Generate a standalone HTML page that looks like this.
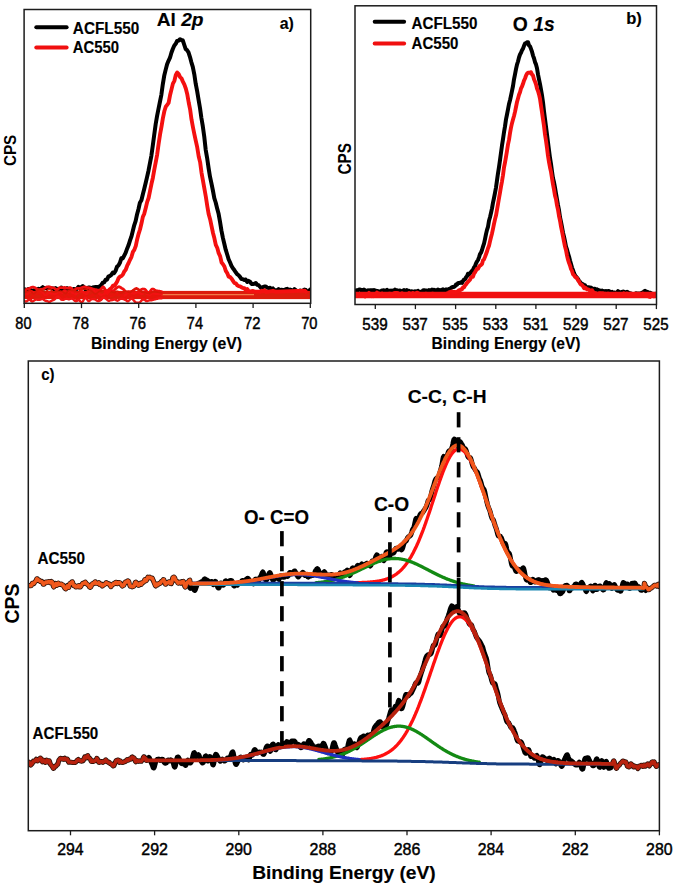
<!DOCTYPE html>
<html><head><meta charset="utf-8"><style>
html,body{margin:0;padding:0;background:#fff;width:675px;height:887px;overflow:hidden}
svg{display:block}
text{font-family:"Liberation Sans",sans-serif}
</style></head><body>
<svg width="675" height="887" viewBox="0 0 675 887" font-family="Liberation Sans, sans-serif">
<rect width="675" height="887" fill="#fff"/>
<clipPath id="ca"><rect x="24.1" y="9.5" width="286.6" height="293.8"/></clipPath>
<g clip-path="url(#ca)">
<polyline points="24.1,289.0 25.5,289.9 27.0,290.9 28.4,289.1 29.8,288.9 31.2,290.8 32.7,290.6 34.1,290.3 35.5,290.3 37.0,289.5 38.4,288.7 39.8,289.4 41.3,288.3 42.7,287.2 44.1,288.5 45.5,287.9 47.0,288.4 48.4,287.7 49.8,288.3 51.3,288.3 52.7,288.4 54.1,289.1 55.6,288.1 57.0,289.0 58.4,289.0 59.8,290.3 61.3,287.6 62.7,289.4 64.1,288.7 65.6,289.0 67.0,288.1 68.4,289.1 69.9,290.2 71.3,289.5 72.7,289.5 74.1,288.9 75.6,289.9 77.0,288.8 78.4,286.9 79.9,288.1 81.3,287.1 82.7,286.0 84.2,288.2 85.6,289.7 87.0,288.7 88.4,287.5 89.9,287.4 91.3,288.7 92.7,287.5 94.2,287.2 95.6,287.0 97.0,287.0 98.5,287.2 99.9,286.3 101.3,285.1 102.7,282.7 104.2,282.4 105.6,279.8 107.0,279.7 108.5,276.4 109.9,276.0 111.3,274.9 112.8,272.5 114.2,273.1 115.6,270.7 117.0,266.8 118.5,265.4 119.9,262.8 121.3,258.3 122.8,258.4 124.2,255.6 125.6,252.9 127.1,248.7 128.5,245.3 129.9,240.8 131.3,236.9 132.8,231.0 134.2,225.3 135.6,221.2 137.1,214.2 138.5,209.0 139.9,202.7 141.4,200.2 142.8,194.5 144.2,189.0 145.6,183.2 147.1,176.9 148.5,170.7 149.9,163.4 151.4,155.6 152.8,145.5 154.2,135.0 155.7,124.0 157.1,115.9 158.5,108.9 159.9,102.0 161.4,94.6 162.8,84.3 164.2,75.8 165.7,69.6 167.1,64.2 168.5,60.8 170.0,57.7 171.4,52.8 172.8,49.0 174.2,45.7 175.7,43.8 177.1,40.9 178.5,40.7 180.0,39.2 181.4,40.2 182.8,40.3 184.3,45.0 185.7,49.2 187.1,50.2 188.5,52.4 190.0,57.1 191.4,62.3 192.8,66.8 194.3,74.3 195.7,83.7 197.1,90.8 198.6,99.8 200.0,108.0 201.4,118.0 202.8,126.2 204.3,137.0 205.7,149.8 207.1,157.8 208.6,168.1 210.0,176.7 211.4,183.2 212.9,190.5 214.3,198.1 215.7,202.5 217.1,208.2 218.6,213.8 220.0,221.6 221.4,230.4 222.9,237.9 224.3,243.8 225.7,249.7 227.2,254.5 228.6,259.2 230.0,262.3 231.4,265.7 232.9,268.3 234.3,270.1 235.7,272.3 237.2,274.2 238.6,275.3 240.0,276.9 241.5,279.1 242.9,279.2 244.3,279.9 245.7,279.5 247.2,282.0 248.6,280.9 250.0,281.7 251.5,283.9 252.9,284.0 254.3,283.8 255.8,283.0 257.2,284.8 258.6,285.2 260.0,286.8 261.5,288.5 262.9,287.1 264.3,286.5 265.8,286.4 267.2,287.7 268.6,288.1 270.1,287.8 271.5,289.2 272.9,288.4 274.3,290.2 275.8,290.2 277.2,290.2 278.6,289.1 280.1,290.1 281.5,289.8 282.9,289.9 284.4,290.0 285.8,289.2 287.2,288.8 288.6,290.4 290.1,289.6 291.5,290.2 292.9,291.1 294.4,289.2 295.8,290.2 297.2,291.1 298.7,291.2 300.1,290.5 301.5,291.5 302.9,290.7 304.4,289.6 305.8,290.0 307.2,291.7 308.7,291.6 310.1,289.6" fill="none" stroke="#000" stroke-width="4.00" stroke-linejoin="round" stroke-linecap="round" />
<rect x="24.1" y="290.9" width="286.6" height="8.2" fill="#dc1c0c"/>
<line x1="161" x2="254" y1="294.7" y2="294.7" stroke="#f27a48" stroke-width="1.3"/>
<polyline points="24.1,291.0 24.6,290.7 25.1,290.3 25.6,289.9 26.1,289.6 26.6,289.2 27.1,289.1 27.6,288.8 28.1,288.9 28.6,288.7 29.1,288.6 29.6,288.4 30.1,288.2 30.6,287.8 31.1,287.5 31.6,287.4 32.1,287.1 32.6,287.1 33.1,287.2 33.6,287.2 34.1,287.4 34.6,287.5 35.1,287.9 35.6,288.1 36.1,288.4 36.6,288.8 37.1,289.1 37.6,289.4 38.1,289.5 38.6,289.7 39.1,289.7 39.6,289.6 40.1,289.6 40.6,289.4 41.1,289.5 41.6,289.3 42.1,289.3 42.6,289.1 43.1,289.0 43.6,288.9 44.1,288.5 44.6,288.2 45.1,287.9 45.6,287.5 46.1,287.3 46.6,287.1 47.1,286.9 47.6,286.8 48.1,286.8 48.6,286.8 49.1,286.9 49.6,286.8 50.1,287.1 50.6,287.4 51.1,287.5 51.6,287.5 52.1,287.8 52.6,287.8 53.1,287.8 53.6,287.9 54.1,288.0 54.6,288.3 55.1,288.9 55.6,289.3 56.1,289.6 56.6,289.8 57.1,289.7 57.6,289.5 58.1,289.1 58.6,288.5 59.1,288.0 59.6,287.7 60.1,287.7 60.6,287.6 61.1,287.7 61.6,287.6 62.1,287.7 62.6,287.7 63.1,287.7 63.6,287.6 64.1,287.5 64.6,287.5 65.1,287.7 65.6,287.8 66.1,287.9 66.6,288.0 67.1,288.2 67.6,288.2 68.1,288.2 68.6,288.0 69.1,287.8 69.6,287.6 70.1,287.6 70.6,287.8 71.1,288.1 71.6,288.6 72.1,289.1 72.6,289.8 73.1,290.3 73.6,290.4 74.1,290.4 74.6,290.0 75.1,289.6 75.6,289.1 76.1,288.7 76.6,288.5 77.1,288.4 77.6,288.3 78.1,288.5 78.6,288.5 79.1,288.5 79.6,288.4 80.1,288.2 80.6,288.0 81.1,287.9 81.6,287.7 82.1,287.6 82.6,287.4 83.1,287.2 83.6,287.0 84.1,286.8 84.6,286.8 85.1,286.8 85.6,287.0 86.1,287.2 86.6,287.5 87.1,287.6 87.6,287.7 88.1,287.7 88.6,287.7 89.1,287.8 89.6,287.9 90.1,288.1 90.6,288.2 91.1,288.4 91.6,288.6 92.1,288.7 92.6,288.9 93.1,289.0 93.6,289.1 94.1,289.3 94.6,289.5 95.1,289.6 95.6,289.7 96.1,289.7 96.6,289.8 97.1,290.0 97.6,290.1 98.1,290.1 98.6,290.3 99.1,290.4 99.6,290.3 100.1,290.1 100.6,289.6 101.1,288.9 101.6,288.2 102.1,287.7 102.6,287.1 103.1,286.9 103.6,287.1 104.1,287.7 104.6,288.6 105.1,289.4 105.6,290.2 106.1,290.9 106.6,291.0 107.1,291.0 107.6,290.6 108.1,290.2 108.6,289.8 109.1,289.6 109.6,289.6 110.1,289.7 110.6,290.0 111.1,290.4 111.6,290.7 112.1,291.0 112.6,291.0 113.1,290.9 113.6,290.7 114.1,290.3 114.6,289.8 115.1,289.2 115.6,288.7 116.1,288.3 116.6,287.9 117.1,287.5 117.6,287.2 118.1,287.0 118.6,286.8 119.1,286.7 119.6,286.9 120.1,287.2 120.6,287.5 121.1,287.8 121.6,288.3 122.1,288.5 122.6,288.7 123.1,289.0 123.6,289.4 124.1,289.9 124.6,290.6 125.1,291.2 125.6,291.7 126.1,292.0 126.6,292.1 127.1,292.1 127.6,291.9 128.1,291.7 128.6,291.7 129.1,291.7 129.6,291.8 130.1,291.8 130.6,291.7 131.1,291.6 131.6,291.4 132.1,291.3 132.6,290.9 133.1,290.4 133.6,290.2 134.1,289.8 134.6,289.4 135.1,289.0 135.6,288.7 136.1,288.5 136.6,288.5 137.1,288.7 137.6,289.0 138.1,289.4 138.6,289.8 139.1,290.2 139.6,290.3 140.1,290.2 140.6,290.0 141.1,289.8 141.6,289.4 142.1,289.2 142.6,289.0 143.1,289.1 143.6,289.0 144.1,289.1 144.6,289.2 145.1,289.5 145.6,290.0 146.1,290.5 146.6,291.2 147.1,291.9 147.6,292.6 148.1,293.0 148.6,293.0 149.1,292.8 149.6,292.2 150.1,291.6 150.6,290.8 151.1,290.1 151.6,289.5 152.1,289.1 152.6,289.0 153.1,289.1 153.6,289.2 154.1,289.5 154.6,289.9 155.1,290.2 155.6,290.5 156.1,290.7 156.6,290.8 157.1,290.9 157.6,290.9 158.1,291.0 158.6,291.1 159.1,291.2 159.6,291.2 160.1,291.3 160.6,291.5 161.1,291.6 161.6,291.7" fill="none" stroke="#f01010" stroke-width="2.80" stroke-linejoin="round" stroke-linecap="round" />
<polyline points="24.1,295.9 24.6,296.0 25.1,295.8 25.6,295.6 26.1,295.3 26.6,294.7 27.1,294.1 27.6,293.7 28.1,293.3 28.6,292.9 29.1,292.5 29.6,292.2 30.1,291.7 30.6,291.6 31.1,291.3 31.6,291.3 32.1,291.6 32.6,292.0 33.1,292.5 33.6,293.1 34.1,293.5 34.6,293.6 35.1,293.4 35.6,292.7 36.1,292.0 36.6,291.3 37.1,290.7 37.6,290.4 38.1,290.3 38.6,290.4 39.1,290.7 39.6,291.1 40.1,291.2 40.6,291.4 41.1,291.6 41.6,291.8 42.1,292.2 42.6,292.7 43.1,293.5 43.6,294.3 44.1,295.1 44.6,295.7 45.1,296.0 45.6,295.9 46.1,295.5 46.6,295.0 47.1,294.3 47.6,293.6 48.1,293.2 48.6,292.9 49.1,292.8 49.6,293.0 50.1,293.2 50.6,293.5 51.1,293.7 51.6,293.9 52.1,294.0 52.6,294.0 53.1,294.0 53.6,294.0 54.1,294.1 54.6,294.0 55.1,294.2 55.6,294.2 56.1,294.0 56.6,293.6 57.1,293.4 57.6,293.0 58.1,292.8 58.6,292.6 59.1,292.7 59.6,292.8 60.1,293.1 60.6,293.3 61.1,293.4 61.6,293.1 62.1,292.8 62.6,292.3 63.1,291.7 63.6,291.1 64.1,290.6 64.6,290.5 65.1,290.7 65.6,291.0 66.1,291.4 66.6,291.9 67.1,292.1 67.6,292.2 68.1,292.0 68.6,291.5 69.1,291.1 69.6,290.8 70.1,290.7 70.6,290.8 71.1,291.1 71.6,291.6 72.1,292.3 72.6,292.9 73.1,293.5 73.6,294.1 74.1,294.4 74.6,294.6 75.1,294.6 75.6,294.3 76.1,293.8 76.6,293.4 77.1,293.0 77.6,292.7 78.1,292.4 78.6,292.2 79.1,292.1 79.6,291.9 80.1,291.7 80.6,291.5 81.1,291.3 81.6,291.3 82.1,291.3 82.6,291.7 83.1,292.1 83.6,292.6 84.1,293.1 84.6,293.6 85.1,293.9 85.6,294.0 86.1,293.9 86.6,293.6 87.1,293.1 87.6,292.6 88.1,292.1 88.6,291.5 89.1,290.9 89.6,290.4 90.1,290.1 90.6,289.8 91.1,289.5 91.6,289.4 92.1,289.6 92.6,290.0 93.1,290.4 93.6,290.9 94.1,291.5 94.6,291.9 95.1,292.3 95.6,292.4 96.1,292.5 96.6,292.5 97.1,292.5 97.6,292.6 98.1,292.9 98.6,293.1 99.1,293.5 99.6,294.0 100.1,294.4 100.6,294.6 101.1,294.8 101.6,295.0 102.1,295.2 102.6,295.1 103.1,294.9 103.6,294.6 104.1,294.2 104.6,293.7 105.1,293.3 105.6,293.0 106.1,292.9 106.6,292.9 107.1,293.3 107.6,293.8 108.1,294.3 108.6,294.7 109.1,295.1 109.6,295.6 110.1,295.8 110.6,295.9 111.1,295.9 111.6,295.7 112.1,295.4 112.6,295.0 113.1,294.7 113.6,294.4 114.1,294.0 114.6,293.7 115.1,293.5 115.6,293.3 116.1,292.9 116.6,292.8 117.1,292.7 117.6,292.5 118.1,292.4 118.6,292.4 119.1,292.4 119.6,292.7 120.1,293.0 120.6,293.4 121.1,294.1 121.6,294.8 122.1,295.4 122.6,296.1 123.1,296.2 123.6,296.2 124.1,296.0 124.6,295.6 125.1,295.4 125.6,295.0 126.1,294.7 126.6,294.6 127.1,294.6 127.6,294.5 128.1,294.4 128.6,294.1 129.1,293.9 129.6,293.7 130.1,293.4 130.6,293.2 131.1,293.0 131.6,293.1 132.1,293.2 132.6,293.4 133.1,293.5 133.6,293.6 134.1,293.6 134.6,293.5 135.1,293.3 135.6,293.2 136.1,293.0 136.6,292.9 137.1,292.8 137.6,292.7 138.1,292.8 138.6,292.8 139.1,293.0 139.6,293.2 140.1,293.5 140.6,293.7 141.1,294.0 141.6,294.1 142.1,293.9 142.6,293.7 143.1,293.5 143.6,293.2 144.1,292.8 144.6,292.7 145.1,292.6 145.6,292.7 146.1,293.0 146.6,293.4 147.1,294.1 147.6,294.7 148.1,295.3 148.6,295.7 149.1,296.0 149.6,296.1 150.1,296.0 150.6,295.7 151.1,295.3 151.6,295.0 152.1,294.7 152.6,294.4 153.1,294.2 153.6,294.1 154.1,294.1 154.6,294.2 155.1,294.2 155.6,294.1 156.1,294.0 156.6,294.0 157.1,293.9 157.6,293.7 158.1,293.7 158.6,293.6 159.1,293.7 159.6,293.7 160.1,293.7 160.6,293.8 161.1,293.8 161.6,293.9" fill="none" stroke="#f21212" stroke-width="2.60" stroke-linejoin="round" stroke-linecap="round" />
<polyline points="24.1,296.9 24.6,296.6 25.1,296.5 25.6,296.5 26.1,296.5 26.6,296.6 27.1,296.9 27.6,297.3 28.1,297.7 28.6,298.2 29.1,298.6 29.6,298.9 30.1,299.1 30.6,299.0 31.1,298.7 31.6,298.0 32.1,297.4 32.6,296.6 33.1,295.9 33.6,295.2 34.1,294.5 34.6,294.1 35.1,293.9 35.6,293.7 36.1,293.7 36.6,293.7 37.1,293.5 37.6,293.3 38.1,293.3 38.6,292.9 39.1,292.9 39.6,292.9 40.1,293.2 40.6,293.7 41.1,294.3 41.6,294.8 42.1,295.5 42.6,296.0 43.1,296.5 43.6,296.9 44.1,297.3 44.6,297.5 45.1,297.7 45.6,297.7 46.1,297.8 46.6,297.5 47.1,297.4 47.6,297.3 48.1,297.2 48.6,297.0 49.1,296.8 49.6,296.4 50.1,296.1 50.6,295.9 51.1,295.9 51.6,295.9 52.1,296.1 52.6,296.3 53.1,296.8 53.6,297.0 54.1,296.9 54.6,296.8 55.1,296.7 55.6,296.5 56.1,296.4 56.6,296.2 57.1,296.0 57.6,295.6 58.1,295.4 58.6,294.9 59.1,294.4 59.6,294.1 60.1,294.3 60.6,294.7 61.1,295.4 61.6,296.3 62.1,297.1 62.6,297.7 63.1,298.0 63.6,297.8 64.1,297.6 64.6,296.8 65.1,296.2 65.6,295.5 66.1,294.8 66.6,294.4 67.1,294.3 67.6,294.2 68.1,294.4 68.6,294.7 69.1,295.1 69.6,295.4 70.1,295.7 70.6,295.7 71.1,295.7 71.6,295.5 72.1,295.4 72.6,295.4 73.1,295.4 73.6,295.7 74.1,296.2 74.6,296.6 75.1,297.3 75.6,297.9 76.1,298.6 76.6,299.1 77.1,299.4 77.6,299.5 78.1,299.4 78.6,299.1 79.1,298.7 79.6,298.1 80.1,297.4 80.6,296.7 81.1,296.3 81.6,295.9 82.1,295.5 82.6,295.3 83.1,295.2 83.6,295.3 84.1,295.6 84.6,296.0 85.1,296.5 85.6,296.8 86.1,297.2 86.6,297.3 87.1,297.5 87.6,297.4 88.1,297.2 88.6,297.0 89.1,296.8 89.6,296.6 90.1,296.3 90.6,296.2 91.1,295.9 91.6,295.6 92.1,295.4 92.6,295.0 93.1,294.7 93.6,294.3 94.1,294.1 94.6,293.9 95.1,293.9 95.6,294.2 96.1,294.7 96.6,295.3 97.1,296.0 97.6,296.8 98.1,297.6 98.6,298.3 99.1,299.0 99.6,299.6 100.1,299.9 100.6,299.9 101.1,299.7 101.6,299.1 102.1,298.2 102.6,297.4 103.1,296.8 103.6,296.3 104.1,296.1 104.6,296.2 105.1,296.5 105.6,296.9 106.1,297.1 106.6,297.3 107.1,297.2 107.6,296.9 108.1,296.5 108.6,296.1 109.1,295.6 109.6,295.0 110.1,294.8 110.6,294.8 111.1,294.8 111.6,295.0 112.1,295.0 112.6,295.1 113.1,295.2 113.6,295.1 114.1,294.8 114.6,294.6 115.1,294.4 115.6,294.3 116.1,294.4 116.6,294.5 117.1,294.6 117.6,294.7 118.1,294.8 118.6,294.9 119.1,294.8 119.6,294.6 120.1,294.7 120.6,294.7 121.1,294.8 121.6,295.3 122.1,295.9 122.6,296.6 123.1,297.4 123.6,298.1 124.1,298.7 124.6,299.1 125.1,299.3 125.6,299.2 126.1,298.8 126.6,298.2 127.1,297.4 127.6,296.7 128.1,295.9 128.6,295.3 129.1,295.0 129.6,294.8 130.1,295.0 130.6,295.3 131.1,295.7 131.6,296.2 132.1,296.5 132.6,296.8 133.1,297.0 133.6,297.1 134.1,297.1 134.6,297.0 135.1,296.6 135.6,296.3 136.1,295.9 136.6,295.3 137.1,295.0 137.6,294.9 138.1,295.0 138.6,295.3 139.1,295.6 139.6,296.1 140.1,296.4 140.6,296.7 141.1,297.0 141.6,297.3 142.1,297.7 142.6,298.3 143.1,298.9 143.6,299.2 144.1,299.4 144.6,299.2 145.1,298.9 145.6,298.4 146.1,297.7 146.6,297.2 147.1,297.0 147.6,296.9 148.1,297.0 148.6,297.3 149.1,297.6 149.6,297.8 150.1,297.9 150.6,297.7 151.1,297.4 151.6,296.9 152.1,296.5 152.6,296.1 153.1,295.8 153.6,295.9 154.1,296.1 154.6,296.3 155.1,296.5 155.6,296.7 156.1,296.8 156.6,296.8 157.1,296.8 157.6,296.8 158.1,296.8 158.6,296.8 159.1,296.8 159.6,296.9 160.1,296.9 160.6,296.9 161.1,297.0 161.6,297.0" fill="none" stroke="#e8140c" stroke-width="2.80" stroke-linejoin="round" stroke-linecap="round" />
<polyline points="24.1,301.0 24.6,301.2 25.1,301.4 25.6,301.5 26.1,301.6 26.6,301.4 27.1,301.2 27.6,300.7 28.1,300.2 28.6,299.7 29.1,299.6 29.6,299.6 30.1,300.0 30.6,300.5 31.1,301.0 31.6,301.3 32.1,301.5 32.6,301.4 33.1,301.2 33.6,300.8 34.1,300.5 34.6,300.1 35.1,299.9 35.6,299.7 36.1,299.6 36.6,299.6 37.1,299.6 37.6,299.7 38.1,299.7 38.6,299.9 39.1,299.9 39.6,299.8 40.1,299.7 40.6,299.5 41.1,299.3 41.6,299.1 42.1,299.0 42.6,299.0 43.1,299.2 43.6,299.6 44.1,300.0 44.6,300.4 45.1,300.6 45.6,300.7 46.1,301.0 46.6,301.1 47.1,301.2 47.6,301.3 48.1,301.5 48.6,301.8 49.1,301.9 49.6,301.9 50.1,301.6 50.6,301.4 51.1,301.0 51.6,300.8 52.1,300.4 52.6,300.2 53.1,300.1 53.6,299.9 54.1,299.7 54.6,299.3 55.1,298.8 55.6,298.3 56.1,297.7 56.6,297.2 57.1,296.7 57.6,296.5 58.1,296.5 58.6,296.7 59.1,297.1 59.6,297.7 60.1,298.3 60.6,298.8 61.1,299.4 61.6,299.7 62.1,299.9 62.6,299.9 63.1,299.9 63.6,299.8 64.1,299.5 64.6,299.1 65.1,299.0 65.6,298.8 66.1,298.6 66.6,298.6 67.1,298.8 67.6,298.9 68.1,299.1 68.6,299.3 69.1,299.4 69.6,299.2 70.1,299.0 70.6,298.8 71.1,298.7 71.6,298.5 72.1,298.6 72.6,298.8 73.1,299.1 73.6,299.6 74.1,300.2 74.6,300.6 75.1,300.9 75.6,301.1 76.1,301.2 76.6,301.0 77.1,300.8 77.6,300.4 78.1,300.3 78.6,300.0 79.1,300.2 79.6,300.6 80.1,301.1 80.6,301.6 81.1,302.0 81.6,302.3 82.1,302.1 82.6,301.6 83.1,301.0 83.6,300.0 84.1,299.1 84.6,298.2 85.1,297.9 85.6,297.8 86.1,298.1 86.6,298.7 87.1,299.4 87.6,300.2 88.1,300.8 88.6,301.1 89.1,301.1 89.6,300.7 90.1,300.3 90.6,299.9 91.1,299.5 91.6,299.2 92.1,299.1 92.6,299.1 93.1,299.0 93.6,299.1 94.1,299.2 94.6,299.3 95.1,299.4 95.6,299.7 96.1,300.1 96.6,300.5 97.1,300.8 97.6,301.0 98.1,301.1 98.6,301.1 99.1,300.9 99.6,300.7 100.1,300.3 100.6,299.8 101.1,299.4 101.6,298.8 102.1,298.3 102.6,298.0 103.1,297.7 103.6,297.6 104.1,297.6 104.6,297.8 105.1,298.1 105.6,298.4 106.1,298.8 106.6,299.3 107.1,299.7 107.6,300.2 108.1,300.6 108.6,300.7 109.1,300.7 109.6,300.7 110.1,300.5 110.6,300.3 111.1,300.2 111.6,300.1 112.1,300.1 112.6,300.0 113.1,299.9 113.6,299.7 114.1,299.5 114.6,299.4 115.1,299.6 115.6,299.7 116.1,300.1 116.6,300.4 117.1,300.6 117.6,300.7 118.1,300.5 118.6,300.2 119.1,299.7 119.6,299.3 120.1,299.0 120.6,298.9 121.1,298.8 121.6,298.8 122.1,298.9 122.6,298.9 123.1,299.0 123.6,299.1 124.1,299.2 124.6,299.4 125.1,299.7 125.6,300.0 126.1,300.4 126.6,300.8 127.1,301.2 127.6,301.4 128.1,301.3 128.6,301.0 129.1,300.5 129.6,299.9 130.1,299.3 130.6,298.8 131.1,298.5 131.6,298.5 132.1,298.7 132.6,299.1 133.1,299.6 133.6,300.2 134.1,300.8 134.6,301.3 135.1,302.0 135.6,302.3 136.1,302.6 136.6,302.8 137.1,302.8 137.6,302.8 138.1,302.7 138.6,302.7 139.1,302.5 139.6,302.3 140.1,302.0 140.6,301.6 141.1,301.0 141.6,300.4 142.1,299.9 142.6,299.4 143.1,299.2 143.6,299.2 144.1,299.4 144.6,299.7 145.1,300.2 145.6,300.6 146.1,301.0 146.6,301.0 147.1,301.0 147.6,301.0 148.1,300.7 148.6,300.5 149.1,300.5 149.6,300.3 150.1,300.4 150.6,300.3 151.1,300.3 151.6,300.2 152.1,300.1 152.6,299.9 153.1,299.8 153.6,299.6 154.1,299.5 154.6,299.4 155.1,299.3 155.6,299.1 156.1,299.0 156.6,298.9 157.1,298.8 157.6,298.7 158.1,298.5 158.6,298.4 159.1,298.3 159.6,298.2 160.1,298.2 160.6,298.2 161.1,298.2 161.6,298.2" fill="none" stroke="#f01414" stroke-width="2.40" stroke-linejoin="round" stroke-linecap="round" />
<polyline points="24.1,292.4 24.6,292.3 25.1,292.2 25.6,292.1 26.1,291.9 26.6,291.8 27.1,291.6 27.6,291.4 28.1,291.2 28.6,290.9 29.1,290.5 29.6,290.4 30.1,290.5 30.6,290.7 31.1,291.2 31.6,291.8 32.1,292.4 32.6,293.0 33.1,293.5 33.6,293.7 34.1,293.7 34.6,293.5 35.1,293.0 35.6,292.4 36.1,291.8 36.6,291.2 37.1,290.6 37.6,290.1 38.1,289.8 38.6,289.6 39.1,289.5 39.6,289.5 40.1,289.6 40.6,289.8 41.1,290.0 41.6,290.3 42.1,290.5 42.6,290.7 43.1,290.9 43.6,291.2 44.1,291.3 44.6,291.5 45.1,291.5 45.6,291.5 46.1,291.3 46.6,291.0 47.1,290.6 47.6,290.1 48.1,289.7 48.6,289.3 49.1,289.0 49.6,289.1 50.1,289.2 50.6,289.5 51.1,290.0 51.6,290.6 52.1,291.0 52.6,291.4 53.1,291.7 53.6,291.9 54.1,292.0 54.6,291.9 55.1,291.8 55.6,291.7 56.1,291.5 56.6,291.6 57.1,291.5 57.6,291.4 58.1,291.3 58.6,291.4 59.1,291.3 59.6,291.2 60.1,291.1 60.6,291.1 61.1,291.2 61.6,291.3 62.1,291.5 62.6,291.7 63.1,292.1 63.6,292.5 64.1,292.9 64.6,293.2 65.1,293.3 65.6,293.4 66.1,293.2 66.6,292.7 67.1,292.1 67.6,291.5 68.1,291.0 68.6,290.5 69.1,290.3 69.6,290.3 70.1,290.3 70.6,290.3 71.1,290.4 71.6,290.5 72.1,290.5 72.6,290.5 73.1,290.5 73.6,290.4 74.1,290.5 74.6,290.5 75.1,290.7 75.6,291.0 76.1,291.2 76.6,291.6 77.1,291.9 77.6,292.0 78.1,291.9 78.6,291.6 79.1,291.2 79.6,290.6 80.1,290.1 80.6,289.5 81.1,289.3 81.6,289.1 82.1,289.1 82.6,289.2 83.1,289.2 83.6,289.2 84.1,289.1 84.6,289.0 85.1,289.0 85.6,289.0 86.1,289.2 86.6,289.4 87.1,289.7 87.6,290.0 88.1,290.2 88.6,290.3 89.1,290.3 89.6,290.2 90.1,290.2 90.6,290.4 91.1,290.5 91.6,290.8 92.1,291.2 92.6,291.8 93.1,292.3 93.6,292.8 94.1,293.3 94.6,293.7 95.1,293.8 95.6,293.9 96.1,293.8 96.6,293.5 97.1,293.0 97.6,292.6 98.1,292.2 98.6,291.9 99.1,291.5 99.6,291.3 100.1,291.2 100.6,291.0 101.1,290.9 101.6,290.7 102.1,290.6 102.6,290.4 103.1,290.3 103.6,290.2 104.1,290.1 104.6,290.1 105.1,290.3 105.6,290.5 106.1,290.6 106.6,290.9 107.1,291.1 107.6,291.3 108.1,291.5 108.6,291.4 109.1,291.5 109.6,291.5 110.1,291.6 110.6,291.4 111.1,291.5 111.6,291.6 112.1,291.9 112.6,292.2 113.1,292.2 113.6,292.5 114.1,292.6 114.6,292.5 115.1,292.4 115.6,291.9 116.1,291.6 116.6,291.3 117.1,291.2 117.6,291.2 118.1,291.5 118.6,292.0 119.1,292.4 119.6,292.8 120.1,293.0 120.6,293.1 121.1,293.1 121.6,292.9 122.1,292.7 122.6,292.4 123.1,292.2 123.6,291.9 124.1,291.6 124.6,291.3 125.1,291.2 125.6,291.2 126.1,291.2 126.6,291.2 127.1,291.5 127.6,291.8 128.1,292.0 128.6,292.2 129.1,292.3 129.6,292.4 130.1,292.4 130.6,292.1 131.1,291.9 131.6,291.4 132.1,291.0 132.6,290.6 133.1,290.2 133.6,289.8 134.1,289.5 134.6,289.3 135.1,289.1 135.6,289.0 136.1,288.9 136.6,288.9 137.1,289.1 137.6,289.2 138.1,289.3 138.6,289.7 139.1,289.9 139.6,290.2 140.1,290.6 140.6,290.9 141.1,291.2 141.6,291.7 142.1,291.9 142.6,292.3 143.1,292.4 143.6,292.5 144.1,292.5 144.6,292.6 145.1,292.5 145.6,292.7 146.1,292.8 146.6,293.0 147.1,293.2 147.6,293.3 148.1,293.3 148.6,293.3 149.1,293.1 149.6,292.9 150.1,292.7 150.6,292.5 151.1,292.3 151.6,292.2 152.1,292.0 152.6,291.8 153.1,291.7 153.6,291.6 154.1,291.5 154.6,291.4 155.1,291.5 155.6,291.6 156.1,291.8 156.6,291.9 157.1,292.0 157.6,292.1 158.1,292.2 158.6,292.3 159.1,292.4 159.6,292.5 160.1,292.6 160.6,292.8 161.1,292.9 161.6,293.0" fill="none" stroke="#d81808" stroke-width="1.60" stroke-linejoin="round" stroke-linecap="round" />
<polyline points="105.7,291.3 107.2,291.5 108.6,291.1 110.0,289.1 111.4,288.2 112.9,285.8 114.3,285.9 115.7,284.0 117.2,281.5 118.6,278.1 120.0,276.6 121.5,276.0 122.9,274.5 124.3,271.4 125.7,269.7 127.2,265.7 128.6,263.0 130.0,259.8 131.5,256.8 132.9,251.9 134.3,249.9 135.8,245.8 137.2,239.2 138.6,233.8 140.0,229.5 141.5,223.3 142.9,216.7 144.3,213.6 145.8,207.8 147.2,201.9 148.6,198.0 150.1,190.6 151.5,183.8 152.9,177.7 154.3,169.6 155.8,161.9 157.2,154.3 158.6,143.9 160.1,134.1 161.5,126.6 162.9,118.1 164.4,111.0 165.8,106.7 167.2,104.8 168.6,102.9 170.1,95.0 171.5,89.4 172.9,83.6 174.4,80.8 175.8,75.0 177.2,72.5 178.7,74.1 180.1,77.1 181.5,78.4 182.9,81.6 184.4,84.7 185.8,88.5 187.2,93.9 188.7,102.5 190.1,109.3 191.5,119.4 193.0,127.5 194.4,134.3 195.8,140.8 197.2,147.2 198.7,156.5 200.1,162.1 201.5,172.6 203.0,180.8 204.4,188.7 205.8,196.5 207.3,206.2 208.7,214.3 210.1,219.2 211.5,225.9 213.0,233.0 214.4,238.3 215.8,244.9 217.3,248.0 218.7,253.2 220.1,256.1 221.6,262.5 223.0,264.2 224.4,266.5 225.8,270.9 227.3,273.3 228.7,276.8 230.1,276.9 231.6,278.7 233.0,280.8 234.4,283.0 235.9,283.3 237.3,285.3 238.7,286.1 240.1,286.4 241.6,287.4 243.0,288.0 244.4,288.1 245.9,290.3 247.3,289.0 248.7,291.3 250.2,291.5 251.6,291.1 253.0,290.9 254.4,291.6 258.7,291.6 260.2,291.9 261.6,290.7 263.0,291.3 264.5,290.2 265.9,292.0 267.3,291.8 268.7,291.7 273.0,290.8 275.9,291.8 304.5,290.6 305.9,291.8" fill="none" stroke="#f41010" stroke-width="3.90" stroke-linejoin="round" stroke-linecap="round" />
</g>
<rect x="24.1" y="9.5" width="286.6" height="293.8" fill="none" stroke="#1c1c1c" stroke-width="1.5"/>
<line x1="24.3" x2="24.3" y1="303.3" y2="308.1" stroke="#1c1c1c" stroke-width="1.3"/>
<line x1="81.5" x2="81.5" y1="303.3" y2="308.1" stroke="#1c1c1c" stroke-width="1.3"/>
<line x1="138.7" x2="138.7" y1="303.3" y2="308.1" stroke="#1c1c1c" stroke-width="1.3"/>
<line x1="195.9" x2="195.9" y1="303.3" y2="308.1" stroke="#1c1c1c" stroke-width="1.3"/>
<line x1="253.1" x2="253.1" y1="303.3" y2="308.1" stroke="#1c1c1c" stroke-width="1.3"/>
<line x1="310.3" x2="310.3" y1="303.3" y2="308.1" stroke="#1c1c1c" stroke-width="1.3"/>
<line x1="36.3" x2="66.6" y1="27.3" y2="27.3" stroke="#000" stroke-width="4.0" stroke-linecap="round"/>
<line x1="36.3" x2="66.6" y1="47.4" y2="47.4" stroke="#f01010" stroke-width="4.0" stroke-linecap="round"/>
<text transform="translate(72.84 33.83) scale(0.9062 1)" font-size="16.90" fill="#000" stroke="#000" stroke-width="0.15" xml:space="preserve"><tspan font-weight="bold" font-style="normal">ACFL550</tspan></text>
<text transform="translate(72.85 52.54) scale(0.9271 1)" font-size="16.06" fill="#000" stroke="#000" stroke-width="0.15" xml:space="preserve"><tspan font-weight="bold" font-style="normal">AC550</tspan></text>
<text transform="translate(156.73 25.54) scale(1.0420 1)" font-size="18.39" fill="#000" stroke="#000" stroke-width="0.15" xml:space="preserve"><tspan font-weight="bold" font-style="normal">Al </tspan><tspan font-weight="bold" font-style="italic">2p</tspan></text>
<text transform="translate(279.72 28.95) scale(0.9680 1)" font-size="16.45" fill="#000" stroke="#000" stroke-width="0.15" xml:space="preserve"><tspan font-weight="bold" font-style="normal">a)</tspan></text>
<text transform="translate(16.03 166.11) rotate(-90) scale(0.9100 1)" font-size="16.76" fill="#000"><tspan font-weight="bold">CPS</tspan></text>
<text transform="translate(15.37 328.74) scale(0.9043 1)" font-size="16.06" fill="#000" stroke="#000" stroke-width="0.45" xml:space="preserve"><tspan font-weight="normal" font-style="normal">80</tspan></text>
<text transform="translate(72.41 328.74) scale(0.9220 1)" font-size="16.06" fill="#000" stroke="#000" stroke-width="0.45" xml:space="preserve"><tspan font-weight="normal" font-style="normal">78</tspan></text>
<text transform="translate(129.61 328.74) scale(0.9220 1)" font-size="16.06" fill="#000" stroke="#000" stroke-width="0.45" xml:space="preserve"><tspan font-weight="normal" font-style="normal">76</tspan></text>
<text transform="translate(186.82 328.90) scale(0.8788 1)" font-size="16.52" fill="#000" stroke="#000" stroke-width="0.45" xml:space="preserve"><tspan font-weight="normal" font-style="normal">74</tspan></text>
<text transform="translate(244.01 328.90) scale(0.9090 1)" font-size="16.29" fill="#000" stroke="#000" stroke-width="0.45" xml:space="preserve"><tspan font-weight="normal" font-style="normal">72</tspan></text>
<text transform="translate(301.22 328.74) scale(0.9130 1)" font-size="16.06" fill="#000" stroke="#000" stroke-width="0.45" xml:space="preserve"><tspan font-weight="normal" font-style="normal">70</tspan></text>
<text transform="translate(90.89 349.18) scale(1.0016 1)" font-size="15.81" fill="#000" stroke="#000" stroke-width="0.15" xml:space="preserve"><tspan font-weight="bold" font-style="normal">Binding Energy (eV)</tspan></text>
<clipPath id="cb"><rect x="355.0" y="5.8" width="301.5" height="298.7"/></clipPath>
<g clip-path="url(#cb)">
<polyline points="355.0,290.8 356.0,290.5 357.0,290.3 358.0,290.3 359.0,289.4 360.0,289.4 361.0,290.1 362.0,289.9 363.0,290.4 364.0,289.5 365.0,290.3 366.0,290.6 367.0,290.8 368.0,290.3 369.0,290.9 370.0,290.2 371.0,290.2 372.0,290.2 373.0,290.6 374.0,290.1 375.0,291.0 376.0,290.8 377.0,290.9 378.0,291.2 379.0,291.5 380.0,291.6 381.0,291.2 382.0,290.5 383.0,290.5 384.0,290.2 385.0,291.0 386.0,290.6 387.0,289.8 388.0,291.7 389.0,291.2 390.0,290.6 391.0,291.0 392.0,290.5 393.0,291.8 394.0,290.8 395.0,289.6 396.0,290.6 397.0,290.2 398.0,291.7 399.0,290.6 400.0,290.4 401.0,291.6 402.0,291.3 403.0,291.0 404.0,290.0 405.0,291.1 406.0,291.8 407.0,290.1 408.0,291.7 409.0,290.8 410.0,292.3 411.0,291.4 412.0,291.2 413.0,292.0 414.0,291.8 415.0,291.2 416.0,291.9 417.0,291.3 418.0,290.8 419.0,293.0 420.0,291.9 421.0,291.7 422.0,291.8 423.0,290.5 424.0,290.2 425.0,290.5 426.0,290.4 427.0,290.6 428.0,291.0 429.0,290.1 430.0,290.4 431.0,290.5 432.0,289.6 433.0,290.4 434.0,289.7 435.0,290.7 436.0,290.3 437.0,290.1 438.0,289.5 439.0,290.4 440.0,290.0 441.0,290.5 442.0,289.8 443.0,289.3 444.0,290.1 445.0,290.0 446.0,289.4 447.0,290.2 448.0,289.3 449.0,289.0 450.0,288.8 451.0,287.9 452.0,287.4 453.0,286.9 454.0,287.0 455.0,286.2 456.0,284.5 457.0,284.7 458.0,283.2 459.0,282.9 460.0,282.9 461.0,282.3 462.0,282.9 463.0,281.1 464.0,279.4 465.0,279.5 466.0,277.4 467.0,276.2 468.0,273.7 469.0,274.6 470.0,273.3 471.0,272.1 472.0,270.9 473.0,269.8 474.0,267.5 475.0,266.2 476.0,263.4 477.0,261.5 478.0,260.0 479.0,257.4 480.0,254.2 481.0,252.7 482.0,250.0 483.0,246.7 484.0,243.6 485.0,239.1 486.0,234.1 487.0,229.9 488.0,226.8 489.0,220.7 490.0,217.3 491.0,213.0 492.0,208.4 493.0,202.6 494.0,198.0 495.0,192.9 496.0,187.5 497.0,180.4 498.0,173.2 499.0,167.1 500.0,160.1 501.0,152.8 502.0,145.4 503.0,139.1 504.0,132.3 505.0,126.4 506.0,119.4 507.0,114.5 508.0,109.3 509.0,104.0 510.0,100.3 511.0,95.8 512.0,90.9 513.0,86.0 514.0,79.3 515.0,74.3 516.0,69.2 517.0,64.6 518.0,61.5 519.0,57.5 520.0,54.5 521.0,52.7 522.0,50.2 523.0,48.6 524.0,45.8 525.0,43.5 526.0,43.4 527.0,42.2 528.0,42.2 529.0,45.4 530.0,46.2 531.0,48.9 532.0,51.7 533.0,55.6 534.0,58.2 535.0,62.1 536.0,64.4 537.0,68.3 538.0,74.4 539.0,79.3 540.0,84.1 541.0,89.5 542.0,95.4 543.0,102.2 544.0,111.3 545.0,119.0 546.0,126.7 547.0,134.4 548.0,142.6 549.0,150.3 550.0,157.9 551.0,164.0 552.0,171.4 553.0,178.2 554.0,182.3 555.0,187.7 556.0,193.5 557.0,199.3 558.0,205.2 559.0,210.2 560.0,217.2 561.0,221.9 562.0,227.2 563.0,232.7 564.0,236.7 565.0,241.5 566.0,246.7 567.0,249.5 568.0,253.4 569.0,256.6 570.0,260.6 571.0,264.1 572.0,267.6 573.0,270.3 574.0,273.1 575.0,275.4 576.0,276.5 577.0,277.7 578.0,279.0 579.0,281.0 580.0,281.8 581.0,283.2 582.0,284.1 583.0,284.3 584.0,285.5 585.0,285.2 586.0,287.5 587.0,287.5 588.0,287.3 589.0,287.3 590.0,288.5 591.0,287.6 592.0,288.3 593.0,289.1 594.0,288.8 595.0,288.8 596.0,289.8 597.0,289.2 598.0,290.4 599.0,290.3 600.0,290.4 601.0,291.2 602.0,290.6 603.0,292.2 604.0,291.1 605.0,292.5 606.0,291.0 607.0,291.9 608.0,291.1 609.0,291.1 610.0,292.0 611.0,292.5 612.0,291.8 613.0,293.3 614.0,292.4 615.0,292.8 616.0,292.6 617.0,292.5 618.0,291.1 619.0,292.8 620.0,292.5 621.0,292.2 622.0,291.9 623.0,291.6 624.0,291.7 625.0,292.6 626.0,292.1 627.0,291.8 628.0,292.3 629.0,293.7 630.0,293.2 631.0,293.4 632.0,294.6 633.0,294.3 634.0,294.2 635.0,293.9 636.0,293.3 637.0,293.4 638.0,293.5 639.0,293.4 640.0,293.4 641.0,293.3 642.0,292.7 643.0,292.4 644.0,291.5 645.0,290.8 646.0,291.7 647.0,291.8 648.0,292.2 649.0,292.8 650.0,292.7 651.0,293.1 652.0,293.9 653.0,294.2 654.0,293.8 655.0,294.2 656.0,293.7" fill="none" stroke="#000" stroke-width="4.00" stroke-linejoin="round" stroke-linecap="round" />
<line x1="355.0" x2="656.5" y1="295.0" y2="295.0" stroke="#f01010" stroke-width="6.4"/>
<polyline points="355.0,295.6 356.0,295.1 357.0,295.2 358.0,294.7 359.0,294.9 360.0,295.1 361.0,295.2 362.0,294.5 363.0,295.8 364.0,294.4 365.0,296.4 366.0,295.0 367.0,294.7 368.0,294.1 369.0,292.9 370.0,294.7 371.0,295.0 372.0,296.1 373.0,294.2 374.0,296.1 375.0,294.6 376.0,294.8 377.0,292.6 378.0,293.9 379.0,293.5 380.0,294.2 381.0,294.1 382.0,293.6 383.0,295.1 384.0,295.2 385.0,295.3 386.0,295.5 387.0,295.4 388.0,294.6 389.0,293.7 390.0,293.6 391.0,295.2 392.0,294.7 393.0,294.0 394.0,293.1 395.0,293.0 396.0,293.0 397.0,293.0 398.0,293.1 399.0,295.2 400.0,294.2 401.0,293.7 402.0,293.3 403.0,293.7 404.0,294.9 405.0,295.2 406.0,294.8 407.0,294.7 408.0,294.1 409.0,293.1 410.0,294.2 411.0,293.5 412.0,294.9 413.0,293.1 414.0,293.6 415.0,294.2 416.0,293.3 417.0,292.6 418.0,293.0 419.0,293.9 420.0,294.4 421.0,294.5 422.0,295.3 423.0,295.2 424.0,294.5 425.0,294.0 426.0,293.7 427.0,294.4 428.0,294.9 429.0,294.8 430.0,295.1 431.0,294.6 432.0,293.7 433.0,293.8 434.0,294.8 435.0,294.7 436.0,295.4 437.0,294.4 438.0,294.9 439.0,295.1 440.0,295.0 441.0,294.1 442.0,294.5 443.0,294.7 444.0,294.1 445.0,294.8 446.0,294.9 447.0,293.5 448.0,294.4 449.0,292.4 450.0,292.0 451.0,291.8 452.0,291.4 453.0,292.0 454.0,291.8 455.0,292.6 456.0,291.9 457.0,291.7 458.0,291.2 459.0,290.2 460.0,290.5 461.0,289.3 462.0,289.3 463.0,287.5 464.0,287.3 465.0,285.5 466.0,284.4 467.0,282.9 468.0,281.7 469.0,280.8 470.0,279.7 471.0,277.4 472.0,276.8 473.0,276.7 474.0,273.7 475.0,272.3 476.0,270.6 477.0,268.7 478.0,268.8 479.0,266.8 480.0,265.6 481.0,265.0 482.0,263.9 483.0,260.2 484.0,259.4 485.0,256.9 486.0,254.2 487.0,251.5 488.0,248.2 489.0,245.7 490.0,241.4 491.0,237.2 492.0,233.4 493.0,228.8 494.0,223.9 495.0,219.3 496.0,215.6 497.0,209.9 498.0,204.2 499.0,198.2 500.0,192.7 501.0,186.6 502.0,181.3 503.0,175.2 504.0,167.5 505.0,162.5 506.0,156.9 507.0,150.9 508.0,144.4 509.0,139.9 510.0,133.2 511.0,127.7 512.0,123.2 513.0,119.6 514.0,116.0 515.0,111.9 516.0,107.0 517.0,102.0 518.0,98.4 519.0,94.8 520.0,92.3 521.0,88.4 522.0,86.5 523.0,83.8 524.0,80.6 525.0,78.5 526.0,75.6 527.0,73.6 528.0,72.7 529.0,72.9 530.0,72.5 531.0,72.2 532.0,74.5 533.0,75.5 534.0,79.2 535.0,81.6 536.0,84.3 537.0,88.5 538.0,90.9 539.0,94.4 540.0,98.8 541.0,105.7 542.0,112.2 543.0,119.3 544.0,126.0 545.0,134.5 546.0,140.8 547.0,148.0 548.0,156.0 549.0,162.2 550.0,167.5 551.0,171.9 552.0,178.2 553.0,184.4 554.0,189.6 555.0,195.8 556.0,199.2 557.0,205.4 558.0,209.7 559.0,216.0 560.0,220.5 561.0,226.7 562.0,231.3 563.0,236.4 564.0,241.6 565.0,246.5 566.0,250.2 567.0,255.6 568.0,259.7 569.0,262.9 570.0,265.5 571.0,269.0 572.0,271.0 573.0,274.2 574.0,275.1 575.0,276.7 576.0,277.6 577.0,278.1 578.0,280.3 579.0,281.4 580.0,283.5 581.0,284.6 582.0,285.1 583.0,286.2 584.0,288.2 585.0,287.5 586.0,288.3 587.0,289.3 588.0,289.4 589.0,289.8 590.0,290.7 591.0,291.7 592.0,290.2 593.0,291.9 594.0,292.6 595.0,293.2 596.0,293.5 597.0,293.6 598.0,294.4 599.0,293.3 600.0,293.3 601.0,293.3 602.0,293.4 603.0,293.3 604.0,294.2 605.0,293.7 606.0,293.9 607.0,293.9 608.0,293.6 609.0,293.9 610.0,294.1 611.0,295.2 612.0,294.8 613.0,294.6 614.0,295.3 615.0,295.3 616.0,293.7 617.0,295.6 618.0,294.6 619.0,294.6 620.0,295.3 621.0,294.6 622.0,294.0 623.0,295.5 624.0,293.4 625.0,293.9 626.0,294.5 627.0,293.5 628.0,294.2 629.0,294.6 630.0,295.9 631.0,293.9 632.0,294.4 633.0,295.0 634.0,294.6 635.0,293.9 636.0,295.0 637.0,294.7 638.0,294.9 639.0,295.3 640.0,295.1 641.0,294.6 642.0,294.4 643.0,293.5 644.0,294.2 645.0,294.8 646.0,294.8 647.0,295.5 648.0,295.1 649.0,296.6 650.0,296.9 651.0,295.3 652.0,295.8 653.0,295.3 654.0,296.2 655.0,295.7 656.0,295.4" fill="none" stroke="#f41010" stroke-width="3.90" stroke-linejoin="round" stroke-linecap="round" />
</g>
<rect x="355.0" y="5.8" width="301.5" height="298.7" fill="none" stroke="#1c1c1c" stroke-width="1.5"/>
<line x1="375.3" x2="375.3" y1="304.5" y2="309.1" stroke="#1c1c1c" stroke-width="1.3"/>
<line x1="415.4" x2="415.4" y1="304.5" y2="309.1" stroke="#1c1c1c" stroke-width="1.3"/>
<line x1="455.6" x2="455.6" y1="304.5" y2="309.1" stroke="#1c1c1c" stroke-width="1.3"/>
<line x1="495.8" x2="495.8" y1="304.5" y2="309.1" stroke="#1c1c1c" stroke-width="1.3"/>
<line x1="535.9" x2="535.9" y1="304.5" y2="309.1" stroke="#1c1c1c" stroke-width="1.3"/>
<line x1="576.0" x2="576.0" y1="304.5" y2="309.1" stroke="#1c1c1c" stroke-width="1.3"/>
<line x1="616.2" x2="616.2" y1="304.5" y2="309.1" stroke="#1c1c1c" stroke-width="1.3"/>
<line x1="656.4" x2="656.4" y1="304.5" y2="309.1" stroke="#1c1c1c" stroke-width="1.3"/>
<line x1="374.7" x2="404.1" y1="21.8" y2="21.8" stroke="#000" stroke-width="4.0" stroke-linecap="round"/>
<line x1="374.7" x2="404.1" y1="43.6" y2="43.6" stroke="#f01010" stroke-width="4.0" stroke-linecap="round"/>
<text transform="translate(411.54 28.64) scale(0.9398 1)" font-size="16.20" fill="#000" stroke="#000" stroke-width="0.15" xml:space="preserve"><tspan font-weight="bold" font-style="normal">ACFL550</tspan></text>
<text transform="translate(411.55 48.54) scale(0.9152 1)" font-size="16.48" fill="#000" stroke="#000" stroke-width="0.15" xml:space="preserve"><tspan font-weight="bold" font-style="normal">AC550</tspan></text>
<text transform="translate(512.73 30.90) scale(0.9803 1)" font-size="19.72" fill="#000" stroke="#000" stroke-width="0.15" xml:space="preserve"><tspan font-weight="bold" font-style="normal">O </tspan><tspan font-weight="bold" font-style="italic">1s</tspan></text>
<text transform="translate(626.14 24.29) scale(0.9640 1)" font-size="17.20" fill="#000" stroke="#000" stroke-width="0.15" xml:space="preserve"><tspan font-weight="bold" font-style="normal">b)</tspan></text>
<text transform="translate(350.92 174.51) rotate(-90) scale(0.8623 1)" font-size="17.75" fill="#000"><tspan font-weight="bold">CPS</tspan></text>
<text transform="translate(362.29 329.94) scale(0.9544 1)" font-size="15.92" fill="#000" stroke="#000" stroke-width="0.45" xml:space="preserve"><tspan font-weight="normal" font-style="normal">539</tspan></text>
<text transform="translate(402.44 329.94) scale(0.9544 1)" font-size="15.92" fill="#000" stroke="#000" stroke-width="0.45" xml:space="preserve"><tspan font-weight="normal" font-style="normal">537</tspan></text>
<text transform="translate(442.60 329.94) scale(0.9484 1)" font-size="15.92" fill="#000" stroke="#000" stroke-width="0.45" xml:space="preserve"><tspan font-weight="normal" font-style="normal">535</tspan></text>
<text transform="translate(482.74 329.94) scale(0.9544 1)" font-size="15.92" fill="#000" stroke="#000" stroke-width="0.45" xml:space="preserve"><tspan font-weight="normal" font-style="normal">533</tspan></text>
<text transform="translate(522.89 329.94) scale(0.9544 1)" font-size="15.92" fill="#000" stroke="#000" stroke-width="0.45" xml:space="preserve"><tspan font-weight="normal" font-style="normal">531</tspan></text>
<text transform="translate(563.04 329.94) scale(0.9544 1)" font-size="15.92" fill="#000" stroke="#000" stroke-width="0.45" xml:space="preserve"><tspan font-weight="normal" font-style="normal">529</tspan></text>
<text transform="translate(603.19 329.94) scale(0.9544 1)" font-size="15.92" fill="#000" stroke="#000" stroke-width="0.45" xml:space="preserve"><tspan font-weight="normal" font-style="normal">527</tspan></text>
<text transform="translate(643.35 329.94) scale(0.9484 1)" font-size="15.92" fill="#000" stroke="#000" stroke-width="0.45" xml:space="preserve"><tspan font-weight="normal" font-style="normal">525</tspan></text>
<text transform="translate(431.61 349.23) scale(0.9998 1)" font-size="15.59" fill="#000" stroke="#000" stroke-width="0.15" xml:space="preserve"><tspan font-weight="bold" font-style="normal">Binding Energy (eV)</tspan></text>
<clipPath id="cc"><rect x="28.3" y="361.0" width="631.1" height="469.7"/></clipPath>
<g clip-path="url(#cc)">
<polyline points="188.3,584.6 188.8,585.5 189.3,586.6 189.8,587.7 190.3,588.4 190.8,588.3 191.3,587.4 191.8,586.2 192.3,585.4 192.8,585.9 193.3,587.3 193.8,589.1 194.3,590.3 194.8,590.5 195.3,589.7 195.8,588.2 196.3,586.8 196.8,585.5 197.3,584.5 197.8,583.7 198.3,583.3 198.8,582.9 199.3,582.9 199.8,582.6 200.3,582.5 200.8,582.1 201.3,581.8 201.8,581.6 202.3,581.6 202.8,581.2 203.3,580.7 203.8,579.9 204.3,579.2 204.8,578.9 205.3,579.2 205.8,579.7 206.3,580.0 206.8,580.0 207.3,580.3 207.8,580.5 208.3,581.4 208.8,582.7 209.3,583.5 209.8,583.6 210.3,583.3 210.8,582.3 211.3,581.6 211.8,581.6 212.3,582.7 212.8,584.1 213.3,584.7 213.8,584.5 214.3,583.3 214.8,581.9 215.3,581.3 215.8,581.6 216.3,582.8 216.8,584.5 217.3,586.0 217.8,587.4 218.3,588.1 218.8,588.1 219.3,587.1 219.8,585.5 220.3,584.1 220.8,583.1 221.3,583.1 221.8,583.4 222.3,584.4 222.8,585.1 223.3,585.2 223.8,584.7 224.3,583.6 224.8,582.2 225.3,581.0 225.8,580.8 226.3,581.4 226.8,582.0 227.3,582.3 227.8,582.2 228.3,581.8 228.8,581.5 229.3,581.0 229.8,580.7 230.3,580.6 230.8,580.4 231.3,580.4 231.8,580.8 232.3,581.6 232.8,583.1 233.3,584.5 233.8,585.7 234.3,586.0 234.8,585.6 235.3,584.9 235.8,584.6 236.3,584.8 236.8,585.0 237.3,585.2 237.8,584.8 238.3,583.7 238.8,582.9 239.3,582.5 239.8,582.6 240.3,582.5 240.8,582.3 241.3,581.8 241.8,580.9 242.3,580.5 242.8,580.5 243.3,581.0 243.8,581.4 244.3,581.5 244.8,581.3 245.3,580.3 245.8,579.6 246.3,579.2 246.8,578.9 247.3,578.5 247.8,578.2 248.3,578.6 248.8,579.4 249.3,580.9 249.8,582.3 250.3,582.9 250.8,582.9 251.3,582.8 251.8,582.7 252.3,583.0 252.8,583.5 253.3,583.9 253.8,583.2 254.3,581.8 254.8,580.3 255.3,579.2 255.8,579.1 256.3,580.4 256.8,581.9 257.3,583.0 257.8,582.7 258.3,581.5 258.8,579.7 259.3,578.3 259.8,577.5 260.3,577.1 260.8,576.5 261.3,575.3 261.8,573.8 262.3,572.6 262.8,572.0 263.3,572.7 263.8,574.2 264.3,576.4 264.8,578.3 265.3,579.6 265.8,580.2 266.3,580.2 266.8,579.6 267.3,578.6 267.8,577.2 268.3,575.5 268.8,574.0 269.3,573.1 269.8,572.6 270.3,573.2 270.8,574.4 271.3,575.8 271.8,577.5 272.3,579.1 272.8,580.0 273.3,580.2 273.8,579.8 274.3,578.7 274.8,578.0 275.3,577.6 275.8,577.5 276.3,577.6 276.8,578.0 277.3,578.2 277.8,578.5 278.3,579.0 278.8,579.4 279.3,578.9 279.8,578.0 280.3,576.9 280.8,575.8 281.3,575.8 281.8,576.3 282.3,576.9 282.8,577.2 283.3,577.2 283.8,577.3 284.3,577.1 284.8,577.0 285.3,576.6 285.8,576.0 286.3,575.6 286.8,575.7 287.3,576.2 287.8,576.4 288.3,575.7 288.8,574.6 289.3,573.0 289.8,572.5 290.3,572.4 290.8,573.1 291.3,573.7 291.8,573.9 292.3,573.5 292.8,573.1 293.3,572.3 293.8,571.4 294.3,570.9 294.8,571.0 295.3,571.7 295.8,572.5 296.3,573.6 296.8,574.8 297.3,575.6 297.8,576.6 298.3,577.0 298.8,576.6 299.3,575.9 299.8,574.9 300.3,574.6 300.8,574.3 301.3,574.1 301.8,573.5 302.3,572.8 302.8,572.3 303.3,572.5 303.8,573.3 304.3,574.9 304.8,575.5 305.3,575.6 305.8,575.4 306.3,575.2 306.8,575.3 307.3,576.1 307.8,576.8 308.3,577.1 308.8,576.7 309.3,576.4 309.8,576.0 310.3,575.8 310.8,575.9 311.3,575.7 311.8,575.5 312.3,575.4 312.8,575.4 313.3,575.2 313.8,574.7 314.3,573.7 314.8,572.4 315.3,571.0 315.8,570.2 316.3,569.7 316.8,569.0 317.3,568.6 317.8,569.0 318.3,569.8 318.8,571.0 319.3,572.4 319.8,573.4 320.3,574.3 320.8,574.6 321.3,575.1 321.8,575.2 322.3,575.2 322.8,574.5 323.3,573.2 323.8,572.1 324.3,571.7 324.8,572.1 325.3,573.2 325.8,574.3 326.3,575.2 326.8,575.4 327.3,575.4 327.8,575.2 328.3,575.0 328.8,575.1 329.3,575.3 329.8,575.4 330.3,575.1 330.8,574.7 331.3,574.4 331.8,574.4 332.3,575.3 332.8,576.8 333.3,578.1 333.8,578.9 334.3,578.6 334.8,577.7 335.3,576.6 335.8,576.1 336.3,576.2 336.8,577.0 337.3,577.5 337.8,577.6 338.3,577.1 338.8,575.9 339.3,574.6 339.8,573.5 340.3,572.8 340.8,573.1 341.3,573.5 341.8,574.3 342.3,574.6 342.8,574.4 343.3,573.8 343.8,572.8 344.3,572.0 344.8,571.8 345.3,571.7 345.8,571.5 346.3,571.1 346.8,570.6 347.3,570.1 347.8,570.4 348.3,571.5 348.8,573.3 349.3,574.8 349.8,575.5 350.3,574.9 350.8,573.3 351.3,571.2 351.8,569.3 352.3,568.2 352.8,567.9 353.3,568.2 353.8,568.7 354.3,568.9 354.8,569.1 355.3,568.9 355.8,568.2 356.3,567.5 356.8,566.6 357.3,565.8 357.8,565.3 358.3,565.7 358.8,566.0 359.3,566.3 359.8,566.4 360.3,566.1 360.8,565.3 361.3,564.4 361.8,563.9 362.3,564.3 362.8,565.1 363.3,566.2 363.8,566.7 364.3,566.5 364.8,565.9 365.3,564.9 365.8,564.0 366.3,563.5 366.8,563.3 367.3,563.2 367.8,563.5 368.3,563.6 368.8,564.0 369.3,564.7 369.8,565.6 370.3,566.0 370.8,565.4 371.3,563.9 371.8,562.2 372.3,561.0 372.8,560.7 373.3,560.9 373.8,561.3 374.3,560.9 374.8,559.8 375.3,558.2 375.8,556.6 376.3,555.6 376.8,554.9 377.3,555.1 377.8,556.2 378.3,557.3 378.8,558.6 379.3,559.9 379.8,560.2 380.3,559.7 380.8,558.3 381.3,557.0 381.8,556.5 382.3,557.0 382.8,558.4 383.3,559.9 383.8,560.6 384.3,560.1 384.8,558.4 385.3,556.0 385.8,553.7 386.3,552.0 386.8,551.8 387.3,552.7 387.8,554.3 388.3,555.8 388.8,556.9 389.3,557.0 389.8,556.2 390.3,554.8 390.8,553.5 391.3,552.4 391.8,552.0 392.3,552.2 392.8,552.8 393.3,553.2 393.8,552.9 394.3,552.0 394.8,550.4 395.3,549.1 395.8,548.4 396.3,548.3 396.8,548.7 397.3,549.1 397.8,549.3 398.3,548.9 398.8,548.3 399.3,548.2 399.8,548.4 400.3,549.0 400.8,549.5 401.3,549.9 401.8,549.7 402.3,548.9 402.8,547.6 403.3,545.9 403.8,544.1 404.3,542.7 404.8,542.0 405.3,541.5 405.8,541.2 406.3,540.7 406.8,539.6 407.3,538.4 407.8,537.4 408.3,536.9 408.8,536.7 409.3,536.4 409.8,536.1 410.3,535.6 410.8,534.8 411.3,533.5 411.8,532.0 412.3,530.2 412.8,529.2 413.3,528.3 413.8,527.3 414.3,525.7 414.8,523.3 415.3,520.9 415.8,519.0 416.3,518.3 416.8,518.8 417.3,519.4 417.8,519.9 418.3,519.4 418.8,518.3 419.3,516.7 419.8,515.2 420.3,514.3 420.8,513.7 421.3,513.3 421.8,513.1 422.3,512.9 422.8,512.3 423.3,511.3 423.8,510.8 424.3,510.0 424.8,509.1 425.3,508.3 425.8,507.7 426.3,506.7 426.8,505.4 427.3,503.7 427.8,501.9 428.3,500.4 428.8,500.1 429.3,499.8 429.8,499.4 430.3,498.2 430.8,496.4 431.3,494.0 431.8,491.7 432.3,489.8 432.8,488.4 433.3,486.9 433.8,485.4 434.3,483.2 434.8,481.4 435.3,480.0 435.8,479.1 436.3,478.6 436.8,478.0 437.3,477.6 437.8,477.4 438.3,476.8 438.8,476.0 439.3,474.6 439.8,472.9 440.3,471.2 440.8,469.4 441.3,467.8 441.8,465.6 442.3,462.6 442.8,459.6 443.3,457.3 443.8,456.4 444.3,457.1 444.8,458.1 445.3,458.9 445.8,458.9 446.3,458.2 446.8,456.9 447.3,455.4 447.8,453.7 448.3,452.1 448.8,451.1 449.3,450.7 449.8,450.5 450.3,450.1 450.8,449.6 451.3,449.1 451.8,447.9 452.3,446.5 452.8,444.3 453.3,441.8 453.8,439.8 454.3,439.1 454.8,439.3 455.3,440.8 455.8,442.5 456.3,444.0 456.8,444.8 457.3,445.4 457.8,445.4 458.3,444.5 458.8,443.4 459.3,442.5 459.8,441.7 460.3,441.8 460.8,442.6 461.3,443.4 461.8,444.1 462.3,445.0 462.8,446.1 463.3,447.3 463.8,448.1 464.3,448.7 464.8,448.7 465.3,448.8 465.8,449.6 466.3,450.9 466.8,452.6 467.3,454.7 467.8,456.4 468.3,457.2 468.8,457.5 469.3,457.6 469.8,457.5 470.3,457.6 470.8,458.8 471.3,460.4 471.8,462.4 472.3,464.3 472.8,465.8 473.3,466.9 473.8,467.5 474.3,468.0 474.8,468.9 475.3,469.9 475.8,470.6 476.3,471.3 476.8,471.6 477.3,472.2 477.8,473.2 478.3,474.8 478.8,476.6 479.3,478.2 479.8,479.3 480.3,480.4 480.8,481.9 481.3,483.5 481.8,485.5 482.3,486.9 482.8,487.9 483.3,488.4 483.8,489.1 484.3,490.1 484.8,491.9 485.3,494.4 485.8,496.9 486.3,499.3 486.8,501.7 487.3,503.7 487.8,505.5 488.3,506.9 488.8,508.2 489.3,509.4 489.8,510.6 490.3,512.3 490.8,514.3 491.3,516.3 491.8,517.8 492.3,518.7 492.8,519.3 493.3,519.9 493.8,521.2 494.3,522.9 494.8,524.6 495.3,526.1 495.8,527.4 496.3,528.8 496.8,530.7 497.3,532.7 497.8,534.6 498.3,535.8 498.8,536.1 499.3,536.0 499.8,535.9 500.3,536.3 500.8,537.1 501.3,537.8 501.8,539.0 502.3,540.6 502.8,542.1 503.3,543.6 503.8,544.1 504.3,543.9 504.8,543.3 505.3,543.4 505.8,544.6 506.3,546.8 506.8,549.3 507.3,551.3 507.8,552.3 508.3,552.7 508.8,552.9 509.3,553.4 509.8,555.0 510.3,557.6 510.8,560.3 511.3,563.0 511.8,564.9 512.3,566.0 512.8,566.1 513.3,566.0 513.8,566.4 514.3,567.2 514.8,568.5 515.3,569.9 515.8,571.0 516.3,571.5 516.8,571.2 517.3,570.5 517.8,569.9 518.3,569.3 518.8,569.4 519.3,570.0 519.8,570.7 520.3,571.4 520.8,571.4 521.3,571.0 521.8,569.8 522.3,568.8 522.8,568.0 523.3,567.8 523.8,568.9 524.3,570.8 524.8,573.4 525.3,576.2 525.8,578.3 526.3,579.7 526.8,580.1 527.3,579.8 527.8,579.3 528.3,579.1 528.8,579.4 529.3,580.3 529.8,581.6 530.3,582.5 530.8,582.6 531.3,582.2 531.8,581.2 532.3,579.9 532.8,579.3 533.3,579.5 533.8,580.3 534.3,581.3 534.8,582.0 535.3,582.0 535.8,581.4 536.3,580.7 536.8,580.3 537.3,580.1 537.8,580.0 538.3,579.7 538.8,579.6 539.3,579.9 539.8,580.7 540.3,581.1 540.8,581.0 541.3,580.9 541.8,580.6 542.3,580.6 542.8,581.1 543.3,581.4 543.8,581.2 544.3,580.7 544.8,580.2 545.3,579.7 545.8,579.8 546.3,580.1 546.8,580.9 547.3,582.0 547.8,583.7 548.3,585.7 548.8,587.2 549.3,587.8 549.8,587.4 550.3,586.7 550.8,586.5 551.3,586.9 551.8,587.8 552.3,588.7 552.8,589.5 553.3,590.1 553.8,589.8 554.3,589.4 554.8,589.4 555.3,589.6 555.8,590.1 556.3,590.4 556.8,590.3 557.3,590.0 557.8,589.7 558.3,590.3 558.8,591.3 559.3,592.6 559.8,593.6 560.3,593.7 560.8,593.6 561.3,593.0 561.8,592.6 562.3,592.1 562.8,591.5 563.3,590.1 563.8,588.6 564.3,587.1 564.8,586.0 565.3,585.5 565.8,585.5 566.3,585.5 566.8,585.3 567.3,585.4 567.8,586.2 568.3,587.6 568.8,589.4 569.3,590.8 569.8,590.7 570.3,589.8 570.8,588.4 571.3,587.5 571.8,587.3 572.3,587.7 572.8,587.8 573.3,587.7 573.8,586.9 574.3,586.0 574.8,585.0 575.3,584.3 575.8,583.9 576.3,583.9 576.8,584.5 577.3,585.6 577.8,586.6 578.3,587.5 578.8,587.4 579.3,586.9 579.8,585.9 580.3,584.6 580.8,583.4 581.3,582.6 581.8,582.4 582.3,583.0 582.8,583.8 583.3,585.1 583.8,586.0 584.3,586.8 584.8,587.9 585.3,589.4 585.8,591.0 586.3,591.5 586.8,590.9 587.3,589.7 587.8,588.3 588.3,587.5 588.8,587.7 589.3,587.5 589.8,587.0 590.3,586.3 590.8,586.1 591.3,586.5 591.8,588.1 592.3,589.9 592.8,590.9 593.3,590.3 593.8,588.9 594.3,586.6 594.8,585.2 595.3,585.2 595.8,586.6 596.3,588.2 596.8,589.5 597.3,589.4 597.8,588.7 598.3,587.4 598.8,586.7 599.3,586.2 599.8,585.9 600.3,586.1 600.8,586.9 601.3,587.6 601.8,588.2 602.3,589.0 602.8,589.7 603.3,590.0 603.8,589.8 604.3,588.8 604.8,586.9 605.3,584.9 605.8,583.3 606.3,582.7 606.8,583.4 607.3,584.2 607.8,584.5 608.3,584.1 608.8,583.8 609.3,583.6 609.8,584.1 610.3,585.4 610.8,586.7 611.3,587.8 611.8,588.4 612.3,588.2 612.8,587.2 613.3,585.7 613.8,584.7 614.3,584.5 614.8,585.2 615.3,586.4 615.8,587.5 616.3,588.7 616.8,589.5 617.3,590.1 617.8,590.2 618.3,589.9 618.8,589.7 619.3,590.1 619.8,590.6 620.3,591.2 620.8,591.1 621.3,590.1 621.8,588.1 622.3,585.7 622.8,583.6 623.3,582.5 623.8,582.6 624.3,583.4 624.8,584.1 625.3,584.8 625.8,584.6 626.3,584.3 626.8,584.0 627.3,584.0 627.8,585.0 628.3,586.1 628.8,587.6 629.3,588.4 629.8,588.5 630.3,587.6 630.8,586.0 631.3,584.3 631.8,583.4 632.3,583.2 632.8,583.5 633.3,583.6 633.8,583.4 634.3,582.9 634.8,582.9 635.3,583.5 635.8,584.5 636.3,585.2 636.8,586.0 637.3,586.2 637.8,586.6 638.3,586.5 638.8,586.8 639.3,587.5 639.8,588.5 640.3,589.3 640.8,590.1 641.3,590.3 641.8,590.2 642.3,589.7 642.8,589.3 643.3,589.0 643.8,588.7 644.3,588.9 644.8,589.6 645.3,590.1 645.8,590.5" fill="none" stroke="#000" stroke-width="5.00" stroke-linejoin="round" stroke-linecap="round" />
<polyline points="347.3,582.9 347.8,582.9 348.3,582.9 348.8,582.9 349.3,582.9 349.8,582.9 350.3,582.9 350.8,582.9 351.3,582.8 351.8,582.8 352.3,582.8 352.8,582.8 353.3,582.8 353.8,582.8 354.3,582.8 354.8,582.8 355.3,582.8 355.8,582.7 356.3,582.7 356.8,582.7 357.3,582.7 357.8,582.7 358.3,582.7 358.8,582.6 359.3,582.6 359.8,582.6 360.3,582.6 360.8,582.6 361.3,582.6 361.8,582.5 362.3,582.5 362.8,582.5 363.3,582.5 363.8,582.4 364.3,582.4 364.8,582.4 365.3,582.4 365.8,582.3 366.3,582.3 366.8,582.3 367.3,582.3 367.8,582.2 368.3,582.2 368.8,582.1 369.3,582.1 369.8,582.1 370.3,582.0 370.8,582.0 371.3,581.9 371.8,581.9 372.3,581.9 372.8,581.8 373.3,581.7 373.8,581.7 374.3,581.6 374.8,581.6 375.3,581.5 375.8,581.4 376.3,581.4 376.8,581.3 377.3,581.2 377.8,581.2 378.3,581.1 378.8,581.0 379.3,580.9 379.8,580.8 380.3,580.7 380.8,580.6 381.3,580.5 381.8,580.4 382.3,580.3 382.8,580.1 383.3,580.0 383.8,579.9 384.3,579.8 384.8,579.6 385.3,579.5 385.8,579.3 386.3,579.1 386.8,579.0 387.3,578.8 387.8,578.6 388.3,578.4 388.8,578.2 389.3,578.0 389.8,577.8 390.3,577.6 390.8,577.3 391.3,577.1 391.8,576.8 392.3,576.6 392.8,576.3 393.3,576.0 393.8,575.7 394.3,575.4 394.8,575.1 395.3,574.8 395.8,574.4 396.3,574.1 396.8,573.7 397.3,573.3 397.8,572.9 398.3,572.5 398.8,572.1 399.3,571.7 399.8,571.2 400.3,570.8 400.8,570.3 401.3,569.8 401.8,569.3 402.3,568.8 402.8,568.2 403.3,567.7 403.8,567.1 404.3,566.5 404.8,565.9 405.3,565.3 405.8,564.6 406.3,563.9 406.8,563.3 407.3,562.6 407.8,561.8 408.3,561.1 408.8,560.3 409.3,559.5 409.8,558.7 410.3,557.9 410.8,557.1 411.3,556.2 411.8,555.3 412.3,554.4 412.8,553.5 413.3,552.6 413.8,551.6 414.3,550.6 414.8,549.6 415.3,548.6 415.8,547.5 416.3,546.5 416.8,545.4 417.3,544.3 417.8,543.1 418.3,542.0 418.8,540.8 419.3,539.6 419.8,538.4 420.3,537.2 420.8,536.0 421.3,534.7 421.8,533.4 422.3,532.1 422.8,530.8 423.3,529.5 423.8,528.1 424.3,526.8 424.8,525.4 425.3,524.0 425.8,522.6 426.3,521.1 426.8,519.7 427.3,518.3 427.8,516.8 428.3,515.3 428.8,513.9 429.3,512.4 429.8,510.9 430.3,509.4 430.8,507.9 431.3,506.3 431.8,504.8 432.3,503.3 432.8,501.8 433.3,500.2 433.8,498.7 434.3,497.2 434.8,495.7 435.3,494.2 435.8,492.6 436.3,491.1 436.8,489.6 437.3,488.1 437.8,486.6 438.3,485.2 438.8,483.7 439.3,482.2 439.8,480.8 440.3,479.4 440.8,478.0 441.3,476.6 441.8,475.2 442.3,473.9 442.8,472.5 443.3,471.2 443.8,470.0 444.3,468.7 444.8,467.5 445.3,466.3 445.8,465.1 446.3,464.0 446.8,462.9 447.3,461.8 447.8,460.8 448.3,459.8 448.8,458.8 449.3,457.9 449.8,457.0 450.3,456.2 450.8,455.4 451.3,454.6 451.8,453.9 452.3,453.2 452.8,452.6 453.3,452.0 453.8,451.5 454.3,451.0 454.8,450.6 455.3,450.2 455.8,449.9 456.3,449.6 456.8,449.4 457.3,449.2 457.8,449.1 458.3,449.0 458.8,448.9 459.3,449.0 459.8,449.0 460.3,449.2 460.8,449.3 461.3,449.5 461.8,449.8 462.3,450.1 462.8,450.4 463.3,450.8 463.8,451.2 464.3,451.7 464.8,452.2 465.3,452.7 465.8,453.3 466.3,453.9 466.8,454.6 467.3,455.3 467.8,456.0 468.3,456.8 468.8,457.6 469.3,458.4 469.8,459.3 470.3,460.2 470.8,461.2 471.3,462.1 471.8,463.1 472.3,464.2 472.8,465.2 473.3,466.3 473.8,467.4 474.3,468.6 474.8,469.7 475.3,470.9 475.8,472.1 476.3,473.4 476.8,474.6 477.3,475.9 477.8,477.2 478.3,478.5 478.8,479.8 479.3,481.2 479.8,482.5 480.3,483.9 480.8,485.3 481.3,486.6 481.8,488.0 482.3,489.4 482.8,490.9 483.3,492.3 483.8,493.7 484.3,495.1 484.8,496.6 485.3,498.0 485.8,499.4 486.3,500.9 486.8,502.3 487.3,503.8 487.8,505.2 488.3,506.6 488.8,508.1 489.3,509.5 489.8,510.9 490.3,512.3 490.8,513.8 491.3,515.2 491.8,516.6 492.3,518.0 492.8,519.3 493.3,520.7 493.8,522.1 494.3,523.4 494.8,524.8 495.3,526.1 495.8,527.4 496.3,528.7 496.8,530.0 497.3,531.3 497.8,532.6 498.3,533.8 498.8,535.0 499.3,536.3 499.8,537.5 500.3,538.7 500.8,539.8 501.3,541.0 501.8,542.1 502.3,543.3 502.8,544.4 503.3,545.5 503.8,546.5 504.3,547.6 504.8,548.6 505.3,549.7 505.8,550.7 506.3,551.6 506.8,552.6 507.3,553.6 507.8,554.5 508.3,555.4 508.8,556.3 509.3,557.2 509.8,558.0 510.3,558.9 510.8,559.7 511.3,560.5 511.8,561.3 512.3,562.1 512.8,562.8 513.3,563.6 513.8,564.3 514.3,565.0 514.8,565.7 515.3,566.3 515.8,567.0 516.3,567.6 516.8,568.3 517.3,568.9 517.8,569.4 518.3,570.0 518.8,570.6 519.3,571.1 519.8,571.7 520.3,572.2 520.8,572.7 521.3,573.2 521.8,573.6 522.3,574.1 522.8,574.5 523.3,575.0 523.8,575.4 524.3,575.8 524.8,576.2 525.3,576.6 525.8,576.9 526.3,577.3 526.8,577.6 527.3,578.0 527.8,578.3 528.3,578.6 528.8,578.9 529.3,579.2 529.8,579.5 530.3,579.8 530.8,580.1 531.3,580.3 531.8,580.6 532.3,580.8 532.8,581.0 533.3,581.3 533.8,581.5 534.3,581.7 534.8,581.9 535.3,582.1 535.8,582.3 536.3,582.5 536.8,582.6 537.3,582.8 537.8,583.0 538.3,583.1 538.8,583.3 539.3,583.4 539.8,583.6 540.3,583.7 540.8,583.8 541.3,584.0 541.8,584.1 542.3,584.2 542.8,584.3 543.3,584.4 543.8,584.5 544.3,584.6 544.8,584.7 545.3,584.8 545.8,584.9 546.3,585.0 546.8,585.1 547.3,585.1 547.8,585.2 548.3,585.3 548.8,585.3 549.3,585.4 549.8,585.5 550.3,585.5 550.8,585.6 551.3,585.7 551.8,585.7 552.3,585.8 552.8,585.8 553.3,585.9 553.8,585.9 554.3,586.0 554.8,586.0 555.3,586.0 555.8,586.1 556.3,586.1 556.8,586.2 557.3,586.2 557.8,586.2 558.3,586.3 558.8,586.3 559.3,586.3 559.8,586.4 560.3,586.4 560.8,586.4 561.3,586.5 561.8,586.5 562.3,586.5 562.8,586.5 563.3,586.6 563.8,586.6 564.3,586.6 564.8,586.6 565.3,586.6 565.8,586.7 566.3,586.7 566.8,586.7 567.3,586.7 567.8,586.7 568.3,586.8 568.8,586.8 569.3,586.8 569.8,586.8 570.3,586.8 570.8,586.8 571.3,586.9 571.8,586.9 572.3,586.9 572.8,586.9 573.3,586.9 573.8,586.9 574.3,586.9 574.8,587.0 575.3,587.0 575.8,587.0 576.3,587.0 576.8,587.0 577.3,587.0 577.8,587.0 578.3,587.0 578.8,587.1 579.3,587.1 579.8,587.1" fill="none" stroke="#ff1010" stroke-width="3.30" stroke-linejoin="round" stroke-linecap="round" />
<polyline points="315.8,582.8 316.3,582.7 316.8,582.7 317.3,582.7 317.8,582.6 318.3,582.5 318.8,582.5 319.3,582.4 319.8,582.4 320.3,582.3 320.8,582.3 321.3,582.2 321.8,582.1 322.3,582.1 322.8,582.0 323.3,581.9 323.8,581.8 324.3,581.8 324.8,581.7 325.3,581.6 325.8,581.5 326.3,581.4 326.8,581.4 327.3,581.3 327.8,581.2 328.3,581.1 328.8,581.0 329.3,580.9 329.8,580.8 330.3,580.7 330.8,580.6 331.3,580.5 331.8,580.4 332.3,580.2 332.8,580.1 333.3,580.0 333.8,579.9 334.3,579.8 334.8,579.6 335.3,579.5 335.8,579.4 336.3,579.2 336.8,579.1 337.3,579.0 337.8,578.8 338.3,578.7 338.8,578.5 339.3,578.4 339.8,578.2 340.3,578.1 340.8,577.9 341.3,577.7 341.8,577.6 342.3,577.4 342.8,577.2 343.3,577.0 343.8,576.9 344.3,576.7 344.8,576.5 345.3,576.3 345.8,576.1 346.3,575.9 346.8,575.7 347.3,575.5 347.8,575.4 348.3,575.1 348.8,574.9 349.3,574.7 349.8,574.5 350.3,574.3 350.8,574.1 351.3,573.9 351.8,573.7 352.3,573.5 352.8,573.2 353.3,573.0 353.8,572.8 354.3,572.6 354.8,572.3 355.3,572.1 355.8,571.9 356.3,571.6 356.8,571.4 357.3,571.2 357.8,570.9 358.3,570.7 358.8,570.5 359.3,570.2 359.8,570.0 360.3,569.7 360.8,569.5 361.3,569.2 361.8,569.0 362.3,568.8 362.8,568.5 363.3,568.3 363.8,568.0 364.3,567.8 364.8,567.5 365.3,567.3 365.8,567.1 366.3,566.8 366.8,566.6 367.3,566.3 367.8,566.1 368.3,565.9 368.8,565.6 369.3,565.4 369.8,565.2 370.3,564.9 370.8,564.7 371.3,564.5 371.8,564.3 372.3,564.0 372.8,563.8 373.3,563.6 373.8,563.4 374.3,563.2 374.8,563.0 375.3,562.8 375.8,562.6 376.3,562.4 376.8,562.2 377.3,562.0 377.8,561.8 378.3,561.6 378.8,561.4 379.3,561.3 379.8,561.1 380.3,560.9 380.8,560.8 381.3,560.6 381.8,560.5 382.3,560.3 382.8,560.2 383.3,560.0 383.8,559.9 384.3,559.8 384.8,559.7 385.3,559.6 385.8,559.4 386.3,559.3 386.8,559.2 387.3,559.2 387.8,559.1 388.3,559.0 388.8,558.9 389.3,558.8 389.8,558.8 390.3,558.7 390.8,558.7 391.3,558.6 391.8,558.6 392.3,558.6 392.8,558.5 393.3,558.5 393.8,558.5 394.3,558.5 394.8,558.5 395.3,558.5 395.8,558.5 396.3,558.6 396.8,558.6 397.3,558.6 397.8,558.6 398.3,558.7 398.8,558.7 399.3,558.8 399.8,558.9 400.3,558.9 400.8,559.0 401.3,559.1 401.8,559.2 402.3,559.3 402.8,559.4 403.3,559.5 403.8,559.6 404.3,559.7 404.8,559.8 405.3,560.0 405.8,560.1 406.3,560.3 406.8,560.4 407.3,560.6 407.8,560.7 408.3,560.9 408.8,561.0 409.3,561.2 409.8,561.4 410.3,561.6 410.8,561.7 411.3,561.9 411.8,562.1 412.3,562.3 412.8,562.5 413.3,562.7 413.8,562.9 414.3,563.2 414.8,563.4 415.3,563.6 415.8,563.8 416.3,564.0 416.8,564.3 417.3,564.5 417.8,564.7 418.3,565.0 418.8,565.2 419.3,565.5 419.8,565.7 420.3,565.9 420.8,566.2 421.3,566.4 421.8,566.7 422.3,566.9 422.8,567.2 423.3,567.5 423.8,567.7 424.3,568.0 424.8,568.2 425.3,568.5 425.8,568.7 426.3,569.0 426.8,569.3 427.3,569.5 427.8,569.8 428.3,570.0 428.8,570.3 429.3,570.6 429.8,570.8 430.3,571.1 430.8,571.3 431.3,571.6 431.8,571.9 432.3,572.1 432.8,572.4 433.3,572.6 433.8,572.9 434.3,573.1 434.8,573.4 435.3,573.6 435.8,573.9 436.3,574.1 436.8,574.4 437.3,574.6 437.8,574.9 438.3,575.1 438.8,575.3 439.3,575.6 439.8,575.8 440.3,576.1 440.8,576.3 441.3,576.5 441.8,576.7 442.3,577.0 442.8,577.2 443.3,577.4 443.8,577.6 444.3,577.8 444.8,578.0 445.3,578.3 445.8,578.5 446.3,578.7 446.8,578.9 447.3,579.1 447.8,579.3 448.3,579.5 448.8,579.6 449.3,579.8 449.8,580.0 450.3,580.2 450.8,580.4 451.3,580.6 451.8,580.7 452.3,580.9 452.8,581.1 453.3,581.2 453.8,581.4 454.3,581.6 454.8,581.7 455.3,581.9 455.8,582.0 456.3,582.2 456.8,582.3 457.3,582.5 457.8,582.6 458.3,582.8 458.8,582.9 459.3,583.0 459.8,583.2 460.3,583.3 460.8,583.4 461.3,583.5 461.8,583.7 462.3,583.8 462.8,583.9 463.3,584.0 463.8,584.1 464.3,584.2 464.8,584.3 465.3,584.4 465.8,584.5 466.3,584.6 466.8,584.7 467.3,584.8 467.8,584.9 468.3,585.0 468.8,585.1 469.3,585.2 469.8,585.3 470.3,585.4 470.8,585.5 471.3,585.5 471.8,585.6 472.3,585.7 472.8,585.8 473.3,585.8 473.8,585.9 474.3,586.0" fill="none" stroke="#138a13" stroke-width="3.30" stroke-linejoin="round" stroke-linecap="round" />
<polyline points="236.3,582.6 236.8,582.6 237.3,582.5 237.8,582.5 238.3,582.4 238.8,582.4 239.3,582.3 239.8,582.3 240.3,582.2 240.8,582.2 241.3,582.1 241.8,582.1 242.3,582.0 242.8,582.0 243.3,581.9 243.8,581.9 244.3,581.8 244.8,581.8 245.3,581.7 245.8,581.6 246.3,581.6 246.8,581.5 247.3,581.4 247.8,581.4 248.3,581.3 248.8,581.2 249.3,581.2 249.8,581.1 250.3,581.0 250.8,581.0 251.3,580.9 251.8,580.8 252.3,580.7 252.8,580.6 253.3,580.6 253.8,580.5 254.3,580.4 254.8,580.3 255.3,580.2 255.8,580.2 256.3,580.1 256.8,580.0 257.3,579.9 257.8,579.8 258.3,579.7 258.8,579.6 259.3,579.6 259.8,579.5 260.3,579.4 260.8,579.3 261.3,579.2 261.8,579.1 262.3,579.0 262.8,578.9 263.3,578.8 263.8,578.7 264.3,578.6 264.8,578.5 265.3,578.4 265.8,578.4 266.3,578.3 266.8,578.2 267.3,578.1 267.8,578.0 268.3,577.9 268.8,577.8 269.3,577.7 269.8,577.6 270.3,577.5 270.8,577.4 271.3,577.3 271.8,577.2 272.3,577.1 272.8,577.0 273.3,576.9 273.8,576.9 274.3,576.8 274.8,576.7 275.3,576.6 275.8,576.5 276.3,576.4 276.8,576.3 277.3,576.3 277.8,576.2 278.3,576.1 278.8,576.0 279.3,575.9 279.8,575.9 280.3,575.8 280.8,575.7 281.3,575.6 281.8,575.6 282.3,575.5 282.8,575.4 283.3,575.4 283.8,575.3 284.3,575.2 284.8,575.2 285.3,575.1 285.8,575.1 286.3,575.0 286.8,575.0 287.3,574.9 287.8,574.9 288.3,574.8 288.8,574.8 289.3,574.7 289.8,574.7 290.3,574.7 290.8,574.6 291.3,574.6 291.8,574.6 292.3,574.6 292.8,574.5 293.3,574.5 293.8,574.5 294.3,574.5 294.8,574.5 295.3,574.5 295.8,574.5 296.3,574.4 296.8,574.4 297.3,574.4 297.8,574.5 298.3,574.5 298.8,574.5 299.3,574.5 299.8,574.5 300.3,574.5 300.8,574.5 301.3,574.6 301.8,574.6 302.3,574.6 302.8,574.6 303.3,574.7 303.8,574.7 304.3,574.7 304.8,574.8 305.3,574.8 305.8,574.9 306.3,574.9 306.8,575.0 307.3,575.0 307.8,575.1 308.3,575.1 308.8,575.2 309.3,575.2 309.8,575.3 310.3,575.4 310.8,575.4 311.3,575.5 311.8,575.6 312.3,575.6 312.8,575.7 313.3,575.8 313.8,575.9 314.3,575.9 314.8,576.0 315.3,576.1 315.8,576.2 316.3,576.3 316.8,576.4 317.3,576.4 317.8,576.5 318.3,576.6 318.8,576.7 319.3,576.8 319.8,576.9 320.3,577.0 320.8,577.1 321.3,577.2 321.8,577.3 322.3,577.3 322.8,577.4 323.3,577.5 323.8,577.6 324.3,577.7 324.8,577.8 325.3,577.9 325.8,578.0 326.3,578.1 326.8,578.2 327.3,578.3 327.8,578.4 328.3,578.5 328.8,578.6 329.3,578.7 329.8,578.8 330.3,578.9 330.8,579.0 331.3,579.1 331.8,579.2 332.3,579.3 332.8,579.4 333.3,579.5 333.8,579.6 334.3,579.7 334.8,579.8 335.3,579.8 335.8,579.9 336.3,580.0 336.8,580.1 337.3,580.2 337.8,580.3 338.3,580.4 338.8,580.5 339.3,580.6 339.8,580.6 340.3,580.7 340.8,580.8 341.3,580.9 341.8,581.0 342.3,581.0 342.8,581.1 343.3,581.2 343.8,581.3 344.3,581.3 344.8,581.4 345.3,581.5 345.8,581.6 346.3,581.6 346.8,581.7 347.3,581.8 347.8,581.8 348.3,581.9 348.8,582.0 349.3,582.0 349.8,582.1 350.3,582.2 350.8,582.2 351.3,582.3 351.8,582.3 352.3,582.4 352.8,582.5 353.3,582.5 353.8,582.6 354.3,582.6 354.8,582.7 355.3,582.7 355.8,582.8 356.3,582.8 356.8,582.9 357.3,582.9 357.8,582.9" fill="none" stroke="#2030c0" stroke-width="3.30" stroke-linejoin="round" stroke-linecap="round" />
<polyline points="190.3,582.8 190.8,582.8 191.3,582.8 191.8,582.8 192.3,582.8 192.8,582.8 193.3,582.8 193.8,582.8 194.3,582.8 194.8,582.8 195.3,582.8 195.8,582.8 196.3,582.8 196.8,582.8 197.3,582.8 197.8,582.8 198.3,582.8 198.8,582.8 199.3,582.8 199.8,582.8 200.3,582.8 200.8,582.8 201.3,582.8 201.8,582.8 202.3,582.8 202.8,582.8 203.3,582.8 203.8,582.8 204.3,582.8 204.8,582.8 205.3,582.8 205.8,582.8 206.3,582.8 206.8,582.8 207.3,582.8 207.8,582.8 208.3,582.8 208.8,582.8 209.3,582.8 209.8,582.8 210.3,582.8 210.8,582.8 211.3,582.8 211.8,582.8 212.3,582.8 212.8,582.8 213.3,582.8 213.8,582.8 214.3,582.8 214.8,582.8 215.3,582.8 215.8,582.8 216.3,582.8 216.8,582.8 217.3,582.8 217.8,582.8 218.3,582.8 218.8,582.8 219.3,582.8 219.8,582.8 220.3,582.8 220.8,582.8 221.3,582.8 221.8,582.8 222.3,582.8 222.8,582.8 223.3,582.8 223.8,582.8 224.3,582.8 224.8,582.8 225.3,582.8 225.8,582.8 226.3,582.8 226.8,582.8 227.3,582.8 227.8,582.8 228.3,582.8 228.8,582.8 229.3,582.8 229.8,582.8 230.3,582.8 230.8,582.8 231.3,582.8 231.8,582.8 232.3,582.8 232.8,582.8 233.3,582.8 233.8,582.8 234.3,582.8 234.8,582.8 235.3,582.8 235.8,582.8 236.3,582.8 236.8,582.8 237.3,582.8 237.8,582.8 238.3,582.8 238.8,582.8 239.3,582.8 239.8,582.8 240.3,582.8 240.8,582.8 241.3,582.8 241.8,582.8 242.3,582.8 242.8,582.8 243.3,582.8 243.8,582.8 244.3,582.8 244.8,582.8 245.3,582.8 245.8,582.8 246.3,582.8 246.8,582.8 247.3,582.8 247.8,582.8 248.3,582.8 248.8,582.8 249.3,582.8 249.8,582.8 250.3,582.8 250.8,582.8 251.3,582.8 251.8,582.8 252.3,582.8 252.8,582.8 253.3,582.8 253.8,582.8 254.3,582.8 254.8,582.8 255.3,582.8 255.8,582.8 256.3,582.8 256.8,582.8 257.3,582.8 257.8,582.8 258.3,582.8 258.8,582.8 259.3,582.8 259.8,582.8 260.3,582.8 260.8,582.8 261.3,582.8 261.8,582.8 262.3,582.8 262.8,582.8 263.3,582.8 263.8,582.8 264.3,582.8 264.8,582.9 265.3,582.9 265.8,582.9 266.3,582.9 266.8,582.9 267.3,582.9 267.8,582.9 268.3,582.9 268.8,582.9 269.3,582.9 269.8,582.9 270.3,582.9 270.8,582.9 271.3,582.9 271.8,582.9 272.3,582.9 272.8,582.9 273.3,582.9 273.8,582.9 274.3,582.9 274.8,582.9 275.3,582.9 275.8,582.9 276.3,582.9 276.8,582.9 277.3,582.9 277.8,582.9 278.3,582.9 278.8,582.9 279.3,582.9 279.8,582.9 280.3,582.9 280.8,582.9 281.3,582.9 281.8,582.9 282.3,582.9 282.8,582.9 283.3,582.9 283.8,582.9 284.3,582.9 284.8,582.9 285.3,582.9 285.8,582.9 286.3,582.9 286.8,582.9 287.3,582.9 287.8,582.9 288.3,582.9 288.8,582.9 289.3,582.9 289.8,582.9 290.3,582.9 290.8,582.9 291.3,582.9 291.8,582.9 292.3,582.9 292.8,582.9 293.3,582.9 293.8,582.9 294.3,582.9 294.8,582.9 295.3,582.9 295.8,582.9 296.3,582.9 296.8,582.9 297.3,582.9 297.8,583.0 298.3,583.0 298.8,583.0 299.3,583.0 299.8,583.0 300.3,583.0 300.8,583.0 301.3,583.0 301.8,583.0 302.3,583.0 302.8,583.0 303.3,583.0 303.8,583.0 304.3,583.0 304.8,583.0 305.3,583.0 305.8,583.0 306.3,583.0 306.8,583.0 307.3,583.0 307.8,583.0 308.3,583.0 308.8,583.0 309.3,583.0 309.8,583.0 310.3,583.0 310.8,583.0 311.3,583.0 311.8,583.0 312.3,583.0 312.8,583.0 313.3,583.0 313.8,583.0 314.3,583.0 314.8,583.0 315.3,583.0 315.8,583.0 316.3,583.0 316.8,583.0 317.3,583.0 317.8,583.0 318.3,583.0 318.8,583.0 319.3,583.0 319.8,583.0 320.3,583.0 320.8,583.0 321.3,583.0 321.8,583.0 322.3,583.0 322.8,583.0 323.3,583.0 323.8,583.0 324.3,583.0 324.8,583.0 325.3,583.0 325.8,583.0 326.3,583.1 326.8,583.1 327.3,583.1 327.8,583.1 328.3,583.1 328.8,583.1 329.3,583.1 329.8,583.1 330.3,583.1 330.8,583.1 331.3,583.1 331.8,583.1 332.3,583.1 332.8,583.1 333.3,583.1 333.8,583.1 334.3,583.1 334.8,583.1 335.3,583.1 335.8,583.1 336.3,583.1 336.8,583.1 337.3,583.1 337.8,583.1 338.3,583.1 338.8,583.1 339.3,583.1 339.8,583.1 340.3,583.1 340.8,583.1 341.3,583.1 341.8,583.1 342.3,583.1 342.8,583.1 343.3,583.1 343.8,583.1 344.3,583.1 344.8,583.1 345.3,583.1 345.8,583.1 346.3,583.1 346.8,583.1 347.3,583.1 347.8,583.1 348.3,583.1 348.8,583.1 349.3,583.1 349.8,583.1 350.3,583.1 350.8,583.1 351.3,583.1 351.8,583.1 352.3,583.1 352.8,583.2 353.3,583.2 353.8,583.2 354.3,583.2 354.8,583.2 355.3,583.2 355.8,583.2 356.3,583.2 356.8,583.2 357.3,583.2 357.8,583.2 358.3,583.2 358.8,583.2 359.3,583.2 359.8,583.2 360.3,583.2 360.8,583.2 361.3,583.2 361.8,583.2 362.3,583.2 362.8,583.2 363.3,583.2 363.8,583.2 364.3,583.2 364.8,583.2 365.3,583.2 365.8,583.2 366.3,583.2 366.8,583.2 367.3,583.2 367.8,583.2 368.3,583.2 368.8,583.3 369.3,583.3 369.8,583.3 370.3,583.3 370.8,583.3 371.3,583.3 371.8,583.3 372.3,583.3 372.8,583.3 373.3,583.3 373.8,583.3 374.3,583.3 374.8,583.3 375.3,583.3 375.8,583.3 376.3,583.3 376.8,583.3 377.3,583.3 377.8,583.3 378.3,583.3 378.8,583.3 379.3,583.3 379.8,583.3 380.3,583.3 380.8,583.4 381.3,583.4 381.8,583.4 382.3,583.4 382.8,583.4 383.3,583.4 383.8,583.4 384.3,583.4 384.8,583.4 385.3,583.4 385.8,583.4 386.3,583.4 386.8,583.4 387.3,583.4 387.8,583.4 388.3,583.4 388.8,583.4 389.3,583.4 389.8,583.4 390.3,583.5 390.8,583.5 391.3,583.5 391.8,583.5 392.3,583.5 392.8,583.5 393.3,583.5 393.8,583.5 394.3,583.5 394.8,583.5 395.3,583.5 395.8,583.5 396.3,583.5 396.8,583.5 397.3,583.5 397.8,583.5 398.3,583.6 398.8,583.6 399.3,583.6 399.8,583.6 400.3,583.6 400.8,583.6 401.3,583.6 401.8,583.6 402.3,583.6 402.8,583.6 403.3,583.6 403.8,583.6 404.3,583.6 404.8,583.6 405.3,583.7 405.8,583.7 406.3,583.7 406.8,583.7 407.3,583.7 407.8,583.7 408.3,583.7 408.8,583.7 409.3,583.7 409.8,583.7 410.3,583.7 410.8,583.7 411.3,583.8 411.8,583.8 412.3,583.8 412.8,583.8 413.3,583.8 413.8,583.8 414.3,583.8 414.8,583.8 415.3,583.8 415.8,583.8 416.3,583.9 416.8,583.9 417.3,583.9 417.8,583.9 418.3,583.9 418.8,583.9 419.3,583.9 419.8,583.9 420.3,583.9 420.8,584.0 421.3,584.0 421.8,584.0 422.3,584.0 422.8,584.0 423.3,584.0 423.8,584.0 424.3,584.0 424.8,584.1 425.3,584.1 425.8,584.1 426.3,584.1 426.8,584.1 427.3,584.1 427.8,584.1 428.3,584.2 428.8,584.2 429.3,584.2 429.8,584.2 430.3,584.2 430.8,584.2 431.3,584.2 431.8,584.3 432.3,584.3 432.8,584.3 433.3,584.3 433.8,584.3 434.3,584.3 434.8,584.4 435.3,584.4 435.8,584.4 436.3,584.4 436.8,584.4 437.3,584.5 437.8,584.5 438.3,584.5 438.8,584.5 439.3,584.5 439.8,584.6 440.3,584.6 440.8,584.6 441.3,584.6 441.8,584.6 442.3,584.7 442.8,584.7 443.3,584.7 443.8,584.7 444.3,584.7 444.8,584.8 445.3,584.8 445.8,584.8 446.3,584.8 446.8,584.9 447.3,584.9 447.8,584.9 448.3,584.9 448.8,585.0 449.3,585.0 449.8,585.0 450.3,585.0 450.8,585.0 451.3,585.1 451.8,585.1 452.3,585.1 452.8,585.1 453.3,585.2 453.8,585.2 454.3,585.2 454.8,585.2 455.3,585.3 455.8,585.3 456.3,585.3 456.8,585.3 457.3,585.4 457.8,585.4 458.3,585.4 458.8,585.4 459.3,585.5 459.8,585.5 460.3,585.5 460.8,585.5 461.3,585.6 461.8,585.6 462.3,585.6 462.8,585.6 463.3,585.7 463.8,585.7 464.3,585.7 464.8,585.7 465.3,585.8 465.8,585.8 466.3,585.8 466.8,585.8 467.3,585.9 467.8,585.9 468.3,585.9 468.8,585.9 469.3,586.0 469.8,586.0 470.3,586.0 470.8,586.0 471.3,586.0 471.8,586.1 472.3,586.1 472.8,586.1 473.3,586.1 473.8,586.2 474.3,586.2 474.8,586.2 475.3,586.2 475.8,586.2 476.3,586.3 476.8,586.3 477.3,586.3 477.8,586.3 478.3,586.3 478.8,586.4 479.3,586.4 479.8,586.4 480.3,586.4 480.8,586.4 481.3,586.5 481.8,586.5 482.3,586.5 482.8,586.5 483.3,586.5 483.8,586.5 484.3,586.6 484.8,586.6 485.3,586.6 485.8,586.6 486.3,586.6 486.8,586.6 487.3,586.7 487.8,586.7 488.3,586.7 488.8,586.7 489.3,586.7 489.8,586.7 490.3,586.7 490.8,586.8 491.3,586.8 491.8,586.8 492.3,586.8 492.8,586.8 493.3,586.8 493.8,586.8 494.3,586.8 494.8,586.9 495.3,586.9 495.8,586.9 496.3,586.9 496.8,586.9 497.3,586.9 497.8,586.9 498.3,586.9 498.8,586.9 499.3,586.9 499.8,587.0 500.3,587.0 500.8,587.0 501.3,587.0 501.8,587.0 502.3,587.0 502.8,587.0 503.3,587.0 503.8,587.0 504.3,587.0 504.8,587.0 505.3,587.0 505.8,587.0 506.3,587.1 506.8,587.1 507.3,587.1 507.8,587.1 508.3,587.1 508.8,587.1 509.3,587.1 509.8,587.1 510.3,587.1 510.8,587.1 511.3,587.1 511.8,587.1 512.3,587.1 512.8,587.1 513.3,587.1 513.8,587.1 514.3,587.1 514.8,587.1 515.3,587.1 515.8,587.2 516.3,587.2 516.8,587.2 517.3,587.2 517.8,587.2 518.3,587.2 518.8,587.2 519.3,587.2 519.8,587.2 520.3,587.2 520.8,587.2 521.3,587.2 521.8,587.2 522.3,587.2 522.8,587.2 523.3,587.2 523.8,587.2 524.3,587.2 524.8,587.2 525.3,587.2 525.8,587.2 526.3,587.2 526.8,587.2 527.3,587.2 527.8,587.2 528.3,587.2 528.8,587.2 529.3,587.2 529.8,587.2 530.3,587.2 530.8,587.2 531.3,587.2 531.8,587.2 532.3,587.2 532.8,587.2 533.3,587.2 533.8,587.2 534.3,587.2 534.8,587.2 535.3,587.2 535.8,587.2 536.3,587.2 536.8,587.2 537.3,587.2 537.8,587.2 538.3,587.2 538.8,587.2 539.3,587.2 539.8,587.2 540.3,587.2 540.8,587.2 541.3,587.2 541.8,587.3 542.3,587.3 542.8,587.3 543.3,587.3 543.8,587.3 544.3,587.3 544.8,587.3 545.3,587.3 545.8,587.3 546.3,587.3 546.8,587.3 547.3,587.3 547.8,587.3 548.3,587.3 548.8,587.3 549.3,587.3 549.8,587.3 550.3,587.3 550.8,587.3 551.3,587.3 551.8,587.3 552.3,587.3 552.8,587.3 553.3,587.3 553.8,587.3 554.3,587.3 554.8,587.3 555.3,587.3 555.8,587.3 556.3,587.3 556.8,587.3 557.3,587.3 557.8,587.3 558.3,587.3 558.8,587.3 559.3,587.3 559.8,587.3 560.3,587.3 560.8,587.3 561.3,587.3 561.8,587.3 562.3,587.3 562.8,587.3 563.3,587.3 563.8,587.3 564.3,587.3 564.8,587.3 565.3,587.3 565.8,587.3 566.3,587.3 566.8,587.3 567.3,587.3 567.8,587.3 568.3,587.3 568.8,587.3 569.3,587.3 569.8,587.3 570.3,587.3 570.8,587.3 571.3,587.3 571.8,587.3 572.3,587.3 572.8,587.3 573.3,587.3 573.8,587.3 574.3,587.3 574.8,587.3 575.3,587.3 575.8,587.3 576.3,587.3 576.8,587.3 577.3,587.3 577.8,587.3 578.3,587.3 578.8,587.3 579.3,587.3 579.8,587.3 580.3,587.3 580.8,587.3 581.3,587.3 581.8,587.3 582.3,587.3 582.8,587.3 583.3,587.3 583.8,587.3 584.3,587.3 584.8,587.3 585.3,587.3 585.8,587.3 586.3,587.3 586.8,587.3 587.3,587.3 587.8,587.3 588.3,587.3 588.8,587.3 589.3,587.3 589.8,587.3 590.3,587.3 590.8,587.3 591.3,587.3 591.8,587.3 592.3,587.3 592.8,587.3 593.3,587.3 593.8,587.3 594.3,587.3 594.8,587.3 595.3,587.3 595.8,587.3 596.3,587.3 596.8,587.3 597.3,587.3 597.8,587.3 598.3,587.3 598.8,587.3 599.3,587.3 599.8,587.3 600.3,587.3 600.8,587.3 601.3,587.3 601.8,587.3 602.3,587.3 602.8,587.3 603.3,587.3 603.8,587.3 604.3,587.3 604.8,587.3 605.3,587.3 605.8,587.3 606.3,587.3 606.8,587.3 607.3,587.3 607.8,587.3 608.3,587.3 608.8,587.3 609.3,587.3 609.8,587.3 610.3,587.3 610.8,587.3 611.3,587.3 611.8,587.3 612.3,587.3 612.8,587.3 613.3,587.3 613.8,587.3 614.3,587.3 614.8,587.3 615.3,587.3 615.8,587.3 616.3,587.3 616.8,587.3 617.3,587.3 617.8,587.3 618.3,587.3 618.8,587.3 619.3,587.3 619.8,587.3 620.3,587.3 620.8,587.3 621.3,587.3 621.8,587.3 622.3,587.3 622.8,587.3 623.3,587.3 623.8,587.3 624.3,587.3 624.8,587.3 625.3,587.3 625.8,587.3 626.3,587.3 626.8,587.3 627.3,587.3 627.8,587.3 628.3,587.3 628.8,587.3 629.3,587.3 629.8,587.3 630.3,587.3 630.8,587.3 631.3,587.3 631.8,587.3 632.3,587.3 632.8,587.3 633.3,587.3 633.8,587.3 634.3,587.3 634.8,587.3 635.3,587.3 635.8,587.3 636.3,587.3 636.8,587.3 637.3,587.3 637.8,587.3 638.3,587.3 638.8,587.3 639.3,587.3 639.8,587.3 640.3,587.3 640.8,587.3 641.3,587.3 641.8,587.3 642.3,587.3 642.8,587.3 643.3,587.3 643.8,587.3" fill="none" stroke="#1a3fa0" stroke-width="2.40" stroke-linejoin="round" stroke-linecap="round" />
<polyline points="190.3,584.7 190.8,584.7 191.3,584.7 191.8,584.7 192.3,584.7 192.8,584.7 193.3,584.7 193.8,584.7 194.3,584.7 194.8,584.7 195.3,584.7 195.8,584.7 196.3,584.7 196.8,584.7 197.3,584.7 197.8,584.7 198.3,584.7 198.8,584.7 199.3,584.7 199.8,584.7 200.3,584.7 200.8,584.7 201.3,584.7 201.8,584.7 202.3,584.7 202.8,584.7 203.3,584.7 203.8,584.7 204.3,584.7 204.8,584.7 205.3,584.7 205.8,584.7 206.3,584.7 206.8,584.7 207.3,584.7 207.8,584.7 208.3,584.7 208.8,584.7 209.3,584.7 209.8,584.7 210.3,584.7 210.8,584.7 211.3,584.7 211.8,584.7 212.3,584.7 212.8,584.7 213.3,584.7 213.8,584.7 214.3,584.7 214.8,584.7 215.3,584.7 215.8,584.7 216.3,584.7 216.8,584.7 217.3,584.7 217.8,584.7 218.3,584.7 218.8,584.7 219.3,584.7 219.8,584.7 220.3,584.7 220.8,584.7 221.3,584.7 221.8,584.7 222.3,584.7 222.8,584.7 223.3,584.7 223.8,584.7 224.3,584.7 224.8,584.7 225.3,584.7 225.8,584.7 226.3,584.7 226.8,584.7 227.3,584.7 227.8,584.7 228.3,584.7 228.8,584.7 229.3,584.7 229.8,584.7 230.3,584.7 230.8,584.7 231.3,584.7 231.8,584.7 232.3,584.7 232.8,584.7 233.3,584.7 233.8,584.7 234.3,584.7 234.8,584.7 235.3,584.7 235.8,584.7 236.3,584.7 236.8,584.7 237.3,584.7 237.8,584.7 238.3,584.7 238.8,584.7 239.3,584.7 239.8,584.7 240.3,584.7 240.8,584.7 241.3,584.7 241.8,584.7 242.3,584.7 242.8,584.7 243.3,584.7 243.8,584.7 244.3,584.7 244.8,584.7 245.3,584.7 245.8,584.7 246.3,584.7 246.8,584.7 247.3,584.7 247.8,584.7 248.3,584.7 248.8,584.7 249.3,584.7 249.8,584.7 250.3,584.7 250.8,584.7 251.3,584.7 251.8,584.7 252.3,584.7 252.8,584.7 253.3,584.7 253.8,584.7 254.3,584.7 254.8,584.7 255.3,584.7 255.8,584.7 256.3,584.7 256.8,584.7 257.3,584.7 257.8,584.7 258.3,584.7 258.8,584.7 259.3,584.7 259.8,584.7 260.3,584.7 260.8,584.7 261.3,584.7 261.8,584.7 262.3,584.7 262.8,584.7 263.3,584.7 263.8,584.7 264.3,584.7 264.8,584.8 265.3,584.8 265.8,584.8 266.3,584.8 266.8,584.8 267.3,584.8 267.8,584.8 268.3,584.8 268.8,584.8 269.3,584.8 269.8,584.8 270.3,584.8 270.8,584.8 271.3,584.8 271.8,584.8 272.3,584.8 272.8,584.8 273.3,584.8 273.8,584.8 274.3,584.8 274.8,584.8 275.3,584.8 275.8,584.8 276.3,584.8 276.8,584.8 277.3,584.8 277.8,584.8 278.3,584.8 278.8,584.8 279.3,584.8 279.8,584.8 280.3,584.8 280.8,584.8 281.3,584.8 281.8,584.8 282.3,584.8 282.8,584.8 283.3,584.8 283.8,584.8 284.3,584.8 284.8,584.8 285.3,584.8 285.8,584.8 286.3,584.8 286.8,584.8 287.3,584.8 287.8,584.8 288.3,584.8 288.8,584.8 289.3,584.8 289.8,584.8 290.3,584.8 290.8,584.8 291.3,584.8 291.8,584.8 292.3,584.8 292.8,584.8 293.3,584.8 293.8,584.8 294.3,584.8 294.8,584.8 295.3,584.8 295.8,584.8 296.3,584.8 296.8,584.8 297.3,584.8 297.8,584.9 298.3,584.9 298.8,584.9 299.3,584.9 299.8,584.9 300.3,584.9 300.8,584.9 301.3,584.9 301.8,584.9 302.3,584.9 302.8,584.9 303.3,584.9 303.8,584.9 304.3,584.9 304.8,584.9 305.3,584.9 305.8,584.9 306.3,584.9 306.8,584.9 307.3,584.9 307.8,584.9 308.3,584.9 308.8,584.9 309.3,584.9 309.8,584.9 310.3,584.9 310.8,584.9 311.3,584.9 311.8,584.9 312.3,584.9 312.8,584.9 313.3,584.9 313.8,584.9 314.3,584.9 314.8,584.9 315.3,584.9 315.8,584.9 316.3,584.9 316.8,584.9 317.3,584.9 317.8,584.9 318.3,584.9 318.8,584.9 319.3,584.9 319.8,584.9 320.3,584.9 320.8,584.9 321.3,584.9 321.8,584.9 322.3,584.9 322.8,584.9 323.3,584.9 323.8,584.9 324.3,584.9 324.8,584.9 325.3,584.9 325.8,584.9 326.3,585.0 326.8,585.0 327.3,585.0 327.8,585.0 328.3,585.0 328.8,585.0 329.3,585.0 329.8,585.0 330.3,585.0 330.8,585.0 331.3,585.0 331.8,585.0 332.3,585.0 332.8,585.0 333.3,585.0 333.8,585.0 334.3,585.0 334.8,585.0 335.3,585.0 335.8,585.0 336.3,585.0 336.8,585.0 337.3,585.0 337.8,585.0 338.3,585.0 338.8,585.0 339.3,585.0 339.8,585.0 340.3,585.0 340.8,585.0 341.3,585.0 341.8,585.0 342.3,585.0 342.8,585.0 343.3,585.0 343.8,585.0 344.3,585.0 344.8,585.0 345.3,585.0 345.8,585.0 346.3,585.0 346.8,585.0 347.3,585.0 347.8,585.0 348.3,585.0 348.8,585.0 349.3,585.0 349.8,585.0 350.3,585.0 350.8,585.0 351.3,585.0 351.8,585.0 352.3,585.0 352.8,585.1 353.3,585.1 353.8,585.1 354.3,585.1 354.8,585.1 355.3,585.1 355.8,585.1 356.3,585.1 356.8,585.1 357.3,585.1 357.8,585.1 358.3,585.1 358.8,585.1 359.3,585.1 359.8,585.1 360.3,585.1 360.8,585.1 361.3,585.1 361.8,585.1 362.3,585.1 362.8,585.1 363.3,585.1 363.8,585.1 364.3,585.1 364.8,585.1 365.3,585.1 365.8,585.1 366.3,585.1 366.8,585.1 367.3,585.1 367.8,585.1 368.3,585.1 368.8,585.2 369.3,585.2 369.8,585.2 370.3,585.2 370.8,585.2 371.3,585.2 371.8,585.2 372.3,585.2 372.8,585.2 373.3,585.2 373.8,585.2 374.3,585.2 374.8,585.2 375.3,585.2 375.8,585.2 376.3,585.2 376.8,585.2 377.3,585.2 377.8,585.2 378.3,585.2 378.8,585.2 379.3,585.2 379.8,585.2 380.3,585.2 380.8,585.3 381.3,585.3 381.8,585.3 382.3,585.3 382.8,585.3 383.3,585.3 383.8,585.3 384.3,585.3 384.8,585.3 385.3,585.3 385.8,585.3 386.3,585.3 386.8,585.3 387.3,585.3 387.8,585.3 388.3,585.3 388.8,585.3 389.3,585.3 389.8,585.3 390.3,585.4 390.8,585.4 391.3,585.4 391.8,585.4 392.3,585.4 392.8,585.4 393.3,585.4 393.8,585.4 394.3,585.4 394.8,585.4 395.3,585.4 395.8,585.4 396.3,585.4 396.8,585.4 397.3,585.4 397.8,585.4 398.3,585.5 398.8,585.5 399.3,585.5 399.8,585.5 400.3,585.5 400.8,585.5 401.3,585.5 401.8,585.5 402.3,585.5 402.8,585.5 403.3,585.5 403.8,585.5 404.3,585.5 404.8,585.5 405.3,585.6 405.8,585.6 406.3,585.6 406.8,585.6 407.3,585.6 407.8,585.6 408.3,585.6 408.8,585.6 409.3,585.6 409.8,585.6 410.3,585.6 410.8,585.6 411.3,585.7 411.8,585.7 412.3,585.7 412.8,585.7 413.3,585.7 413.8,585.7 414.3,585.7 414.8,585.7 415.3,585.7 415.8,585.7 416.3,585.8 416.8,585.8 417.3,585.8 417.8,585.8 418.3,585.8 418.8,585.8 419.3,585.8 419.8,585.8 420.3,585.8 420.8,585.9 421.3,585.9 421.8,585.9 422.3,585.9 422.8,585.9 423.3,585.9 423.8,585.9 424.3,585.9 424.8,586.0 425.3,586.0 425.8,586.0 426.3,586.0 426.8,586.0 427.3,586.0 427.8,586.0 428.3,586.1 428.8,586.1 429.3,586.1 429.8,586.1 430.3,586.1 430.8,586.1 431.3,586.1 431.8,586.2 432.3,586.2 432.8,586.2 433.3,586.2 433.8,586.2 434.3,586.2 434.8,586.3 435.3,586.3 435.8,586.3 436.3,586.3 436.8,586.3 437.3,586.4 437.8,586.4 438.3,586.4 438.8,586.4 439.3,586.4 439.8,586.5 440.3,586.5 440.8,586.5 441.3,586.5 441.8,586.5 442.3,586.6 442.8,586.6 443.3,586.6 443.8,586.6 444.3,586.6 444.8,586.7 445.3,586.7 445.8,586.7 446.3,586.7 446.8,586.8 447.3,586.8 447.8,586.8 448.3,586.8 448.8,586.9 449.3,586.9 449.8,586.9 450.3,586.9 450.8,586.9 451.3,587.0 451.8,587.0 452.3,587.0 452.8,587.0 453.3,587.1 453.8,587.1 454.3,587.1 454.8,587.1 455.3,587.2 455.8,587.2 456.3,587.2 456.8,587.2 457.3,587.3 457.8,587.3 458.3,587.3 458.8,587.3 459.3,587.4 459.8,587.4 460.3,587.4 460.8,587.4 461.3,587.5 461.8,587.5 462.3,587.5 462.8,587.5 463.3,587.6 463.8,587.6 464.3,587.6 464.8,587.6 465.3,587.7 465.8,587.7 466.3,587.7 466.8,587.7 467.3,587.8 467.8,587.8 468.3,587.8 468.8,587.8 469.3,587.9 469.8,587.9 470.3,587.9 470.8,587.9 471.3,587.9 471.8,588.0 472.3,588.0 472.8,588.0 473.3,588.0 473.8,588.1 474.3,588.1 474.8,588.1 475.3,588.1 475.8,588.1 476.3,588.2 476.8,588.2 477.3,588.2 477.8,588.2 478.3,588.2 478.8,588.3 479.3,588.3 479.8,588.3 480.3,588.3 480.8,588.3 481.3,588.4 481.8,588.4 482.3,588.4 482.8,588.4 483.3,588.4 483.8,588.4 484.3,588.5 484.8,588.5 485.3,588.5 485.8,588.5 486.3,588.5 486.8,588.5 487.3,588.6 487.8,588.6 488.3,588.6 488.8,588.6 489.3,588.6 489.8,588.6 490.3,588.6 490.8,588.7 491.3,588.7 491.8,588.7 492.3,588.7 492.8,588.7 493.3,588.7 493.8,588.7 494.3,588.7 494.8,588.8 495.3,588.8 495.8,588.8 496.3,588.8 496.8,588.8 497.3,588.8 497.8,588.8 498.3,588.8 498.8,588.8 499.3,588.8 499.8,588.9 500.3,588.9 500.8,588.9 501.3,588.9 501.8,588.9 502.3,588.9 502.8,588.9 503.3,588.9 503.8,588.9 504.3,588.9 504.8,588.9 505.3,588.9 505.8,588.9 506.3,589.0 506.8,589.0 507.3,589.0 507.8,589.0 508.3,589.0 508.8,589.0 509.3,589.0 509.8,589.0 510.3,589.0 510.8,589.0 511.3,589.0 511.8,589.0 512.3,589.0 512.8,589.0 513.3,589.0 513.8,589.0 514.3,589.0 514.8,589.0 515.3,589.0 515.8,589.1 516.3,589.1 516.8,589.1 517.3,589.1 517.8,589.1 518.3,589.1 518.8,589.1 519.3,589.1 519.8,589.1 520.3,589.1 520.8,589.1 521.3,589.1 521.8,589.1 522.3,589.1 522.8,589.1 523.3,589.1 523.8,589.1 524.3,589.1 524.8,589.1 525.3,589.1 525.8,589.1 526.3,589.1 526.8,589.1 527.3,589.1 527.8,589.1 528.3,589.1 528.8,589.1 529.3,589.1 529.8,589.1 530.3,589.1 530.8,589.1 531.3,589.1 531.8,589.1 532.3,589.1 532.8,589.1 533.3,589.1 533.8,589.1 534.3,589.1 534.8,589.1 535.3,589.1 535.8,589.1 536.3,589.1 536.8,589.1 537.3,589.1 537.8,589.1 538.3,589.1 538.8,589.1 539.3,589.1 539.8,589.1 540.3,589.1 540.8,589.1 541.3,589.1 541.8,589.2 542.3,589.2 542.8,589.2 543.3,589.2 543.8,589.2 544.3,589.2 544.8,589.2 545.3,589.2 545.8,589.2 546.3,589.2 546.8,589.2 547.3,589.2 547.8,589.2 548.3,589.2 548.8,589.2 549.3,589.2 549.8,589.2 550.3,589.2 550.8,589.2 551.3,589.2 551.8,589.2 552.3,589.2 552.8,589.2 553.3,589.2 553.8,589.2 554.3,589.2 554.8,589.2 555.3,589.2 555.8,589.2 556.3,589.2 556.8,589.2 557.3,589.2 557.8,589.2 558.3,589.2 558.8,589.2 559.3,589.2 559.8,589.2 560.3,589.2 560.8,589.2 561.3,589.2 561.8,589.2 562.3,589.2 562.8,589.2 563.3,589.2 563.8,589.2 564.3,589.2 564.8,589.2 565.3,589.2 565.8,589.2 566.3,589.2 566.8,589.2 567.3,589.2 567.8,589.2 568.3,589.2 568.8,589.2 569.3,589.2 569.8,589.2 570.3,589.2 570.8,589.2 571.3,589.2 571.8,589.2 572.3,589.2 572.8,589.2 573.3,589.2 573.8,589.2 574.3,589.2 574.8,589.2 575.3,589.2 575.8,589.2 576.3,589.2 576.8,589.2 577.3,589.2 577.8,589.2 578.3,589.2 578.8,589.2 579.3,589.2 579.8,589.2 580.3,589.2 580.8,589.2 581.3,589.2 581.8,589.2 582.3,589.2 582.8,589.2 583.3,589.2 583.8,589.2 584.3,589.2 584.8,589.2 585.3,589.2 585.8,589.2 586.3,589.2 586.8,589.2 587.3,589.2 587.8,589.2 588.3,589.2 588.8,589.2 589.3,589.2 589.8,589.2 590.3,589.2 590.8,589.2 591.3,589.2 591.8,589.2 592.3,589.2 592.8,589.2 593.3,589.2 593.8,589.2 594.3,589.2 594.8,589.2 595.3,589.2 595.8,589.2 596.3,589.2 596.8,589.2 597.3,589.2 597.8,589.2 598.3,589.2 598.8,589.2 599.3,589.2 599.8,589.2 600.3,589.2 600.8,589.2 601.3,589.2 601.8,589.2 602.3,589.2 602.8,589.2 603.3,589.2 603.8,589.2 604.3,589.2 604.8,589.2 605.3,589.2 605.8,589.2 606.3,589.2 606.8,589.2 607.3,589.2 607.8,589.2 608.3,589.2 608.8,589.2 609.3,589.2 609.8,589.2 610.3,589.2 610.8,589.2 611.3,589.2 611.8,589.2 612.3,589.2 612.8,589.2 613.3,589.2 613.8,589.2 614.3,589.2 614.8,589.2 615.3,589.2 615.8,589.2 616.3,589.2 616.8,589.2 617.3,589.2 617.8,589.2 618.3,589.2 618.8,589.2 619.3,589.2 619.8,589.2 620.3,589.2 620.8,589.2 621.3,589.2 621.8,589.2 622.3,589.2 622.8,589.2 623.3,589.2 623.8,589.2 624.3,589.2 624.8,589.2 625.3,589.2 625.8,589.2 626.3,589.2 626.8,589.2 627.3,589.2 627.8,589.2 628.3,589.2 628.8,589.2 629.3,589.2 629.8,589.2 630.3,589.2 630.8,589.2 631.3,589.2 631.8,589.2 632.3,589.2 632.8,589.2 633.3,589.2 633.8,589.2 634.3,589.2 634.8,589.2 635.3,589.2 635.8,589.2 636.3,589.2 636.8,589.2 637.3,589.2 637.8,589.2 638.3,589.2 638.8,589.2 639.3,589.2 639.8,589.2 640.3,589.2 640.8,589.2 641.3,589.2 641.8,589.2 642.3,589.2 642.8,589.2 643.3,589.2 643.8,589.2" fill="none" stroke="#1a88b4" stroke-width="2.60" stroke-linejoin="round" stroke-linecap="round" />
<polyline points="28.3,585.6 28.8,585.6 29.3,585.7 29.8,585.4 30.3,585.7 30.8,585.8 31.3,585.6 31.8,584.4 32.3,583.3 32.8,583.3 33.3,583.7 33.8,583.7 34.3,582.9 34.8,581.9 35.3,581.5 35.8,581.1 36.3,579.9 36.8,578.7 37.3,578.8 37.8,579.9 38.3,580.3 38.8,579.9 39.3,580.3 39.8,581.2 40.3,581.5 40.8,581.6 41.3,581.6 41.8,581.4 42.3,582.2 42.8,583.3 43.3,584.3 43.8,584.3 44.3,583.3 44.8,583.0 45.3,582.7 45.8,582.0 46.3,582.0 46.8,582.7 47.3,582.4 47.8,581.8 48.3,581.8 48.8,581.5 49.3,581.8 49.8,582.6 50.3,582.9 50.8,581.8 51.3,581.4 51.8,581.8 52.3,582.2 52.8,583.7 53.3,586.2 53.8,587.0 54.3,586.1 54.8,585.0 55.3,584.3 55.8,583.5 56.3,584.2 56.8,585.4 57.3,585.1 57.8,583.3 58.3,583.1 58.8,584.2 59.3,584.5 59.8,584.3 60.3,584.4 60.8,584.0 61.3,584.0 61.8,584.8 62.3,585.1 62.8,584.8 63.3,585.4 63.8,586.4 64.3,587.3 64.8,588.1 65.3,588.7 65.8,588.9 66.3,588.3 66.8,586.7 67.3,585.7 67.8,586.3 68.3,587.6 68.8,587.5 69.3,585.0 69.8,583.4 70.3,583.4 70.8,583.3 71.3,582.6 71.8,581.9 72.3,581.8 72.8,582.9 73.3,584.8 73.8,585.7 74.3,585.4 74.8,585.4 75.3,586.3 75.8,587.0 76.3,586.7 76.8,586.4 77.3,586.6 77.8,586.8 78.3,585.8 78.8,585.5 79.3,586.3 79.8,587.1 80.3,587.1 80.8,586.4 81.3,585.4 81.8,584.6 82.3,583.8 82.8,583.3 83.3,583.2 83.8,583.4 84.3,583.2 84.8,582.3 85.3,582.1 85.8,582.8 86.3,583.7 86.8,584.0 87.3,584.2 87.8,584.7 88.3,585.1 88.8,585.6 89.3,586.7 89.8,587.2 90.3,587.4 90.8,587.0 91.3,586.0 91.8,584.5 92.3,583.7 92.8,583.8 93.3,583.9 93.8,583.5 94.3,582.8 94.8,581.9 95.3,581.8 95.8,582.7 96.3,583.3 96.8,583.1 97.3,583.4 97.8,583.5 98.3,583.0 98.8,582.6 99.3,583.1 99.8,584.6 100.3,584.8 100.8,584.1 101.3,584.1 101.8,585.1 102.3,586.1 102.8,585.7 103.3,585.4 103.8,585.0 104.3,584.4 104.8,584.3 105.3,583.9 105.8,582.9 106.3,582.5 106.8,582.9 107.3,583.2 107.8,583.6 108.3,583.9 108.8,584.1 109.3,583.9 109.8,584.4 110.3,585.7 110.8,586.7 111.3,586.3 111.8,585.2 112.3,585.1 112.8,584.6 113.3,583.8 113.8,583.5 114.3,583.9 114.8,583.6 115.3,582.5 115.8,582.3 116.3,582.3 116.8,583.0 117.3,583.7 117.8,583.5 118.3,582.6 118.8,582.5 119.3,582.5 119.8,582.7 120.3,583.4 120.8,584.0 121.3,584.6 121.8,585.6 122.3,586.1 122.8,585.6 123.3,585.5 123.8,585.4 124.3,584.2 124.8,582.7 125.3,582.1 125.8,582.3 126.3,582.2 126.8,581.8 127.3,581.2 127.8,580.8 128.3,580.9 128.8,581.7 129.3,583.6 129.8,585.3 130.3,586.3 130.8,586.1 131.3,585.9 131.8,586.2 132.3,586.8 132.8,586.5 133.3,586.5 133.8,586.4 134.3,585.5 134.8,583.8 135.3,582.4 135.8,582.1 136.3,582.6 136.8,583.6 137.3,584.4 137.8,584.7 138.3,585.4 138.8,585.3 139.3,584.5 139.8,583.5 140.3,583.2 140.8,584.0 141.3,584.4 141.8,583.4 142.3,582.6 142.8,582.2 143.3,582.4 143.8,581.9 144.3,580.7 144.8,579.6 145.3,580.2 145.8,580.9 146.3,580.6 146.8,579.7 147.3,578.3 147.8,577.2 148.3,577.6 148.8,577.8 149.3,577.2 149.8,577.1 150.3,577.5 150.8,577.8 151.3,578.2 151.8,578.2 152.3,578.1 152.8,579.4 153.3,580.8 153.8,581.9 154.3,583.2 154.8,584.2 155.3,585.6 155.8,586.0 156.3,585.2 156.8,584.1 157.3,584.3 157.8,584.8 158.3,584.2 158.8,583.4 159.3,583.3 159.8,583.5 160.3,583.2 160.8,582.5 161.3,581.6 161.8,581.1 162.3,580.9 162.8,580.3 163.3,579.6 163.8,579.7 164.3,581.1 164.8,582.9 165.3,584.2 165.8,584.2 166.3,583.4 166.8,582.7 167.3,582.9 167.8,582.8 168.3,582.4 168.8,581.8 169.3,581.8 169.8,582.8 170.3,583.5 170.8,583.4 171.3,583.6 171.8,582.5 172.3,579.7 172.8,577.7 173.3,577.2 173.8,577.0 174.3,577.3 174.8,578.2 175.3,579.5 175.8,580.5 176.3,580.9 176.8,581.2 177.3,582.0 177.8,582.7 178.3,583.2 178.8,583.0 179.3,582.4 179.8,582.1 180.3,582.8 180.8,583.2 181.3,582.3 181.8,581.7 182.3,582.2 182.8,581.7 183.3,581.3 183.8,583.1 184.3,585.1 184.8,586.5 185.3,587.1 185.8,586.5 186.3,584.8 186.8,582.8 187.3,582.4 187.8,582.6 188.3,582.2 188.8,581.0 189.3,580.4 189.8,580.1 190.3,583.6 190.8,583.6" fill="none" stroke="#2a1008" stroke-width="5.00" stroke-linejoin="round" stroke-linecap="round" />
<polyline points="28.3,585.6 28.8,585.6 29.3,585.7 29.8,585.4 30.3,585.7 30.8,585.8 31.3,585.6 31.8,584.4 32.3,583.3 32.8,583.3 33.3,583.7 33.8,583.7 34.3,582.9 34.8,581.9 35.3,581.5 35.8,581.1 36.3,579.9 36.8,578.7 37.3,578.8 37.8,579.9 38.3,580.3 38.8,579.9 39.3,580.3 39.8,581.2 40.3,581.5 40.8,581.6 41.3,581.6 41.8,581.4 42.3,582.2 42.8,583.3 43.3,584.3 43.8,584.3 44.3,583.3 44.8,583.0 45.3,582.7 45.8,582.0 46.3,582.0 46.8,582.7 47.3,582.4 47.8,581.8 48.3,581.8 48.8,581.5 49.3,581.8 49.8,582.6 50.3,582.9 50.8,581.8 51.3,581.4 51.8,581.8 52.3,582.2 52.8,583.7 53.3,586.2 53.8,587.0 54.3,586.1 54.8,585.0 55.3,584.3 55.8,583.5 56.3,584.2 56.8,585.4 57.3,585.1 57.8,583.3 58.3,583.1 58.8,584.2 59.3,584.5 59.8,584.3 60.3,584.4 60.8,584.0 61.3,584.0 61.8,584.8 62.3,585.1 62.8,584.8 63.3,585.4 63.8,586.4 64.3,587.3 64.8,588.1 65.3,588.7 65.8,588.9 66.3,588.3 66.8,586.7 67.3,585.7 67.8,586.3 68.3,587.6 68.8,587.5 69.3,585.0 69.8,583.4 70.3,583.4 70.8,583.3 71.3,582.6 71.8,581.9 72.3,581.8 72.8,582.9 73.3,584.8 73.8,585.7 74.3,585.4 74.8,585.4 75.3,586.3 75.8,587.0 76.3,586.7 76.8,586.4 77.3,586.6 77.8,586.8 78.3,585.8 78.8,585.5 79.3,586.3 79.8,587.1 80.3,587.1 80.8,586.4 81.3,585.4 81.8,584.6 82.3,583.8 82.8,583.3 83.3,583.2 83.8,583.4 84.3,583.2 84.8,582.3 85.3,582.1 85.8,582.8 86.3,583.7 86.8,584.0 87.3,584.2 87.8,584.7 88.3,585.1 88.8,585.6 89.3,586.7 89.8,587.2 90.3,587.4 90.8,587.0 91.3,586.0 91.8,584.5 92.3,583.7 92.8,583.8 93.3,583.9 93.8,583.5 94.3,582.8 94.8,581.9 95.3,581.8 95.8,582.7 96.3,583.3 96.8,583.1 97.3,583.4 97.8,583.5 98.3,583.0 98.8,582.6 99.3,583.1 99.8,584.6 100.3,584.8 100.8,584.1 101.3,584.1 101.8,585.1 102.3,586.1 102.8,585.7 103.3,585.4 103.8,585.0 104.3,584.4 104.8,584.3 105.3,583.9 105.8,582.9 106.3,582.5 106.8,582.9 107.3,583.2 107.8,583.6 108.3,583.9 108.8,584.1 109.3,583.9 109.8,584.4 110.3,585.7 110.8,586.7 111.3,586.3 111.8,585.2 112.3,585.1 112.8,584.6 113.3,583.8 113.8,583.5 114.3,583.9 114.8,583.6 115.3,582.5 115.8,582.3 116.3,582.3 116.8,583.0 117.3,583.7 117.8,583.5 118.3,582.6 118.8,582.5 119.3,582.5 119.8,582.7 120.3,583.4 120.8,584.0 121.3,584.6 121.8,585.6 122.3,586.1 122.8,585.6 123.3,585.5 123.8,585.4 124.3,584.2 124.8,582.7 125.3,582.1 125.8,582.3 126.3,582.2 126.8,581.8 127.3,581.2 127.8,580.8 128.3,580.9 128.8,581.7 129.3,583.6 129.8,585.3 130.3,586.3 130.8,586.1 131.3,585.9 131.8,586.2 132.3,586.8 132.8,586.5 133.3,586.5 133.8,586.4 134.3,585.5 134.8,583.8 135.3,582.4 135.8,582.1 136.3,582.6 136.8,583.6 137.3,584.4 137.8,584.7 138.3,585.4 138.8,585.3 139.3,584.5 139.8,583.5 140.3,583.2 140.8,584.0 141.3,584.4 141.8,583.4 142.3,582.6 142.8,582.2 143.3,582.4 143.8,581.9 144.3,580.7 144.8,579.6 145.3,580.2 145.8,580.9 146.3,580.6 146.8,579.7 147.3,578.3 147.8,577.2 148.3,577.6 148.8,577.8 149.3,577.2 149.8,577.1 150.3,577.5 150.8,577.8 151.3,578.2 151.8,578.2 152.3,578.1 152.8,579.4 153.3,580.8 153.8,581.9 154.3,583.2 154.8,584.2 155.3,585.6 155.8,586.0 156.3,585.2 156.8,584.1 157.3,584.3 157.8,584.8 158.3,584.2 158.8,583.4 159.3,583.3 159.8,583.5 160.3,583.2 160.8,582.5 161.3,581.6 161.8,581.1 162.3,580.9 162.8,580.3 163.3,579.6 163.8,579.7 164.3,581.1 164.8,582.9 165.3,584.2 165.8,584.2 166.3,583.4 166.8,582.7 167.3,582.9 167.8,582.8 168.3,582.4 168.8,581.8 169.3,581.8 169.8,582.8 170.3,583.5 170.8,583.4 171.3,583.6 171.8,582.5 172.3,579.7 172.8,577.7 173.3,577.2 173.8,577.0 174.3,577.3 174.8,578.2 175.3,579.5 175.8,580.5 176.3,580.9 176.8,581.2 177.3,582.0 177.8,582.7 178.3,583.2 178.8,583.0 179.3,582.4 179.8,582.1 180.3,582.8 180.8,583.2 181.3,582.3 181.8,581.7 182.3,582.2 182.8,581.7 183.3,581.3 183.8,583.1 184.3,585.1 184.8,586.5 185.3,587.1 185.8,586.5 186.3,584.8 186.8,582.8 187.3,582.4 187.8,582.6 188.3,582.2 188.8,581.0 189.3,580.4 189.8,580.1 190.3,583.6 190.8,583.6" fill="none" stroke="#f0581c" stroke-width="3.40" stroke-linejoin="round" stroke-linecap="round" />
<polyline points="643.3,587.8 643.8,587.8 644.3,583.3 644.8,583.8 645.3,585.7 645.8,587.1 646.3,587.2 646.8,587.3 647.3,588.1 647.8,589.0 648.3,589.7 648.8,589.7 649.3,589.6 649.8,588.9 650.3,588.3 650.8,588.1 651.3,588.0 651.8,587.7 652.3,587.0 652.8,586.5 653.3,586.5 653.8,586.0 654.3,585.3 654.8,585.4 655.3,585.2 655.8,585.3 656.3,585.9 656.8,586.1 657.3,585.5 657.8,584.5 658.3,584.2 658.8,585.3 659.3,586.6" fill="none" stroke="#2a1008" stroke-width="5.00" stroke-linejoin="round" stroke-linecap="round" />
<polyline points="643.3,587.8 643.8,587.8 644.3,583.3 644.8,583.8 645.3,585.7 645.8,587.1 646.3,587.2 646.8,587.3 647.3,588.1 647.8,589.0 648.3,589.7 648.8,589.7 649.3,589.6 649.8,588.9 650.3,588.3 650.8,588.1 651.3,588.0 651.8,587.7 652.3,587.0 652.8,586.5 653.3,586.5 653.8,586.0 654.3,585.3 654.8,585.4 655.3,585.2 655.8,585.3 656.3,585.9 656.8,586.1 657.3,585.5 657.8,584.5 658.3,584.2 658.8,585.3 659.3,586.6" fill="none" stroke="#f0581c" stroke-width="3.40" stroke-linejoin="round" stroke-linecap="round" />
<polyline points="190.3,583.6 190.8,583.6 191.3,583.6 191.8,583.6 192.3,583.6 192.8,583.6 193.3,583.6 193.8,583.6 194.3,583.6 194.8,583.6 195.3,583.6 195.8,583.5 196.3,583.5 196.8,583.5 197.3,583.5 197.8,583.5 198.3,583.5 198.8,583.5 199.3,583.5 199.8,583.5 200.3,583.5 200.8,583.5 201.3,583.5 201.8,583.5 202.3,583.5 202.8,583.5 203.3,583.5 203.8,583.5 204.3,583.5 204.8,583.5 205.3,583.5 205.8,583.5 206.3,583.5 206.8,583.5 207.3,583.5 207.8,583.4 208.3,583.4 208.8,583.4 209.3,583.4 209.8,583.4 210.3,583.4 210.8,583.4 211.3,583.4 211.8,583.4 212.3,583.4 212.8,583.4 213.3,583.4 213.8,583.3 214.3,583.3 214.8,583.3 215.3,583.3 215.8,583.3 216.3,583.3 216.8,583.3 217.3,583.3 217.8,583.3 218.3,583.2 218.8,583.2 219.3,583.2 219.8,583.2 220.3,583.2 220.8,583.2 221.3,583.1 221.8,583.1 222.3,583.1 222.8,583.1 223.3,583.1 223.8,583.1 224.3,583.0 224.8,583.0 225.3,583.0 225.8,583.0 226.3,582.9 226.8,582.9 227.3,582.9 227.8,582.9 228.3,582.8 228.8,582.8 229.3,582.8 229.8,582.8 230.3,582.7 230.8,582.7 231.3,582.7 231.8,582.6 232.3,582.6 232.8,582.6 233.3,582.5 233.8,582.5 234.3,582.4 234.8,582.4 235.3,582.4 235.8,582.3 236.3,582.3 236.8,582.2 237.3,582.2 237.8,582.2 238.3,582.1 238.8,582.1 239.3,582.0 239.8,582.0 240.3,581.9 240.8,581.9 241.3,581.8 241.8,581.8 242.3,581.7 242.8,581.6 243.3,581.6 243.8,581.5 244.3,581.5 244.8,581.4 245.3,581.3 245.8,581.3 246.3,581.2 246.8,581.2 247.3,581.1 247.8,581.0 248.3,581.0 248.8,580.9 249.3,580.8 249.8,580.7 250.3,580.7 250.8,580.6 251.3,580.5 251.8,580.4 252.3,580.4 252.8,580.3 253.3,580.2 253.8,580.1 254.3,580.0 254.8,580.0 255.3,579.9 255.8,579.8 256.3,579.7 256.8,579.6 257.3,579.5 257.8,579.4 258.3,579.3 258.8,579.3 259.3,579.2 259.8,579.1 260.3,579.0 260.8,578.9 261.3,578.8 261.8,578.7 262.3,578.6 262.8,578.5 263.3,578.4 263.8,578.3 264.3,578.2 264.8,578.1 265.3,578.0 265.8,577.9 266.3,577.8 266.8,577.7 267.3,577.6 267.8,577.5 268.3,577.4 268.8,577.3 269.3,577.2 269.8,577.1 270.3,577.1 270.8,577.0 271.3,576.9 271.8,576.8 272.3,576.7 272.8,576.6 273.3,576.5 273.8,576.4 274.3,576.3 274.8,576.2 275.3,576.1 275.8,576.0 276.3,575.9 276.8,575.8 277.3,575.8 277.8,575.7 278.3,575.6 278.8,575.5 279.3,575.4 279.8,575.3 280.3,575.3 280.8,575.2 281.3,575.1 281.8,575.0 282.3,574.9 282.8,574.9 283.3,574.8 283.8,574.7 284.3,574.7 284.8,574.6 285.3,574.5 285.8,574.5 286.3,574.4 286.8,574.4 287.3,574.3 287.8,574.2 288.3,574.2 288.8,574.1 289.3,574.1 289.8,574.0 290.3,574.0 290.8,574.0 291.3,573.9 291.8,573.9 292.3,573.8 292.8,573.8 293.3,573.8 293.8,573.8 294.3,573.7 294.8,573.7 295.3,573.7 295.8,573.7 296.3,573.6 296.8,573.6 297.3,573.6 297.8,573.6 298.3,573.6 298.8,573.6 299.3,573.6 299.8,573.6 300.3,573.6 300.8,573.6 301.3,573.6 301.8,573.6 302.3,573.6 302.8,573.6 303.3,573.6 303.8,573.6 304.3,573.6 304.8,573.6 305.3,573.7 305.8,573.7 306.3,573.7 306.8,573.7 307.3,573.7 307.8,573.8 308.3,573.8 308.8,573.8 309.3,573.8 309.8,573.9 310.3,573.9 310.8,573.9 311.3,573.9 311.8,574.0 312.3,574.0 312.8,574.0 313.3,574.1 313.8,574.1 314.3,574.1 314.8,574.2 315.3,574.2 315.8,574.2 316.3,574.3 316.8,574.3 317.3,574.3 317.8,574.3 318.3,574.4 318.8,574.4 319.3,574.4 319.8,574.4 320.3,574.5 320.8,574.5 321.3,574.5 321.8,574.5 322.3,574.6 322.8,574.6 323.3,574.6 323.8,574.6 324.3,574.6 324.8,574.6 325.3,574.6 325.8,574.7 326.3,574.7 326.8,574.7 327.3,574.7 327.8,574.7 328.3,574.7 328.8,574.7 329.3,574.6 329.8,574.6 330.3,574.6 330.8,574.6 331.3,574.6 331.8,574.6 332.3,574.5 332.8,574.5 333.3,574.5 333.8,574.4 334.3,574.4 334.8,574.3 335.3,574.3 335.8,574.2 336.3,574.2 336.8,574.1 337.3,574.1 337.8,574.0 338.3,573.9 338.8,573.9 339.3,573.8 339.8,573.7 340.3,573.6 340.8,573.5 341.3,573.4 341.8,573.3 342.3,573.2 342.8,573.1 343.3,573.0 343.8,572.9 344.3,572.8 344.8,572.7 345.3,572.5 345.8,572.4 346.3,572.3 346.8,572.1 347.3,572.0 347.8,571.9 348.3,571.7 348.8,571.5 349.3,571.4 349.8,571.2 350.3,571.1 350.8,570.9 351.3,570.7 351.8,570.6 352.3,570.4 352.8,570.2 353.3,570.0 353.8,569.8 354.3,569.6 354.8,569.4 355.3,569.2 355.8,569.0 356.3,568.8 356.8,568.6 357.3,568.4 357.8,568.2 358.3,568.0 358.8,567.8 359.3,567.5 359.8,567.3 360.3,567.1 360.8,566.9 361.3,566.6 361.8,566.4 362.3,566.2 362.8,565.9 363.3,565.7 363.8,565.5 364.3,565.2 364.8,565.0 365.3,564.7 365.8,564.5 366.3,564.2 366.8,564.0 367.3,563.7 367.8,563.5 368.3,563.2 368.8,563.0 369.3,562.7 369.8,562.5 370.3,562.2 370.8,562.0 371.3,561.7 371.8,561.5 372.3,561.2 372.8,560.9 373.3,560.7 373.8,560.4 374.3,560.2 374.8,559.9 375.3,559.7 375.8,559.4 376.3,559.1 376.8,558.9 377.3,558.6 377.8,558.4 378.3,558.1 378.8,557.9 379.3,557.6 379.8,557.3 380.3,557.1 380.8,556.8 381.3,556.6 381.8,556.3 382.3,556.1 382.8,555.8 383.3,555.5 383.8,555.3 384.3,555.0 384.8,554.8 385.3,554.5 385.8,554.2 386.3,554.0 386.8,553.7 387.3,553.4 387.8,553.2 388.3,552.9 388.8,552.6 389.3,552.3 389.8,552.0 390.3,551.8 390.8,551.5 391.3,551.2 391.8,550.9 392.3,550.6 392.8,550.3 393.3,550.0 393.8,549.7 394.3,549.4 394.8,549.1 395.3,548.7 395.8,548.4 396.3,548.1 396.8,547.7 397.3,547.4 397.8,547.0 398.3,546.6 398.8,546.3 399.3,545.9 399.8,545.5 400.3,545.1 400.8,544.7 401.3,544.3 401.8,543.9 402.3,543.4 402.8,543.0 403.3,542.5 403.8,542.0 404.3,541.6 404.8,541.1 405.3,540.6 405.8,540.0 406.3,539.5 406.8,539.0 407.3,538.4 407.8,537.8 408.3,537.2 408.8,536.6 409.3,536.0 409.8,535.4 410.3,534.7 410.8,534.1 411.3,533.4 411.8,532.7 412.3,532.0 412.8,531.3 413.3,530.5 413.8,529.7 414.3,529.0 414.8,528.2 415.3,527.3 415.8,526.5 416.3,525.7 416.8,524.8 417.3,523.9 417.8,523.0 418.3,522.1 418.8,521.1 419.3,520.2 419.8,519.2 420.3,518.2 420.8,517.2 421.3,516.2 421.8,515.1 422.3,514.1 422.8,513.0 423.3,511.9 423.8,510.8 424.3,509.7 424.8,508.5 425.3,507.4 425.8,506.2 426.3,505.0 426.8,503.9 427.3,502.7 427.8,501.4 428.3,500.2 428.8,499.0 429.3,497.7 429.8,496.5 430.3,495.2 430.8,494.0 431.3,492.7 431.8,491.4 432.3,490.1 432.8,488.9 433.3,487.6 433.8,486.3 434.3,485.0 434.8,483.7 435.3,482.4 435.8,481.1 436.3,479.8 436.8,478.6 437.3,477.3 437.8,476.0 438.3,474.8 438.8,473.5 439.3,472.3 439.8,471.1 440.3,469.8 440.8,468.7 441.3,467.5 441.8,466.3 442.3,465.2 442.8,464.0 443.3,462.9 443.8,461.8 444.3,460.8 444.8,459.7 445.3,458.7 445.8,457.7 446.3,456.8 446.8,455.9 447.3,455.0 447.8,454.1 448.3,453.3 448.8,452.5 449.3,451.7 449.8,451.0 450.3,450.3 450.8,449.7 451.3,449.1 451.8,448.5 452.3,448.0 452.8,447.5 453.3,447.1 453.8,446.7 454.3,446.4 454.8,446.1 455.3,445.8 455.8,445.6 456.3,445.4 456.8,445.3 457.3,445.3 457.8,445.3 458.3,445.3 458.8,445.4 459.3,445.5 459.8,445.7 460.3,445.9 460.8,446.2 461.3,446.5 461.8,446.8 462.3,447.2 462.8,447.7 463.3,448.1 463.8,448.6 464.3,449.2 464.8,449.8 465.3,450.4 465.8,451.0 466.3,451.7 466.8,452.5 467.3,453.2 467.8,454.1 468.3,454.9 468.8,455.8 469.3,456.7 469.8,457.6 470.3,458.6 470.8,459.6 471.3,460.6 471.8,461.7 472.3,462.8 472.8,463.9 473.3,465.0 473.8,466.2 474.3,467.4 474.8,468.6 475.3,469.8 475.8,471.1 476.3,472.4 476.8,473.6 477.3,475.0 477.8,476.3 478.3,477.6 478.8,479.0 479.3,480.4 479.8,481.7 480.3,483.1 480.8,484.5 481.3,486.0 481.8,487.4 482.3,488.8 482.8,490.3 483.3,491.7 483.8,493.1 484.3,494.6 484.8,496.1 485.3,497.5 485.8,499.0 486.3,500.4 486.8,501.9 487.3,503.4 487.8,504.8 488.3,506.3 488.8,507.7 489.3,509.2 489.8,510.6 490.3,512.0 490.8,513.5 491.3,514.9 491.8,516.3 492.3,517.7 492.8,519.1 493.3,520.5 493.8,521.9 494.3,523.2 494.8,524.6 495.3,525.9 495.8,527.2 496.3,528.6 496.8,529.9 497.3,531.1 497.8,532.4 498.3,533.7 498.8,534.9 499.3,536.1 499.8,537.4 500.3,538.6 500.8,539.7 501.3,540.9 501.8,542.0 502.3,543.2 502.8,544.3 503.3,545.4 503.8,546.5 504.3,547.5 504.8,548.6 505.3,549.6 505.8,550.6 506.3,551.6 506.8,552.6 507.3,553.5 507.8,554.4 508.3,555.4 508.8,556.3 509.3,557.1 509.8,558.0 510.3,558.8 510.8,559.7 511.3,560.5 511.8,561.3 512.3,562.0 512.8,562.8 513.3,563.5 513.8,564.3 514.3,565.0 514.8,565.6 515.3,566.3 515.8,567.0 516.3,567.6 516.8,568.2 517.3,568.8 517.8,569.4 518.3,570.0 518.8,570.6 519.3,571.1 519.8,571.6 520.3,572.2 520.8,572.7 521.3,573.1 521.8,573.6 522.3,574.1 522.8,574.5 523.3,575.0 523.8,575.4 524.3,575.8 524.8,576.2 525.3,576.6 525.8,576.9 526.3,577.3 526.8,577.6 527.3,578.0 527.8,578.3 528.3,578.6 528.8,578.9 529.3,579.2 529.8,579.5 530.3,579.8 530.8,580.1 531.3,580.3 531.8,580.6 532.3,580.8 532.8,581.0 533.3,581.3 533.8,581.5 534.3,581.7 534.8,581.9 535.3,582.1 535.8,582.3 536.3,582.5 536.8,582.6 537.3,582.8 537.8,583.0 538.3,583.1 538.8,583.3 539.3,583.4 539.8,583.6 540.3,583.7 540.8,583.8 541.3,584.0 541.8,584.1 542.3,584.2 542.8,584.3 543.3,584.4 543.8,584.5 544.3,584.6 544.8,584.7 545.3,584.8 545.8,584.9 546.3,585.0 546.8,585.1 547.3,585.1 547.8,585.2 548.3,585.3 548.8,585.3 549.3,585.4 549.8,585.5 550.3,585.5 550.8,585.6 551.3,585.7 551.8,585.7 552.3,585.8 552.8,585.8 553.3,585.9 553.8,585.9 554.3,586.0 554.8,586.0 555.3,586.0 555.8,586.1 556.3,586.1 556.8,586.2 557.3,586.2 557.8,586.2 558.3,586.3 558.8,586.3 559.3,586.3 559.8,586.4 560.3,586.4 560.8,586.4 561.3,586.5 561.8,586.5 562.3,586.5 562.8,586.5 563.3,586.6 563.8,586.6 564.3,586.6 564.8,586.6 565.3,586.6 565.8,586.7 566.3,586.7 566.8,586.7 567.3,586.7 567.8,586.7 568.3,586.8 568.8,586.8 569.3,586.8 569.8,586.8 570.3,586.8 570.8,586.8 571.3,586.9 571.8,586.9 572.3,586.9 572.8,586.9 573.3,586.9 573.8,586.9 574.3,586.9 574.8,587.0 575.3,587.0 575.8,587.0 576.3,587.0 576.8,587.0 577.3,587.0 577.8,587.0 578.3,587.0 578.8,587.1 579.3,587.1 579.8,587.1 580.3,587.1 580.8,587.1 581.3,587.1 581.8,587.1 582.3,587.1 582.8,587.1 583.3,587.1 583.8,587.2 584.3,587.2 584.8,587.2 585.3,587.2 585.8,587.2 586.3,587.2 586.8,587.2 587.3,587.2 587.8,587.2 588.3,587.2 588.8,587.2 589.3,587.2 589.8,587.3 590.3,587.3 590.8,587.3 591.3,587.3 591.8,587.3 592.3,587.3 592.8,587.3 593.3,587.3 593.8,587.3 594.3,587.3 594.8,587.3 595.3,587.3 595.8,587.3 596.3,587.3 596.8,587.4 597.3,587.4 597.8,587.4 598.3,587.4 598.8,587.4 599.3,587.4 599.8,587.4 600.3,587.4 600.8,587.4 601.3,587.4 601.8,587.4 602.3,587.4 602.8,587.4 603.3,587.4 603.8,587.4 604.3,587.4 604.8,587.5 605.3,587.5 605.8,587.5 606.3,587.5 606.8,587.5 607.3,587.5 607.8,587.5 608.3,587.5 608.8,587.5 609.3,587.5 609.8,587.5 610.3,587.5 610.8,587.5 611.3,587.5 611.8,587.5 612.3,587.5 612.8,587.5 613.3,587.5 613.8,587.5 614.3,587.5 614.8,587.6 615.3,587.6 615.8,587.6 616.3,587.6 616.8,587.6 617.3,587.6 617.8,587.6 618.3,587.6 618.8,587.6 619.3,587.6 619.8,587.6 620.3,587.6 620.8,587.6 621.3,587.6 621.8,587.6 622.3,587.6 622.8,587.6 623.3,587.6 623.8,587.6 624.3,587.6 624.8,587.6 625.3,587.6 625.8,587.6 626.3,587.7 626.8,587.7 627.3,587.7 627.8,587.7 628.3,587.7 628.8,587.7 629.3,587.7 629.8,587.7 630.3,587.7 630.8,587.7 631.3,587.7 631.8,587.7 632.3,587.7 632.8,587.7 633.3,587.7 633.8,587.7 634.3,587.7 634.8,587.7 635.3,587.7 635.8,587.7 636.3,587.7 636.8,587.7 637.3,587.7 637.8,587.7 638.3,587.7 638.8,587.7 639.3,587.7 639.8,587.7 640.3,587.7 640.8,587.7 641.3,587.8 641.8,587.8 642.3,587.8 642.8,587.8 643.3,587.8 643.8,587.8" fill="none" stroke="#f0581c" stroke-width="3.80" stroke-linejoin="round" stroke-linecap="round" />
<polyline points="144.3,757.0 144.8,758.0 145.3,758.4 145.8,759.1 146.3,759.7 146.8,759.9 147.3,759.6 147.8,758.7 148.3,757.8 148.8,757.4 149.3,757.8 149.8,758.8 150.3,760.2 150.8,761.6 151.3,762.9 151.8,763.9 152.3,765.0 152.8,766.6 153.3,767.9 153.8,768.0 154.3,767.1 154.8,765.2 155.3,763.3 155.8,761.6 156.3,760.7 156.8,760.1 157.3,759.4 157.8,759.2 158.3,759.2 158.8,759.1 159.3,759.4 159.8,759.8 160.3,760.4 160.8,760.3 161.3,759.8 161.8,759.2 162.3,759.2 162.8,759.4 163.3,760.3 163.8,761.6 164.3,762.6 164.8,763.1 165.3,763.2 165.8,763.2 166.3,762.9 166.8,761.8 167.3,760.8 167.8,760.1 168.3,760.0 168.8,760.6 169.3,760.9 169.8,760.7 170.3,760.2 170.8,759.8 171.3,760.1 171.8,760.7 172.3,761.1 172.8,762.1 173.3,763.2 173.8,765.1 174.3,766.6 174.8,767.2 175.3,766.2 175.8,763.9 176.3,761.0 176.8,758.7 177.3,757.3 177.8,756.9 178.3,757.1 178.8,757.9 179.3,758.8 179.8,760.1 180.3,761.4 180.8,762.5 181.3,763.4 181.8,763.6 182.3,763.7 182.8,763.0 183.3,762.8 183.8,762.8 184.3,763.3 184.8,764.5 185.3,765.4 185.8,765.4 186.3,764.2 186.8,762.3 187.3,760.7 187.8,760.2 188.3,760.9 188.8,761.7 189.3,762.4 189.8,763.0 190.3,763.0 190.8,762.7 191.3,761.8 191.8,760.4 192.3,758.5 192.8,756.2 193.3,754.5 193.8,752.9 194.3,752.6 194.8,753.4 195.3,754.8 195.8,756.0 196.3,756.6 196.8,756.3 197.3,755.7 197.8,754.9 198.3,754.6 198.8,755.0 199.3,756.1 199.8,757.6 200.3,758.8 200.8,760.2 201.3,761.6 201.8,762.1 202.3,762.9 202.8,762.9 203.3,762.5 203.8,761.3 204.3,759.2 204.8,757.5 205.3,756.3 205.8,755.9 206.3,757.0 206.8,758.7 207.3,760.4 207.8,760.9 208.3,760.4 208.8,759.1 209.3,757.5 209.8,756.6 210.3,756.8 210.8,757.5 211.3,759.0 211.8,761.1 212.3,763.1 212.8,764.7 213.3,764.9 213.8,763.2 214.3,760.4 214.8,757.2 215.3,755.2 215.8,754.3 216.3,754.5 216.8,755.2 217.3,756.1 217.8,757.0 218.3,758.1 218.8,759.0 219.3,760.1 219.8,760.8 220.3,761.2 220.8,760.7 221.3,760.2 221.8,759.6 222.3,759.2 222.8,759.7 223.3,760.2 223.8,760.7 224.3,761.0 224.8,761.0 225.3,760.8 225.8,760.3 226.3,759.6 226.8,758.7 227.3,758.1 227.8,758.1 228.3,758.3 228.8,758.5 229.3,758.3 229.8,757.8 230.3,757.1 230.8,755.7 231.3,754.3 231.8,752.8 232.3,752.0 232.8,751.8 233.3,753.2 233.8,755.7 234.3,758.4 234.8,761.2 235.3,763.4 235.8,764.4 236.3,764.4 236.8,763.6 237.3,762.5 237.8,761.4 238.3,760.6 238.8,760.1 239.3,759.0 239.8,757.9 240.3,757.3 240.8,757.1 241.3,757.3 241.8,757.9 242.3,758.9 242.8,759.7 243.3,759.9 243.8,759.7 244.3,759.2 244.8,758.9 245.3,758.8 245.8,759.2 246.3,759.5 246.8,759.3 247.3,759.2 247.8,759.3 248.3,759.9 248.8,760.0 249.3,758.9 249.8,757.1 250.3,755.2 250.8,754.2 251.3,754.2 251.8,754.7 252.3,755.1 252.8,754.5 253.3,752.8 253.8,750.9 254.3,749.9 254.8,749.5 255.3,750.0 255.8,750.9 256.3,752.2 256.8,752.9 257.3,752.9 257.8,752.9 258.3,752.4 258.8,752.3 259.3,752.1 259.8,752.4 260.3,752.2 260.8,752.2 261.3,752.1 261.8,752.5 262.3,753.3 262.8,754.0 263.3,754.3 263.8,754.4 264.3,753.4 264.8,751.9 265.3,750.2 265.8,748.6 266.3,747.2 266.8,746.4 267.3,746.0 267.8,745.9 268.3,746.3 268.8,747.4 269.3,749.1 269.8,750.6 270.3,751.3 270.8,750.6 271.3,748.6 271.8,746.6 272.3,744.7 272.8,744.1 273.3,744.0 273.8,745.2 274.3,746.7 274.8,748.0 275.3,749.6 275.8,749.8 276.3,749.2 276.8,747.7 277.3,746.0 277.8,745.2 278.3,744.6 278.8,744.8 279.3,745.6 279.8,746.0 280.3,746.6 280.8,746.4 281.3,746.3 281.8,746.3 282.3,745.7 282.8,744.8 283.3,743.8 283.8,743.4 284.3,743.6 284.8,743.9 285.3,744.1 285.8,743.6 286.3,742.3 286.8,741.6 287.3,741.7 287.8,742.7 288.3,744.3 288.8,745.8 289.3,745.8 289.8,744.9 290.3,743.6 290.8,742.3 291.3,741.3 291.8,741.0 292.3,741.0 292.8,741.0 293.3,741.0 293.8,741.2 294.3,741.0 294.8,741.3 295.3,742.2 295.8,743.3 296.3,744.1 296.8,744.9 297.3,744.9 297.8,744.6 298.3,744.3 298.8,744.6 299.3,745.4 299.8,746.4 300.3,747.3 300.8,747.8 301.3,747.6 301.8,747.2 302.3,746.1 302.8,745.4 303.3,744.5 303.8,743.8 304.3,743.9 304.8,744.2 305.3,745.2 305.8,746.3 306.3,746.5 306.8,746.0 307.3,744.4 307.8,742.7 308.3,741.4 308.8,740.5 309.3,740.4 309.8,741.0 310.3,741.6 310.8,742.3 311.3,743.4 311.8,744.2 312.3,744.8 312.8,745.5 313.3,746.1 313.8,746.8 314.3,747.2 314.8,747.6 315.3,747.7 315.8,747.5 316.3,747.4 316.8,746.9 317.3,746.5 317.8,746.3 318.3,746.1 318.8,746.3 319.3,746.3 319.8,746.2 320.3,746.0 320.8,746.2 321.3,746.4 321.8,746.1 322.3,745.4 322.8,744.4 323.3,743.3 323.8,743.4 324.3,744.5 324.8,745.8 325.3,746.9 325.8,748.4 326.3,750.0 326.8,751.5 327.3,752.5 327.8,752.7 328.3,752.5 328.8,752.0 329.3,751.8 329.8,751.8 330.3,752.1 330.8,752.1 331.3,751.6 331.8,750.0 332.3,747.9 332.8,745.6 333.3,743.7 333.8,742.7 334.3,742.8 334.8,743.9 335.3,745.5 335.8,746.9 336.3,748.6 336.8,750.1 337.3,751.7 337.8,752.9 338.3,753.6 338.8,754.1 339.3,753.9 339.8,753.5 340.3,753.3 340.8,753.7 341.3,754.5 341.8,754.9 342.3,754.8 342.8,754.0 343.3,752.6 343.8,750.8 344.3,749.4 344.8,749.1 345.3,749.4 345.8,750.2 346.3,750.7 346.8,750.4 347.3,749.0 347.8,746.5 348.3,743.8 348.8,741.9 349.3,740.3 349.8,740.0 350.3,741.0 350.8,742.6 351.3,744.6 351.8,745.8 352.3,746.0 352.8,746.0 353.3,745.0 353.8,744.3 354.3,743.8 354.8,743.9 355.3,744.9 355.8,746.1 356.3,747.2 356.8,747.7 357.3,747.1 357.8,746.0 358.3,744.5 358.8,742.8 359.3,741.4 359.8,739.6 360.3,738.5 360.8,737.6 361.3,737.2 361.8,737.0 362.3,737.0 362.8,736.5 363.3,736.1 363.8,736.1 364.3,736.8 364.8,737.7 365.3,738.3 365.8,738.7 366.3,738.2 366.8,737.0 367.3,735.5 367.8,735.0 368.3,735.1 368.8,735.3 369.3,735.5 369.8,735.7 370.3,735.1 370.8,734.5 371.3,734.2 371.8,734.2 372.3,734.0 372.8,733.2 373.3,731.7 373.8,729.8 374.3,728.1 374.8,727.0 375.3,726.2 375.8,725.7 376.3,725.1 376.8,724.4 377.3,723.9 377.8,723.2 378.3,722.8 378.8,722.2 379.3,721.9 379.8,721.8 380.3,721.8 380.8,722.6 381.3,724.2 381.8,726.0 382.3,726.9 382.8,726.9 383.3,726.3 383.8,725.4 384.3,725.2 384.8,725.7 385.3,726.3 385.8,726.3 386.3,725.6 386.8,724.3 387.3,722.6 387.8,720.9 388.3,719.3 388.8,717.7 389.3,715.9 389.8,714.2 390.3,712.4 390.8,710.8 391.3,709.8 391.8,709.9 392.3,711.0 392.8,712.2 393.3,712.5 393.8,711.5 394.3,709.4 394.8,707.7 395.3,706.3 395.8,706.1 396.3,706.3 396.8,706.0 397.3,705.2 397.8,703.5 398.3,701.4 398.8,700.4 399.3,701.0 399.8,702.8 400.3,705.2 400.8,707.5 401.3,708.7 401.8,708.6 402.3,707.8 402.8,706.3 403.3,704.4 403.8,702.3 404.3,700.2 404.8,697.8 405.3,695.9 405.8,694.6 406.3,694.4 406.8,694.6 407.3,695.2 407.8,695.9 408.3,695.8 408.8,695.2 409.3,694.7 409.8,694.0 410.3,693.9 410.8,693.5 411.3,693.0 411.8,692.2 412.3,690.9 412.8,690.0 413.3,688.8 413.8,687.9 414.3,686.6 414.8,685.1 415.3,683.9 415.8,683.0 416.3,682.5 416.8,682.9 417.3,683.0 417.8,683.2 418.3,682.8 418.8,681.8 419.3,680.0 419.8,678.0 420.3,676.1 420.8,674.7 421.3,672.9 421.8,671.5 422.3,669.9 422.8,668.3 423.3,666.8 423.8,665.4 424.3,663.5 424.8,661.7 425.3,659.5 425.8,657.9 426.3,656.7 426.8,655.9 427.3,655.5 427.8,655.0 428.3,654.7 428.8,654.6 429.3,654.3 429.8,654.5 430.3,654.2 430.8,653.8 431.3,653.1 431.8,651.3 432.3,649.2 432.8,647.1 433.3,645.5 433.8,645.1 434.3,645.2 434.8,645.2 435.3,644.4 435.8,642.9 436.3,640.3 436.8,638.2 437.3,636.3 437.8,634.7 438.3,633.9 438.8,634.0 439.3,634.7 439.8,635.5 440.3,635.6 440.8,634.9 441.3,632.6 441.8,630.3 442.3,628.2 442.8,626.6 443.3,626.0 443.8,626.0 444.3,626.4 444.8,626.1 445.3,625.5 445.8,624.0 446.3,621.9 446.8,619.9 447.3,618.3 447.8,617.1 448.3,615.9 448.8,614.4 449.3,612.7 449.8,611.0 450.3,609.2 450.8,607.8 451.3,606.7 451.8,605.9 452.3,606.2 452.8,606.5 453.3,607.4 453.8,608.1 454.3,608.7 454.8,609.3 455.3,609.1 455.8,608.4 456.3,607.4 456.8,606.6 457.3,606.9 457.8,607.9 458.3,610.0 458.8,611.9 459.3,613.0 459.8,613.7 460.3,613.7 460.8,613.7 461.3,613.7 461.8,614.0 462.3,613.8 462.8,613.3 463.3,612.9 463.8,612.7 464.3,612.7 464.8,612.9 465.3,613.7 465.8,614.7 466.3,616.0 466.8,617.8 467.3,619.2 467.8,620.4 468.3,621.6 468.8,622.8 469.3,623.8 469.8,624.5 470.3,624.5 470.8,624.6 471.3,624.7 471.8,625.6 472.3,627.3 472.8,628.8 473.3,630.0 473.8,630.6 474.3,631.5 474.8,632.8 475.3,634.2 475.8,635.5 476.3,636.8 476.8,637.6 477.3,638.6 477.8,639.0 478.3,639.5 478.8,640.2 479.3,640.7 479.8,641.5 480.3,642.4 480.8,643.4 481.3,644.4 481.8,645.4 482.3,646.3 482.8,647.5 483.3,649.3 483.8,651.1 484.3,652.9 484.8,654.3 485.3,655.5 485.8,656.8 486.3,658.2 486.8,660.2 487.3,663.0 487.8,666.3 488.3,669.4 488.8,671.9 489.3,673.4 489.8,674.3 490.3,675.4 490.8,676.8 491.3,678.8 491.8,680.8 492.3,682.3 492.8,683.2 493.3,683.5 493.8,683.5 494.3,683.4 494.8,683.7 495.3,684.7 495.8,686.7 496.3,688.6 496.8,690.4 497.3,691.9 497.8,693.7 498.3,696.1 498.8,698.7 499.3,701.1 499.8,703.0 500.3,704.2 500.8,705.8 501.3,706.7 501.8,708.0 502.3,709.3 502.8,710.4 503.3,711.6 503.8,712.8 504.3,713.7 504.8,714.6 505.3,716.2 505.8,718.3 506.3,720.1 506.8,721.5 507.3,722.1 507.8,722.5 508.3,722.7 508.8,723.0 509.3,724.2 509.8,725.2 510.3,726.2 510.8,727.3 511.3,727.8 511.8,728.1 512.3,727.8 512.8,727.8 513.3,728.8 513.8,729.7 514.3,731.1 514.8,732.3 515.3,733.7 515.8,735.3 516.3,737.2 516.8,739.1 517.3,740.3 517.8,741.1 518.3,741.3 518.8,741.3 519.3,741.6 519.8,741.7 520.3,741.7 520.8,741.8 521.3,742.3 521.8,743.2 522.3,744.4 522.8,746.1 523.3,747.7 523.8,749.3 524.3,750.8 524.8,752.3 525.3,752.9 525.8,753.3 526.3,753.2 526.8,752.4 527.3,751.0 527.8,750.1 528.3,749.6 528.8,749.8 529.3,751.2 529.8,753.2 530.3,755.0 530.8,756.4 531.3,756.6 531.8,756.6 532.3,756.4 532.8,756.4 533.3,756.9 533.8,757.4 534.3,758.2 534.8,758.3 535.3,757.8 535.8,756.7 536.3,755.7 536.8,755.4 537.3,756.1 537.8,758.1 538.3,760.6 538.8,763.0 539.3,764.6 539.8,764.8 540.3,763.9 540.8,761.8 541.3,759.5 541.8,757.8 542.3,756.8 542.8,756.8 543.3,757.0 543.8,757.6 544.3,758.1 544.8,758.4 545.3,758.7 545.8,759.0 546.3,759.5 546.8,760.3 547.3,760.6 547.8,760.4 548.3,759.5 548.8,758.4 549.3,758.1 549.8,758.3 550.3,759.0 550.8,760.0 551.3,760.5 551.8,760.9 552.3,760.9 552.8,760.4 553.3,759.5 553.8,759.3 554.3,760.0 554.8,761.5 555.3,763.0 555.8,764.0 556.3,763.2 556.8,762.1 557.3,761.0 557.8,760.5 558.3,760.4 558.8,760.9 559.3,761.7 559.8,762.5 560.3,763.6 560.8,765.2 561.3,766.2 561.8,766.5 562.3,765.9 562.8,764.6 563.3,762.6 563.8,760.8 564.3,759.6 564.8,758.7 565.3,757.8 565.8,756.6 566.3,755.5 566.8,754.9 567.3,754.8 567.8,755.8 568.3,757.3 568.8,758.6 569.3,759.6 569.8,760.4 570.3,760.7 570.8,760.5 571.3,760.9 571.8,761.2 572.3,761.6 572.8,762.0 573.3,762.8 573.8,763.5 574.3,764.0 574.8,764.4 575.3,764.8 575.8,764.7 576.3,765.0 576.8,765.1 577.3,765.1 577.8,764.4 578.3,763.6 578.8,762.8 579.3,762.2 579.8,763.0 580.3,764.3 580.8,765.4 581.3,767.2 581.8,768.6 582.3,769.2 582.8,769.0 583.3,767.1 583.8,764.0 584.3,760.9 584.8,759.0 585.3,758.3 585.8,758.3 586.3,758.6 586.8,758.1 587.3,757.8 587.8,757.7 588.3,758.0 588.8,758.9 589.3,760.1 589.8,761.2 590.3,761.9 590.8,762.4 591.3,763.3 591.8,764.2 592.3,765.1 592.8,765.8 593.3,765.8 593.8,765.5 594.3,764.8 594.8,764.1 595.3,762.5 595.8,760.6 596.3,759.3 596.8,758.8 597.3,759.7 597.8,761.8 598.3,764.0 598.8,765.8 599.3,767.1 599.8,767.3 600.3,765.7 600.8,763.3 601.3,761.2 601.8,760.6 602.3,761.6 602.8,764.1 603.3,766.5 603.8,767.4 604.3,766.6 604.8,764.8 605.3,763.1 605.8,761.6 606.3,761.4 606.8,762.5 607.3,764.6 607.8,766.5 608.3,767.7 608.8,768.3 609.3,768.2 609.8,767.8 610.3,767.9 610.8,767.7 611.3,766.8 611.8,765.3 612.3,763.9 612.8,762.8 613.3,762.5 613.8,763.2 614.3,764.0 614.8,763.9" fill="none" stroke="#000" stroke-width="5.00" stroke-linejoin="round" stroke-linecap="round" />
<polyline points="359.8,759.6 360.3,759.6 360.8,759.6 361.3,759.5 361.8,759.5 362.3,759.4 362.8,759.4 363.3,759.4 363.8,759.3 364.3,759.3 364.8,759.2 365.3,759.2 365.8,759.1 366.3,759.1 366.8,759.0 367.3,759.0 367.8,758.9 368.3,758.8 368.8,758.8 369.3,758.7 369.8,758.6 370.3,758.6 370.8,758.5 371.3,758.4 371.8,758.3 372.3,758.2 372.8,758.1 373.3,758.0 373.8,757.9 374.3,757.8 374.8,757.7 375.3,757.6 375.8,757.5 376.3,757.4 376.8,757.2 377.3,757.1 377.8,756.9 378.3,756.8 378.8,756.6 379.3,756.5 379.8,756.3 380.3,756.2 380.8,756.0 381.3,755.8 381.8,755.6 382.3,755.4 382.8,755.2 383.3,755.0 383.8,754.7 384.3,754.5 384.8,754.3 385.3,754.0 385.8,753.8 386.3,753.5 386.8,753.2 387.3,752.9 387.8,752.6 388.3,752.3 388.8,752.0 389.3,751.7 389.8,751.4 390.3,751.0 390.8,750.6 391.3,750.3 391.8,749.9 392.3,749.5 392.8,749.1 393.3,748.7 393.8,748.2 394.3,747.8 394.8,747.3 395.3,746.8 395.8,746.4 396.3,745.8 396.8,745.3 397.3,744.8 397.8,744.2 398.3,743.7 398.8,743.1 399.3,742.5 399.8,741.9 400.3,741.3 400.8,740.6 401.3,740.0 401.8,739.3 402.3,738.6 402.8,737.9 403.3,737.2 403.8,736.4 404.3,735.7 404.8,734.9 405.3,734.1 405.8,733.3 406.3,732.4 406.8,731.6 407.3,730.7 407.8,729.8 408.3,728.9 408.8,728.0 409.3,727.1 409.8,726.1 410.3,725.1 410.8,724.1 411.3,723.1 411.8,722.1 412.3,721.0 412.8,720.0 413.3,718.9 413.8,717.8 414.3,716.7 414.8,715.5 415.3,714.4 415.8,713.2 416.3,712.0 416.8,710.8 417.3,709.6 417.8,708.3 418.3,707.1 418.8,705.8 419.3,704.5 419.8,703.2 420.3,701.9 420.8,700.6 421.3,699.3 421.8,697.9 422.3,696.6 422.8,695.2 423.3,693.8 423.8,692.4 424.3,691.0 424.8,689.6 425.3,688.2 425.8,686.7 426.3,685.3 426.8,683.8 427.3,682.4 427.8,680.9 428.3,679.5 428.8,678.0 429.3,676.5 429.8,675.1 430.3,673.6 430.8,672.1 431.3,670.7 431.8,669.2 432.3,667.7 432.8,666.2 433.3,664.8 433.8,663.3 434.3,661.9 434.8,660.4 435.3,659.0 435.8,657.6 436.3,656.1 436.8,654.7 437.3,653.3 437.8,651.9 438.3,650.6 438.8,649.2 439.3,647.9 439.8,646.5 440.3,645.2 440.8,643.9 441.3,642.6 441.8,641.4 442.3,640.2 442.8,638.9 443.3,637.8 443.8,636.6 444.3,635.4 444.8,634.3 445.3,633.2 445.8,632.2 446.3,631.2 446.8,630.2 447.3,629.2 447.8,628.2 448.3,627.3 448.8,626.5 449.3,625.6 449.8,624.8 450.3,624.0 450.8,623.3 451.3,622.6 451.8,621.9 452.3,621.3 452.8,620.7 453.3,620.2 453.8,619.7 454.3,619.2 454.8,618.8 455.3,618.4 455.8,618.0 456.3,617.7 456.8,617.5 457.3,617.2 457.8,617.1 458.3,616.9 458.8,616.8 459.3,616.8 459.8,616.8 460.3,616.8 460.8,616.9 461.3,617.0 461.8,617.1 462.3,617.3 462.8,617.6 463.3,617.8 463.8,618.2 464.3,618.5 464.8,618.9 465.3,619.3 465.8,619.8 466.3,620.3 466.8,620.8 467.3,621.4 467.8,622.0 468.3,622.7 468.8,623.3 469.3,624.1 469.8,624.8 470.3,625.6 470.8,626.4 471.3,627.3 471.8,628.1 472.3,629.1 472.8,630.0 473.3,631.0 473.8,632.0 474.3,633.0 474.8,634.0 475.3,635.1 475.8,636.2 476.3,637.4 476.8,638.5 477.3,639.7 477.8,640.9 478.3,642.1 478.8,643.3 479.3,644.6 479.8,645.9 480.3,647.1 480.8,648.4 481.3,649.8 481.8,651.1 482.3,652.5 482.8,653.8 483.3,655.2 483.8,656.6 484.3,658.0 484.8,659.4 485.3,660.8 485.8,662.2 486.3,663.6 486.8,665.1 487.3,666.5 487.8,667.9 488.3,669.4 488.8,670.8 489.3,672.3 489.8,673.7 490.3,675.2 490.8,676.6 491.3,678.1 491.8,679.5 492.3,681.0 492.8,682.4 493.3,683.8 493.8,685.3 494.3,686.7 494.8,688.1 495.3,689.5 495.8,690.9 496.3,692.3 496.8,693.7 497.3,695.1 497.8,696.4 498.3,697.8 498.8,699.1 499.3,700.5 499.8,701.8 500.3,703.1 500.8,704.4 501.3,705.7 501.8,706.9 502.3,708.2 502.8,709.5 503.3,710.7 503.8,711.9 504.3,713.1 504.8,714.3 505.3,715.4 505.8,716.6 506.3,717.7 506.8,718.9 507.3,720.0 507.8,721.1 508.3,722.1 508.8,723.2 509.3,724.2 509.8,725.2 510.3,726.2 510.8,727.2 511.3,728.2 511.8,729.1 512.3,730.1 512.8,731.0 513.3,731.9 513.8,732.8 514.3,733.6 514.8,734.5 515.3,735.3 515.8,736.1 516.3,736.9 516.8,737.7 517.3,738.5 517.8,739.2 518.3,740.0 518.8,740.7 519.3,741.4 519.8,742.1 520.3,742.7 520.8,743.4 521.3,744.0 521.8,744.6 522.3,745.2 522.8,745.8 523.3,746.4 523.8,747.0 524.3,747.5 524.8,748.0 525.3,748.6 525.8,749.1 526.3,749.6 526.8,750.0 527.3,750.5 527.8,750.9 528.3,751.4 528.8,751.8 529.3,752.2 529.8,752.6 530.3,753.0 530.8,753.4 531.3,753.8 531.8,754.1 532.3,754.5 532.8,754.8 533.3,755.1 533.8,755.4 534.3,755.7 534.8,756.0 535.3,756.3 535.8,756.6 536.3,756.8 536.8,757.1 537.3,757.3 537.8,757.6 538.3,757.8 538.8,758.0 539.3,758.3 539.8,758.5 540.3,758.7 540.8,758.9 541.3,759.1 541.8,759.2 542.3,759.4 542.8,759.6 543.3,759.7 543.8,759.9 544.3,760.1 544.8,760.2 545.3,760.3 545.8,760.5 546.3,760.6 546.8,760.7 547.3,760.8 547.8,761.0 548.3,761.1 548.8,761.2 549.3,761.3 549.8,761.4 550.3,761.5 550.8,761.6 551.3,761.7 551.8,761.7 552.3,761.8 552.8,761.9 553.3,762.0 553.8,762.0 554.3,762.1 554.8,762.2 555.3,762.2 555.8,762.3 556.3,762.4 556.8,762.4 557.3,762.5 557.8,762.5 558.3,762.6 558.8,762.6 559.3,762.7 559.8,762.7 560.3,762.7 560.8,762.8 561.3,762.8 561.8,762.9 562.3,762.9 562.8,762.9 563.3,763.0" fill="none" stroke="#ff1010" stroke-width="3.30" stroke-linejoin="round" stroke-linecap="round" />
<polyline points="318.8,759.5 319.3,759.5 319.8,759.4 320.3,759.4 320.8,759.3 321.3,759.2 321.8,759.2 322.3,759.1 322.8,759.1 323.3,759.0 323.8,758.9 324.3,758.8 324.8,758.8 325.3,758.7 325.8,758.6 326.3,758.5 326.8,758.4 327.3,758.4 327.8,758.3 328.3,758.2 328.8,758.1 329.3,758.0 329.8,757.9 330.3,757.8 330.8,757.7 331.3,757.6 331.8,757.5 332.3,757.3 332.8,757.2 333.3,757.1 333.8,757.0 334.3,756.8 334.8,756.7 335.3,756.6 335.8,756.4 336.3,756.3 336.8,756.1 337.3,756.0 337.8,755.8 338.3,755.7 338.8,755.5 339.3,755.4 339.8,755.2 340.3,755.0 340.8,754.8 341.3,754.7 341.8,754.5 342.3,754.3 342.8,754.1 343.3,753.9 343.8,753.7 344.3,753.5 344.8,753.3 345.3,753.1 345.8,752.8 346.3,752.6 346.8,752.4 347.3,752.2 347.8,751.9 348.3,751.7 348.8,751.5 349.3,751.2 349.8,751.0 350.3,750.7 350.8,750.4 351.3,750.2 351.8,749.9 352.3,749.7 352.8,749.4 353.3,749.1 353.8,748.8 354.3,748.5 354.8,748.3 355.3,748.0 355.8,747.7 356.3,747.4 356.8,747.1 357.3,746.8 357.8,746.5 358.3,746.2 358.8,745.8 359.3,745.5 359.8,745.2 360.3,744.9 360.8,744.6 361.3,744.3 361.8,743.9 362.3,743.6 362.8,743.3 363.3,742.9 363.8,742.6 364.3,742.3 364.8,741.9 365.3,741.6 365.8,741.3 366.3,740.9 366.8,740.6 367.3,740.2 367.8,739.9 368.3,739.6 368.8,739.2 369.3,738.9 369.8,738.6 370.3,738.2 370.8,737.9 371.3,737.5 371.8,737.2 372.3,736.9 372.8,736.5 373.3,736.2 373.8,735.9 374.3,735.6 374.8,735.2 375.3,734.9 375.8,734.6 376.3,734.3 376.8,734.0 377.3,733.7 377.8,733.4 378.3,733.1 378.8,732.8 379.3,732.5 379.8,732.2 380.3,731.9 380.8,731.6 381.3,731.3 381.8,731.1 382.3,730.8 382.8,730.5 383.3,730.3 383.8,730.0 384.3,729.8 384.8,729.6 385.3,729.3 385.8,729.1 386.3,728.9 386.8,728.7 387.3,728.5 387.8,728.3 388.3,728.1 388.8,728.0 389.3,727.8 389.8,727.6 390.3,727.5 390.8,727.3 391.3,727.2 391.8,727.1 392.3,726.9 392.8,726.8 393.3,726.7 393.8,726.6 394.3,726.5 394.8,726.5 395.3,726.4 395.8,726.3 396.3,726.3 396.8,726.2 397.3,726.2 397.8,726.2 398.3,726.2 398.8,726.2 399.3,726.2 399.8,726.2 400.3,726.2 400.8,726.2 401.3,726.3 401.8,726.3 402.3,726.4 402.8,726.5 403.3,726.5 403.8,726.6 404.3,726.7 404.8,726.8 405.3,726.9 405.8,727.1 406.3,727.2 406.8,727.3 407.3,727.5 407.8,727.6 408.3,727.8 408.8,728.0 409.3,728.1 409.8,728.3 410.3,728.5 410.8,728.7 411.3,728.9 411.8,729.2 412.3,729.4 412.8,729.6 413.3,729.8 413.8,730.1 414.3,730.3 414.8,730.6 415.3,730.9 415.8,731.1 416.3,731.4 416.8,731.7 417.3,732.0 417.8,732.3 418.3,732.6 418.8,732.9 419.3,733.2 419.8,733.5 420.3,733.8 420.8,734.1 421.3,734.4 421.8,734.7 422.3,735.1 422.8,735.4 423.3,735.7 423.8,736.1 424.3,736.4 424.8,736.8 425.3,737.1 425.8,737.5 426.3,737.8 426.8,738.2 427.3,738.5 427.8,738.9 428.3,739.2 428.8,739.6 429.3,739.9 429.8,740.3 430.3,740.6 430.8,741.0 431.3,741.3 431.8,741.7 432.3,742.1 432.8,742.4 433.3,742.8 433.8,743.1 434.3,743.5 434.8,743.8 435.3,744.2 435.8,744.5 436.3,744.9 436.8,745.2 437.3,745.5 437.8,745.9 438.3,746.2 438.8,746.6 439.3,746.9 439.8,747.2 440.3,747.6 440.8,747.9 441.3,748.2 441.8,748.5 442.3,748.8 442.8,749.2 443.3,749.5 443.8,749.8 444.3,750.1 444.8,750.4 445.3,750.7 445.8,751.0 446.3,751.3 446.8,751.5 447.3,751.8 447.8,752.1 448.3,752.4 448.8,752.6 449.3,752.9 449.8,753.2 450.3,753.4 450.8,753.7 451.3,753.9 451.8,754.2 452.3,754.4 452.8,754.7 453.3,754.9 453.8,755.1 454.3,755.4 454.8,755.6 455.3,755.8 455.8,756.0 456.3,756.2 456.8,756.4 457.3,756.6 457.8,756.8 458.3,757.0 458.8,757.2 459.3,757.4 459.8,757.6 460.3,757.8 460.8,758.0 461.3,758.1 461.8,758.3 462.3,758.5 462.8,758.6 463.3,758.8 463.8,758.9 464.3,759.1 464.8,759.2 465.3,759.4 465.8,759.5 466.3,759.7 466.8,759.8 467.3,759.9 467.8,760.0 468.3,760.2 468.8,760.3 469.3,760.4 469.8,760.5 470.3,760.6 470.8,760.7 471.3,760.8 471.8,761.0 472.3,761.1 472.8,761.2 473.3,761.2 473.8,761.3 474.3,761.4 474.8,761.5 475.3,761.6 475.8,761.7 476.3,761.8 476.8,761.8 477.3,761.9 477.8,762.0 478.3,762.1 478.8,762.1 479.3,762.2" fill="none" stroke="#138a13" stroke-width="3.30" stroke-linejoin="round" stroke-linecap="round" />
<polyline points="226.8,759.3 227.3,759.2 227.8,759.2 228.3,759.1 228.8,759.1 229.3,759.0 229.8,759.0 230.3,758.9 230.8,758.9 231.3,758.8 231.8,758.8 232.3,758.7 232.8,758.6 233.3,758.6 233.8,758.5 234.3,758.4 234.8,758.4 235.3,758.3 235.8,758.2 236.3,758.2 236.8,758.1 237.3,758.0 237.8,757.9 238.3,757.8 238.8,757.8 239.3,757.7 239.8,757.6 240.3,757.5 240.8,757.4 241.3,757.3 241.8,757.2 242.3,757.2 242.8,757.1 243.3,757.0 243.8,756.9 244.3,756.8 244.8,756.7 245.3,756.6 245.8,756.4 246.3,756.3 246.8,756.2 247.3,756.1 247.8,756.0 248.3,755.9 248.8,755.8 249.3,755.7 249.8,755.5 250.3,755.4 250.8,755.3 251.3,755.2 251.8,755.1 252.3,754.9 252.8,754.8 253.3,754.7 253.8,754.6 254.3,754.4 254.8,754.3 255.3,754.2 255.8,754.0 256.3,753.9 256.8,753.8 257.3,753.6 257.8,753.5 258.3,753.4 258.8,753.2 259.3,753.1 259.8,752.9 260.3,752.8 260.8,752.7 261.3,752.5 261.8,752.4 262.3,752.2 262.8,752.1 263.3,752.0 263.8,751.8 264.3,751.7 264.8,751.5 265.3,751.4 265.8,751.3 266.3,751.1 266.8,751.0 267.3,750.8 267.8,750.7 268.3,750.6 268.8,750.4 269.3,750.3 269.8,750.2 270.3,750.0 270.8,749.9 271.3,749.8 271.8,749.6 272.3,749.5 272.8,749.4 273.3,749.3 273.8,749.2 274.3,749.0 274.8,748.9 275.3,748.8 275.8,748.7 276.3,748.6 276.8,748.5 277.3,748.4 277.8,748.3 278.3,748.2 278.8,748.1 279.3,748.0 279.8,747.9 280.3,747.8 280.8,747.7 281.3,747.6 281.8,747.5 282.3,747.5 282.8,747.4 283.3,747.3 283.8,747.2 284.3,747.2 284.8,747.1 285.3,747.1 285.8,747.0 286.3,747.0 286.8,746.9 287.3,746.9 287.8,746.8 288.3,746.8 288.8,746.8 289.3,746.7 289.8,746.7 290.3,746.7 290.8,746.7 291.3,746.7 291.8,746.6 292.3,746.6 292.8,746.6 293.3,746.6 293.8,746.6 294.3,746.7 294.8,746.7 295.3,746.7 295.8,746.7 296.3,746.7 296.8,746.8 297.3,746.8 297.8,746.8 298.3,746.9 298.8,746.9 299.3,747.0 299.8,747.0 300.3,747.1 300.8,747.1 301.3,747.2 301.8,747.3 302.3,747.3 302.8,747.4 303.3,747.5 303.8,747.6 304.3,747.6 304.8,747.7 305.3,747.8 305.8,747.9 306.3,748.0 306.8,748.1 307.3,748.2 307.8,748.3 308.3,748.4 308.8,748.5 309.3,748.6 309.8,748.7 310.3,748.9 310.8,749.0 311.3,749.1 311.8,749.2 312.3,749.3 312.8,749.5 313.3,749.6 313.8,749.7 314.3,749.8 314.8,750.0 315.3,750.1 315.8,750.2 316.3,750.4 316.8,750.5 317.3,750.6 317.8,750.8 318.3,750.9 318.8,751.1 319.3,751.2 319.8,751.3 320.3,751.5 320.8,751.6 321.3,751.8 321.8,751.9 322.3,752.1 322.8,752.2 323.3,752.3 323.8,752.5 324.3,752.6 324.8,752.8 325.3,752.9 325.8,753.1 326.3,753.2 326.8,753.3 327.3,753.5 327.8,753.6 328.3,753.8 328.8,753.9 329.3,754.0 329.8,754.2 330.3,754.3 330.8,754.4 331.3,754.6 331.8,754.7 332.3,754.8 332.8,755.0 333.3,755.1 333.8,755.2 334.3,755.3 334.8,755.5 335.3,755.6 335.8,755.7 336.3,755.8 336.8,756.0 337.3,756.1 337.8,756.2 338.3,756.3 338.8,756.4 339.3,756.5 339.8,756.6 340.3,756.7 340.8,756.9 341.3,757.0 341.8,757.1 342.3,757.2 342.8,757.3 343.3,757.4 343.8,757.5 344.3,757.6 344.8,757.6 345.3,757.7 345.8,757.8 346.3,757.9 346.8,758.0 347.3,758.1 347.8,758.2 348.3,758.2 348.8,758.3 349.3,758.4 349.8,758.5 350.3,758.6 350.8,758.6 351.3,758.7 351.8,758.8 352.3,758.8 352.8,758.9 353.3,759.0 353.8,759.0 354.3,759.1 354.8,759.1 355.3,759.2 355.8,759.3 356.3,759.3 356.8,759.4 357.3,759.4 357.8,759.5 358.3,759.5 358.8,759.6 359.3,759.6" fill="none" stroke="#2030c0" stroke-width="3.30" stroke-linejoin="round" stroke-linecap="round" />
<polyline points="146.3,760.5 146.8,760.5 147.3,760.5 147.8,760.5 148.3,760.5 148.8,760.5 149.3,760.5 149.8,760.5 150.3,760.5 150.8,760.5 151.3,760.5 151.8,760.5 152.3,760.5 152.8,760.5 153.3,760.5 153.8,760.5 154.3,760.5 154.8,760.5 155.3,760.5 155.8,760.5 156.3,760.5 156.8,760.5 157.3,760.5 157.8,760.5 158.3,760.5 158.8,760.5 159.3,760.5 159.8,760.5 160.3,760.5 160.8,760.5 161.3,760.5 161.8,760.5 162.3,760.5 162.8,760.5 163.3,760.5 163.8,760.5 164.3,760.5 164.8,760.5 165.3,760.5 165.8,760.5 166.3,760.5 166.8,760.5 167.3,760.5 167.8,760.5 168.3,760.5 168.8,760.5 169.3,760.5 169.8,760.5 170.3,760.5 170.8,760.5 171.3,760.5 171.8,760.5 172.3,760.5 172.8,760.5 173.3,760.5 173.8,760.5 174.3,760.5 174.8,760.5 175.3,760.5 175.8,760.5 176.3,760.5 176.8,760.5 177.3,760.5 177.8,760.5 178.3,760.5 178.8,760.5 179.3,760.5 179.8,760.5 180.3,760.5 180.8,760.5 181.3,760.5 181.8,760.5 182.3,760.5 182.8,760.5 183.3,760.5 183.8,760.5 184.3,760.5 184.8,760.5 185.3,760.5 185.8,760.5 186.3,760.5 186.8,760.5 187.3,760.5 187.8,760.5 188.3,760.5 188.8,760.5 189.3,760.5 189.8,760.5 190.3,760.5 190.8,760.5 191.3,760.5 191.8,760.5 192.3,760.5 192.8,760.5 193.3,760.5 193.8,760.5 194.3,760.5 194.8,760.5 195.3,760.5 195.8,760.5 196.3,760.5 196.8,760.5 197.3,760.5 197.8,760.5 198.3,760.5 198.8,760.5 199.3,760.5 199.8,760.5 200.3,760.5 200.8,760.5 201.3,760.5 201.8,760.5 202.3,760.5 202.8,760.5 203.3,760.5 203.8,760.5 204.3,760.5 204.8,760.5 205.3,760.5 205.8,760.5 206.3,760.5 206.8,760.5 207.3,760.5 207.8,760.5 208.3,760.5 208.8,760.5 209.3,760.5 209.8,760.5 210.3,760.5 210.8,760.5 211.3,760.5 211.8,760.5 212.3,760.5 212.8,760.5 213.3,760.5 213.8,760.5 214.3,760.5 214.8,760.5 215.3,760.5 215.8,760.5 216.3,760.5 216.8,760.5 217.3,760.5 217.8,760.5 218.3,760.5 218.8,760.5 219.3,760.5 219.8,760.5 220.3,760.5 220.8,760.5 221.3,760.5 221.8,760.5 222.3,760.5 222.8,760.5 223.3,760.5 223.8,760.5 224.3,760.5 224.8,760.5 225.3,760.5 225.8,760.5 226.3,760.5 226.8,760.5 227.3,760.5 227.8,760.5 228.3,760.5 228.8,760.5 229.3,760.5 229.8,760.5 230.3,760.5 230.8,760.5 231.3,760.5 231.8,760.5 232.3,760.5 232.8,760.5 233.3,760.5 233.8,760.5 234.3,760.5 234.8,760.5 235.3,760.5 235.8,760.5 236.3,760.5 236.8,760.5 237.3,760.5 237.8,760.5 238.3,760.5 238.8,760.5 239.3,760.5 239.8,760.5 240.3,760.5 240.8,760.5 241.3,760.5 241.8,760.5 242.3,760.5 242.8,760.5 243.3,760.5 243.8,760.5 244.3,760.5 244.8,760.5 245.3,760.5 245.8,760.5 246.3,760.5 246.8,760.5 247.3,760.5 247.8,760.5 248.3,760.5 248.8,760.5 249.3,760.5 249.8,760.5 250.3,760.5 250.8,760.5 251.3,760.5 251.8,760.5 252.3,760.5 252.8,760.5 253.3,760.5 253.8,760.5 254.3,760.5 254.8,760.5 255.3,760.5 255.8,760.5 256.3,760.5 256.8,760.5 257.3,760.5 257.8,760.5 258.3,760.5 258.8,760.5 259.3,760.5 259.8,760.5 260.3,760.5 260.8,760.5 261.3,760.5 261.8,760.5 262.3,760.5 262.8,760.5 263.3,760.5 263.8,760.5 264.3,760.5 264.8,760.6 265.3,760.6 265.8,760.6 266.3,760.6 266.8,760.6 267.3,760.6 267.8,760.6 268.3,760.6 268.8,760.6 269.3,760.6 269.8,760.6 270.3,760.6 270.8,760.6 271.3,760.6 271.8,760.6 272.3,760.6 272.8,760.6 273.3,760.6 273.8,760.6 274.3,760.6 274.8,760.6 275.3,760.6 275.8,760.6 276.3,760.6 276.8,760.6 277.3,760.6 277.8,760.6 278.3,760.6 278.8,760.6 279.3,760.6 279.8,760.6 280.3,760.6 280.8,760.6 281.3,760.6 281.8,760.6 282.3,760.6 282.8,760.6 283.3,760.6 283.8,760.6 284.3,760.6 284.8,760.6 285.3,760.6 285.8,760.6 286.3,760.6 286.8,760.6 287.3,760.6 287.8,760.6 288.3,760.6 288.8,760.6 289.3,760.6 289.8,760.6 290.3,760.6 290.8,760.6 291.3,760.6 291.8,760.6 292.3,760.6 292.8,760.6 293.3,760.6 293.8,760.6 294.3,760.6 294.8,760.6 295.3,760.6 295.8,760.6 296.3,760.6 296.8,760.7 297.3,760.7 297.8,760.7 298.3,760.7 298.8,760.7 299.3,760.7 299.8,760.7 300.3,760.7 300.8,760.7 301.3,760.7 301.8,760.7 302.3,760.7 302.8,760.7 303.3,760.7 303.8,760.7 304.3,760.7 304.8,760.7 305.3,760.7 305.8,760.7 306.3,760.7 306.8,760.7 307.3,760.7 307.8,760.7 308.3,760.7 308.8,760.7 309.3,760.7 309.8,760.7 310.3,760.7 310.8,760.7 311.3,760.7 311.8,760.7 312.3,760.7 312.8,760.7 313.3,760.7 313.8,760.7 314.3,760.7 314.8,760.7 315.3,760.7 315.8,760.7 316.3,760.7 316.8,760.7 317.3,760.7 317.8,760.7 318.3,760.7 318.8,760.7 319.3,760.7 319.8,760.7 320.3,760.7 320.8,760.7 321.3,760.7 321.8,760.7 322.3,760.7 322.8,760.7 323.3,760.7 323.8,760.7 324.3,760.7 324.8,760.7 325.3,760.7 325.8,760.7 326.3,760.7 326.8,760.7 327.3,760.7 327.8,760.7 328.3,760.7 328.8,760.7 329.3,760.8 329.8,760.8 330.3,760.8 330.8,760.8 331.3,760.8 331.8,760.8 332.3,760.8 332.8,760.8 333.3,760.8 333.8,760.8 334.3,760.8 334.8,760.8 335.3,760.8 335.8,760.8 336.3,760.8 336.8,760.8 337.3,760.8 337.8,760.8 338.3,760.8 338.8,760.8 339.3,760.8 339.8,760.8 340.3,760.8 340.8,760.8 341.3,760.8 341.8,760.8 342.3,760.8 342.8,760.8 343.3,760.8 343.8,760.8 344.3,760.8 344.8,760.8 345.3,760.8 345.8,760.8 346.3,760.8 346.8,760.8 347.3,760.8 347.8,760.8 348.3,760.8 348.8,760.8 349.3,760.8 349.8,760.8 350.3,760.8 350.8,760.8 351.3,760.8 351.8,760.8 352.3,760.8 352.8,760.8 353.3,760.8 353.8,760.8 354.3,760.8 354.8,760.8 355.3,760.8 355.8,760.8 356.3,760.8 356.8,760.8 357.3,760.8 357.8,760.8 358.3,760.8 358.8,760.8 359.3,760.8 359.8,760.8 360.3,760.8 360.8,760.8 361.3,760.8 361.8,760.9 362.3,760.9 362.8,760.9 363.3,760.9 363.8,760.9 364.3,760.9 364.8,760.9 365.3,760.9 365.8,760.9 366.3,760.9 366.8,760.9 367.3,760.9 367.8,760.9 368.3,760.9 368.8,760.9 369.3,760.9 369.8,760.9 370.3,760.9 370.8,760.9 371.3,760.9 371.8,760.9 372.3,760.9 372.8,760.9 373.3,760.9 373.8,760.9 374.3,760.9 374.8,760.9 375.3,760.9 375.8,760.9 376.3,760.9 376.8,760.9 377.3,760.9 377.8,761.0 378.3,761.0 378.8,761.0 379.3,761.0 379.8,761.0 380.3,761.0 380.8,761.0 381.3,761.0 381.8,761.0 382.3,761.0 382.8,761.0 383.3,761.0 383.8,761.0 384.3,761.0 384.8,761.0 385.3,761.0 385.8,761.0 386.3,761.0 386.8,761.0 387.3,761.0 387.8,761.0 388.3,761.0 388.8,761.1 389.3,761.1 389.8,761.1 390.3,761.1 390.8,761.1 391.3,761.1 391.8,761.1 392.3,761.1 392.8,761.1 393.3,761.1 393.8,761.1 394.3,761.1 394.8,761.1 395.3,761.1 395.8,761.1 396.3,761.1 396.8,761.1 397.3,761.1 397.8,761.2 398.3,761.2 398.8,761.2 399.3,761.2 399.8,761.2 400.3,761.2 400.8,761.2 401.3,761.2 401.8,761.2 402.3,761.2 402.8,761.2 403.3,761.2 403.8,761.2 404.3,761.2 404.8,761.3 405.3,761.3 405.8,761.3 406.3,761.3 406.8,761.3 407.3,761.3 407.8,761.3 408.3,761.3 408.8,761.3 409.3,761.3 409.8,761.3 410.3,761.3 410.8,761.3 411.3,761.4 411.8,761.4 412.3,761.4 412.8,761.4 413.3,761.4 413.8,761.4 414.3,761.4 414.8,761.4 415.3,761.4 415.8,761.4 416.3,761.4 416.8,761.5 417.3,761.5 417.8,761.5 418.3,761.5 418.8,761.5 419.3,761.5 419.8,761.5 420.3,761.5 420.8,761.5 421.3,761.6 421.8,761.6 422.3,761.6 422.8,761.6 423.3,761.6 423.8,761.6 424.3,761.6 424.8,761.6 425.3,761.6 425.8,761.7 426.3,761.7 426.8,761.7 427.3,761.7 427.8,761.7 428.3,761.7 428.8,761.7 429.3,761.7 429.8,761.8 430.3,761.8 430.8,761.8 431.3,761.8 431.8,761.8 432.3,761.8 432.8,761.8 433.3,761.9 433.8,761.9 434.3,761.9 434.8,761.9 435.3,761.9 435.8,761.9 436.3,761.9 436.8,762.0 437.3,762.0 437.8,762.0 438.3,762.0 438.8,762.0 439.3,762.0 439.8,762.1 440.3,762.1 440.8,762.1 441.3,762.1 441.8,762.1 442.3,762.1 442.8,762.2 443.3,762.2 443.8,762.2 444.3,762.2 444.8,762.2 445.3,762.2 445.8,762.3 446.3,762.3 446.8,762.3 447.3,762.3 447.8,762.3 448.3,762.3 448.8,762.4 449.3,762.4 449.8,762.4 450.3,762.4 450.8,762.4 451.3,762.5 451.8,762.5 452.3,762.5 452.8,762.5 453.3,762.5 453.8,762.5 454.3,762.6 454.8,762.6 455.3,762.6 455.8,762.6 456.3,762.6 456.8,762.7 457.3,762.7 457.8,762.7 458.3,762.7 458.8,762.7 459.3,762.7 459.8,762.8 460.3,762.8 460.8,762.8 461.3,762.8 461.8,762.8 462.3,762.9 462.8,762.9 463.3,762.9 463.8,762.9 464.3,762.9 464.8,763.0 465.3,763.0 465.8,763.0 466.3,763.0 466.8,763.0 467.3,763.0 467.8,763.1 468.3,763.1 468.8,763.1 469.3,763.1 469.8,763.1 470.3,763.2 470.8,763.2 471.3,763.2 471.8,763.2 472.3,763.2 472.8,763.2 473.3,763.3 473.8,763.3 474.3,763.3 474.8,763.3 475.3,763.3 475.8,763.3 476.3,763.4 476.8,763.4 477.3,763.4 477.8,763.4 478.3,763.4 478.8,763.4 479.3,763.4 479.8,763.5 480.3,763.5 480.8,763.5 481.3,763.5 481.8,763.5 482.3,763.5 482.8,763.5 483.3,763.6 483.8,763.6 484.3,763.6 484.8,763.6 485.3,763.6 485.8,763.6 486.3,763.6 486.8,763.6 487.3,763.7 487.8,763.7 488.3,763.7 488.8,763.7 489.3,763.7 489.8,763.7 490.3,763.7 490.8,763.7 491.3,763.8 491.8,763.8 492.3,763.8 492.8,763.8 493.3,763.8 493.8,763.8 494.3,763.8 494.8,763.8 495.3,763.8 495.8,763.8 496.3,763.9 496.8,763.9 497.3,763.9 497.8,763.9 498.3,763.9 498.8,763.9 499.3,763.9 499.8,763.9 500.3,763.9 500.8,763.9 501.3,763.9 501.8,763.9 502.3,763.9 502.8,764.0 503.3,764.0 503.8,764.0 504.3,764.0 504.8,764.0 505.3,764.0 505.8,764.0 506.3,764.0 506.8,764.0 507.3,764.0 507.8,764.0 508.3,764.0 508.8,764.0 509.3,764.0 509.8,764.0 510.3,764.0 510.8,764.0 511.3,764.0 511.8,764.1 512.3,764.1 512.8,764.1 513.3,764.1 513.8,764.1 514.3,764.1 514.8,764.1 515.3,764.1 515.8,764.1 516.3,764.1 516.8,764.1 517.3,764.1 517.8,764.1 518.3,764.1 518.8,764.1 519.3,764.1 519.8,764.1 520.3,764.1 520.8,764.1 521.3,764.1 521.8,764.1 522.3,764.1 522.8,764.1 523.3,764.1 523.8,764.1 524.3,764.1 524.8,764.1 525.3,764.1 525.8,764.1 526.3,764.1 526.8,764.1 527.3,764.1 527.8,764.1 528.3,764.1 528.8,764.1 529.3,764.1 529.8,764.2 530.3,764.2 530.8,764.2 531.3,764.2 531.8,764.2 532.3,764.2 532.8,764.2 533.3,764.2 533.8,764.2 534.3,764.2 534.8,764.2 535.3,764.2 535.8,764.2 536.3,764.2 536.8,764.2 537.3,764.2 537.8,764.2 538.3,764.2 538.8,764.2 539.3,764.2 539.8,764.2 540.3,764.2 540.8,764.2 541.3,764.2 541.8,764.2 542.3,764.2 542.8,764.2 543.3,764.2 543.8,764.2 544.3,764.2 544.8,764.2 545.3,764.2 545.8,764.2 546.3,764.2 546.8,764.2 547.3,764.2 547.8,764.2 548.3,764.2 548.8,764.2 549.3,764.2 549.8,764.2 550.3,764.2 550.8,764.2 551.3,764.2 551.8,764.2 552.3,764.2 552.8,764.2 553.3,764.2 553.8,764.2 554.3,764.2 554.8,764.2 555.3,764.2 555.8,764.2 556.3,764.2 556.8,764.2 557.3,764.2 557.8,764.2 558.3,764.2 558.8,764.2 559.3,764.2 559.8,764.2 560.3,764.2 560.8,764.2 561.3,764.2 561.8,764.2 562.3,764.2 562.8,764.2 563.3,764.2 563.8,764.2 564.3,764.2 564.8,764.2 565.3,764.2 565.8,764.2 566.3,764.2 566.8,764.2 567.3,764.2 567.8,764.2 568.3,764.2 568.8,764.2 569.3,764.2 569.8,764.2 570.3,764.2 570.8,764.2 571.3,764.2 571.8,764.2 572.3,764.2 572.8,764.2 573.3,764.2 573.8,764.2 574.3,764.2 574.8,764.2 575.3,764.2 575.8,764.2 576.3,764.2 576.8,764.2 577.3,764.2 577.8,764.2 578.3,764.2 578.8,764.2 579.3,764.2 579.8,764.2 580.3,764.2 580.8,764.2 581.3,764.2 581.8,764.2 582.3,764.2 582.8,764.2 583.3,764.2 583.8,764.2 584.3,764.2 584.8,764.2 585.3,764.2 585.8,764.2 586.3,764.2 586.8,764.2 587.3,764.2 587.8,764.2 588.3,764.2 588.8,764.2 589.3,764.2 589.8,764.2 590.3,764.2 590.8,764.2 591.3,764.2 591.8,764.2 592.3,764.2 592.8,764.2 593.3,764.2 593.8,764.2 594.3,764.2 594.8,764.2 595.3,764.2 595.8,764.2 596.3,764.2 596.8,764.2 597.3,764.2 597.8,764.2 598.3,764.2 598.8,764.2 599.3,764.2 599.8,764.2 600.3,764.2 600.8,764.2 601.3,764.2 601.8,764.2 602.3,764.2 602.8,764.2 603.3,764.2 603.8,764.2 604.3,764.2 604.8,764.2 605.3,764.2 605.8,764.2 606.3,764.2 606.8,764.2 607.3,764.2 607.8,764.2 608.3,764.2 608.8,764.2 609.3,764.2 609.8,764.2 610.3,764.2 610.8,764.2 611.3,764.2 611.8,764.2 612.3,764.2 612.8,764.2" fill="none" stroke="#173e80" stroke-width="3.00" stroke-linejoin="round" stroke-linecap="round" />
<polyline points="28.3,762.2 28.8,762.0 29.3,762.4 29.8,763.2 30.3,764.5 30.8,765.1 31.3,764.4 31.8,763.9 32.3,763.4 32.8,762.1 33.3,761.1 33.8,761.1 34.3,761.1 34.8,760.9 35.3,760.8 35.8,760.1 36.3,759.2 36.8,759.7 37.3,760.7 37.8,760.9 38.3,760.2 38.8,759.6 39.3,759.2 39.8,758.5 40.3,758.0 40.8,758.3 41.3,759.6 41.8,761.3 42.3,761.8 42.8,760.8 43.3,760.1 43.8,760.6 44.3,761.1 44.8,761.8 45.3,762.5 45.8,762.3 46.3,761.0 46.8,760.1 47.3,760.5 47.8,762.1 48.3,762.2 48.8,760.9 49.3,760.8 49.8,762.3 50.3,764.0 50.8,764.7 51.3,765.2 51.8,766.0 52.3,766.6 52.8,767.5 53.3,768.4 53.8,768.2 54.3,767.3 54.8,766.5 55.3,766.1 55.8,766.2 56.3,765.8 56.8,764.7 57.3,764.8 57.8,764.3 58.3,762.5 58.8,760.4 59.3,759.6 59.8,759.0 60.3,758.4 60.8,758.3 61.3,758.7 61.8,759.0 62.3,758.8 62.8,758.6 63.3,759.3 63.8,759.4 64.3,758.7 64.8,758.2 65.3,758.7 65.8,759.0 66.3,759.5 66.8,759.5 67.3,759.1 67.8,759.8 68.3,761.5 68.8,762.2 69.3,761.8 69.8,762.0 70.3,762.1 70.8,762.2 71.3,762.3 71.8,762.3 72.3,762.5 72.8,762.6 73.3,762.5 73.8,762.6 74.3,762.6 74.8,762.6 75.3,762.4 75.8,762.1 76.3,761.4 76.8,760.7 77.3,760.1 77.8,759.8 78.3,759.4 78.8,759.9 79.3,760.5 79.8,760.8 80.3,760.8 80.8,760.8 81.3,761.3 81.8,761.0 82.3,760.9 82.8,760.9 83.3,760.4 83.8,759.3 84.3,757.9 84.8,756.9 85.3,757.1 85.8,757.5 86.3,757.9 86.8,757.4 87.3,755.8 87.8,755.6 88.3,757.0 88.8,757.9 89.3,758.2 89.8,758.3 90.3,759.1 90.8,760.4 91.3,761.5 91.8,761.5 92.3,760.7 92.8,761.1 93.3,761.5 93.8,761.3 94.3,760.9 94.8,760.8 95.3,760.4 95.8,760.2 96.3,759.3 96.8,758.3 97.3,758.9 97.8,760.3 98.3,761.7 98.8,762.3 99.3,762.5 99.8,762.0 100.3,761.3 100.8,761.9 101.3,761.6 101.8,761.6 102.3,762.0 102.8,762.4 103.3,761.5 103.8,761.4 104.3,761.6 104.8,761.3 105.3,760.2 105.8,759.8 106.3,760.4 106.8,761.2 107.3,761.7 107.8,761.8 108.3,762.2 108.8,762.7 109.3,762.4 109.8,763.0 110.3,763.7 110.8,763.7 111.3,763.9 111.8,764.4 112.3,765.1 112.8,765.7 113.3,766.0 113.8,765.8 114.3,764.8 114.8,763.4 115.3,762.4 115.8,761.2 116.3,760.5 116.8,760.7 117.3,760.6 117.8,760.0 118.3,759.9 118.8,761.1 119.3,762.4 119.8,761.7 120.3,760.9 120.8,761.4 121.3,762.2 121.8,762.4 122.3,762.5 122.8,762.5 123.3,762.3 123.8,762.0 124.3,761.6 124.8,761.7 125.3,761.6 125.8,761.0 126.3,760.5 126.8,759.8 127.3,759.5 127.8,759.9 128.3,760.2 128.8,759.7 129.3,759.4 129.8,758.7 130.3,758.8 130.8,759.2 131.3,758.6 131.8,757.2 132.3,756.9 132.8,757.4 133.3,757.6 133.8,757.8 134.3,758.4 134.8,759.5 135.3,761.3 135.8,761.8 136.3,761.0 136.8,760.3 137.3,760.6 137.8,761.1 138.3,761.4 138.8,761.3 139.3,760.8 139.8,761.0 140.3,761.2 140.8,761.3 141.3,761.3 141.8,760.5 142.3,760.1 142.8,759.1 143.3,757.6 143.8,756.8 144.3,757.4 144.8,758.4 145.3,758.8 145.8,758.5 146.3,760.4 146.8,760.4" fill="none" stroke="#2a1008" stroke-width="5.00" stroke-linejoin="round" stroke-linecap="round" />
<polyline points="28.3,762.2 28.8,762.0 29.3,762.4 29.8,763.2 30.3,764.5 30.8,765.1 31.3,764.4 31.8,763.9 32.3,763.4 32.8,762.1 33.3,761.1 33.8,761.1 34.3,761.1 34.8,760.9 35.3,760.8 35.8,760.1 36.3,759.2 36.8,759.7 37.3,760.7 37.8,760.9 38.3,760.2 38.8,759.6 39.3,759.2 39.8,758.5 40.3,758.0 40.8,758.3 41.3,759.6 41.8,761.3 42.3,761.8 42.8,760.8 43.3,760.1 43.8,760.6 44.3,761.1 44.8,761.8 45.3,762.5 45.8,762.3 46.3,761.0 46.8,760.1 47.3,760.5 47.8,762.1 48.3,762.2 48.8,760.9 49.3,760.8 49.8,762.3 50.3,764.0 50.8,764.7 51.3,765.2 51.8,766.0 52.3,766.6 52.8,767.5 53.3,768.4 53.8,768.2 54.3,767.3 54.8,766.5 55.3,766.1 55.8,766.2 56.3,765.8 56.8,764.7 57.3,764.8 57.8,764.3 58.3,762.5 58.8,760.4 59.3,759.6 59.8,759.0 60.3,758.4 60.8,758.3 61.3,758.7 61.8,759.0 62.3,758.8 62.8,758.6 63.3,759.3 63.8,759.4 64.3,758.7 64.8,758.2 65.3,758.7 65.8,759.0 66.3,759.5 66.8,759.5 67.3,759.1 67.8,759.8 68.3,761.5 68.8,762.2 69.3,761.8 69.8,762.0 70.3,762.1 70.8,762.2 71.3,762.3 71.8,762.3 72.3,762.5 72.8,762.6 73.3,762.5 73.8,762.6 74.3,762.6 74.8,762.6 75.3,762.4 75.8,762.1 76.3,761.4 76.8,760.7 77.3,760.1 77.8,759.8 78.3,759.4 78.8,759.9 79.3,760.5 79.8,760.8 80.3,760.8 80.8,760.8 81.3,761.3 81.8,761.0 82.3,760.9 82.8,760.9 83.3,760.4 83.8,759.3 84.3,757.9 84.8,756.9 85.3,757.1 85.8,757.5 86.3,757.9 86.8,757.4 87.3,755.8 87.8,755.6 88.3,757.0 88.8,757.9 89.3,758.2 89.8,758.3 90.3,759.1 90.8,760.4 91.3,761.5 91.8,761.5 92.3,760.7 92.8,761.1 93.3,761.5 93.8,761.3 94.3,760.9 94.8,760.8 95.3,760.4 95.8,760.2 96.3,759.3 96.8,758.3 97.3,758.9 97.8,760.3 98.3,761.7 98.8,762.3 99.3,762.5 99.8,762.0 100.3,761.3 100.8,761.9 101.3,761.6 101.8,761.6 102.3,762.0 102.8,762.4 103.3,761.5 103.8,761.4 104.3,761.6 104.8,761.3 105.3,760.2 105.8,759.8 106.3,760.4 106.8,761.2 107.3,761.7 107.8,761.8 108.3,762.2 108.8,762.7 109.3,762.4 109.8,763.0 110.3,763.7 110.8,763.7 111.3,763.9 111.8,764.4 112.3,765.1 112.8,765.7 113.3,766.0 113.8,765.8 114.3,764.8 114.8,763.4 115.3,762.4 115.8,761.2 116.3,760.5 116.8,760.7 117.3,760.6 117.8,760.0 118.3,759.9 118.8,761.1 119.3,762.4 119.8,761.7 120.3,760.9 120.8,761.4 121.3,762.2 121.8,762.4 122.3,762.5 122.8,762.5 123.3,762.3 123.8,762.0 124.3,761.6 124.8,761.7 125.3,761.6 125.8,761.0 126.3,760.5 126.8,759.8 127.3,759.5 127.8,759.9 128.3,760.2 128.8,759.7 129.3,759.4 129.8,758.7 130.3,758.8 130.8,759.2 131.3,758.6 131.8,757.2 132.3,756.9 132.8,757.4 133.3,757.6 133.8,757.8 134.3,758.4 134.8,759.5 135.3,761.3 135.8,761.8 136.3,761.0 136.8,760.3 137.3,760.6 137.8,761.1 138.3,761.4 138.8,761.3 139.3,760.8 139.8,761.0 140.3,761.2 140.8,761.3 141.3,761.3 141.8,760.5 142.3,760.1 142.8,759.1 143.3,757.6 143.8,756.8 144.3,757.4 144.8,758.4 145.3,758.8 145.8,758.5 146.3,760.4 146.8,760.4" fill="none" stroke="#b8220e" stroke-width="3.40" stroke-linejoin="round" stroke-linecap="round" />
<polyline points="612.3,763.8 612.8,763.8 613.3,761.2 613.8,760.8 614.3,761.9 614.8,763.5 615.3,765.5 615.8,767.5 616.3,768.4 616.8,768.2 617.3,767.2 617.8,766.1 618.3,765.6 618.8,765.5 619.3,765.4 619.8,764.5 620.3,763.5 620.8,763.0 621.3,762.6 621.8,762.2 622.3,761.5 622.8,761.0 623.3,761.0 623.8,761.4 624.3,761.7 624.8,762.5 625.3,762.7 625.8,761.9 626.3,762.6 626.8,764.6 627.3,766.1 627.8,766.5 628.3,766.8 628.8,767.0 629.3,766.7 629.8,766.4 630.3,765.3 630.8,763.8 631.3,763.9 631.8,765.3 632.3,765.3 632.8,765.3 633.3,766.4 633.8,766.9 634.3,766.4 634.8,766.1 635.3,766.5 635.8,766.5 636.3,766.4 636.8,767.0 637.3,767.9 637.8,768.6 638.3,768.1 638.8,767.0 639.3,766.0 639.8,766.0 640.3,765.8 640.8,765.4 641.3,765.3 641.8,765.8 642.3,766.2 642.8,766.5 643.3,765.7 643.8,764.9 644.3,764.9 644.8,765.8 645.3,766.2 645.8,765.8 646.3,765.4 646.8,764.7 647.3,764.1 647.8,763.9 648.3,764.5 648.8,765.4 649.3,766.0 649.8,765.4 650.3,764.5 650.8,763.8 651.3,763.1 651.8,762.1 652.3,761.8 652.8,762.4 653.3,763.3 653.8,762.4 654.3,761.9 654.8,763.5 655.3,765.0 655.8,765.6 656.3,766.5 656.8,766.2 657.3,765.6 657.8,765.2 658.3,764.8 658.8,764.4 659.3,764.4" fill="none" stroke="#2a1008" stroke-width="5.00" stroke-linejoin="round" stroke-linecap="round" />
<polyline points="612.3,763.8 612.8,763.8 613.3,761.2 613.8,760.8 614.3,761.9 614.8,763.5 615.3,765.5 615.8,767.5 616.3,768.4 616.8,768.2 617.3,767.2 617.8,766.1 618.3,765.6 618.8,765.5 619.3,765.4 619.8,764.5 620.3,763.5 620.8,763.0 621.3,762.6 621.8,762.2 622.3,761.5 622.8,761.0 623.3,761.0 623.8,761.4 624.3,761.7 624.8,762.5 625.3,762.7 625.8,761.9 626.3,762.6 626.8,764.6 627.3,766.1 627.8,766.5 628.3,766.8 628.8,767.0 629.3,766.7 629.8,766.4 630.3,765.3 630.8,763.8 631.3,763.9 631.8,765.3 632.3,765.3 632.8,765.3 633.3,766.4 633.8,766.9 634.3,766.4 634.8,766.1 635.3,766.5 635.8,766.5 636.3,766.4 636.8,767.0 637.3,767.9 637.8,768.6 638.3,768.1 638.8,767.0 639.3,766.0 639.8,766.0 640.3,765.8 640.8,765.4 641.3,765.3 641.8,765.8 642.3,766.2 642.8,766.5 643.3,765.7 643.8,764.9 644.3,764.9 644.8,765.8 645.3,766.2 645.8,765.8 646.3,765.4 646.8,764.7 647.3,764.1 647.8,763.9 648.3,764.5 648.8,765.4 649.3,766.0 649.8,765.4 650.3,764.5 650.8,763.8 651.3,763.1 651.8,762.1 652.3,761.8 652.8,762.4 653.3,763.3 653.8,762.4 654.3,761.9 654.8,763.5 655.3,765.0 655.8,765.6 656.3,766.5 656.8,766.2 657.3,765.6 657.8,765.2 658.3,764.8 658.8,764.4 659.3,764.4" fill="none" stroke="#b8220e" stroke-width="3.40" stroke-linejoin="round" stroke-linecap="round" />
<polyline points="146.3,760.4 146.8,760.4 147.3,760.4 147.8,760.4 148.3,760.4 148.8,760.4 149.3,760.4 149.8,760.4 150.3,760.4 150.8,760.4 151.3,760.4 151.8,760.4 152.3,760.4 152.8,760.4 153.3,760.4 153.8,760.4 154.3,760.4 154.8,760.4 155.3,760.4 155.8,760.4 156.3,760.4 156.8,760.4 157.3,760.4 157.8,760.4 158.3,760.4 158.8,760.4 159.3,760.4 159.8,760.4 160.3,760.4 160.8,760.4 161.3,760.4 161.8,760.4 162.3,760.4 162.8,760.4 163.3,760.4 163.8,760.4 164.3,760.4 164.8,760.4 165.3,760.4 165.8,760.4 166.3,760.4 166.8,760.4 167.3,760.4 167.8,760.4 168.3,760.4 168.8,760.4 169.3,760.4 169.8,760.4 170.3,760.4 170.8,760.4 171.3,760.4 171.8,760.4 172.3,760.4 172.8,760.4 173.3,760.4 173.8,760.4 174.3,760.4 174.8,760.4 175.3,760.4 175.8,760.4 176.3,760.4 176.8,760.4 177.3,760.4 177.8,760.4 178.3,760.4 178.8,760.4 179.3,760.4 179.8,760.4 180.3,760.4 180.8,760.4 181.3,760.4 181.8,760.4 182.3,760.4 182.8,760.4 183.3,760.4 183.8,760.4 184.3,760.4 184.8,760.4 185.3,760.4 185.8,760.4 186.3,760.4 186.8,760.4 187.3,760.4 187.8,760.4 188.3,760.4 188.8,760.4 189.3,760.3 189.8,760.3 190.3,760.3 190.8,760.3 191.3,760.3 191.8,760.3 192.3,760.3 192.8,760.3 193.3,760.3 193.8,760.3 194.3,760.3 194.8,760.3 195.3,760.3 195.8,760.3 196.3,760.3 196.8,760.3 197.3,760.3 197.8,760.3 198.3,760.3 198.8,760.3 199.3,760.3 199.8,760.3 200.3,760.3 200.8,760.2 201.3,760.2 201.8,760.2 202.3,760.2 202.8,760.2 203.3,760.2 203.8,760.2 204.3,760.2 204.8,760.2 205.3,760.2 205.8,760.2 206.3,760.2 206.8,760.1 207.3,760.1 207.8,760.1 208.3,760.1 208.8,760.1 209.3,760.1 209.8,760.1 210.3,760.1 210.8,760.0 211.3,760.0 211.8,760.0 212.3,760.0 212.8,760.0 213.3,760.0 213.8,759.9 214.3,759.9 214.8,759.9 215.3,759.9 215.8,759.8 216.3,759.8 216.8,759.8 217.3,759.8 217.8,759.8 218.3,759.7 218.8,759.7 219.3,759.7 219.8,759.6 220.3,759.6 220.8,759.6 221.3,759.5 221.8,759.5 222.3,759.5 222.8,759.4 223.3,759.4 223.8,759.4 224.3,759.3 224.8,759.3 225.3,759.2 225.8,759.2 226.3,759.2 226.8,759.1 227.3,759.1 227.8,759.0 228.3,759.0 228.8,758.9 229.3,758.9 229.8,758.8 230.3,758.8 230.8,758.7 231.3,758.7 231.8,758.6 232.3,758.5 232.8,758.5 233.3,758.4 233.8,758.3 234.3,758.3 234.8,758.2 235.3,758.1 235.8,758.1 236.3,758.0 236.8,757.9 237.3,757.8 237.8,757.8 238.3,757.7 238.8,757.6 239.3,757.5 239.8,757.4 240.3,757.3 240.8,757.2 241.3,757.2 241.8,757.1 242.3,757.0 242.8,756.9 243.3,756.8 243.8,756.7 244.3,756.6 244.8,756.5 245.3,756.4 245.8,756.3 246.3,756.2 246.8,756.0 247.3,755.9 247.8,755.8 248.3,755.7 248.8,755.6 249.3,755.5 249.8,755.4 250.3,755.2 250.8,755.1 251.3,755.0 251.8,754.9 252.3,754.7 252.8,754.6 253.3,754.5 253.8,754.4 254.3,754.2 254.8,754.1 255.3,754.0 255.8,753.8 256.3,753.7 256.8,753.6 257.3,753.4 257.8,753.3 258.3,753.1 258.8,753.0 259.3,752.9 259.8,752.7 260.3,752.6 260.8,752.4 261.3,752.3 261.8,752.2 262.3,752.0 262.8,751.9 263.3,751.7 263.8,751.6 264.3,751.5 264.8,751.3 265.3,751.2 265.8,751.0 266.3,750.9 266.8,750.7 267.3,750.6 267.8,750.5 268.3,750.3 268.8,750.2 269.3,750.1 269.8,749.9 270.3,749.8 270.8,749.7 271.3,749.5 271.8,749.4 272.3,749.3 272.8,749.1 273.3,749.0 273.8,748.9 274.3,748.8 274.8,748.7 275.3,748.5 275.8,748.4 276.3,748.3 276.8,748.2 277.3,748.1 277.8,748.0 278.3,747.9 278.8,747.8 279.3,747.7 279.8,747.6 280.3,747.5 280.8,747.4 281.3,747.3 281.8,747.2 282.3,747.2 282.8,747.1 283.3,747.0 283.8,746.9 284.3,746.9 284.8,746.8 285.3,746.7 285.8,746.7 286.3,746.6 286.8,746.6 287.3,746.5 287.8,746.5 288.3,746.4 288.8,746.4 289.3,746.4 289.8,746.3 290.3,746.3 290.8,746.3 291.3,746.3 291.8,746.3 292.3,746.2 292.8,746.2 293.3,746.2 293.8,746.2 294.3,746.2 294.8,746.2 295.3,746.2 295.8,746.3 296.3,746.3 296.8,746.3 297.3,746.3 297.8,746.3 298.3,746.4 298.8,746.4 299.3,746.4 299.8,746.5 300.3,746.5 300.8,746.6 301.3,746.6 301.8,746.7 302.3,746.7 302.8,746.8 303.3,746.8 303.8,746.9 304.3,747.0 304.8,747.0 305.3,747.1 305.8,747.2 306.3,747.3 306.8,747.3 307.3,747.4 307.8,747.5 308.3,747.6 308.8,747.6 309.3,747.7 309.8,747.8 310.3,747.9 310.8,748.0 311.3,748.1 311.8,748.2 312.3,748.3 312.8,748.3 313.3,748.4 313.8,748.5 314.3,748.6 314.8,748.7 315.3,748.8 315.8,748.9 316.3,749.0 316.8,749.1 317.3,749.2 317.8,749.3 318.3,749.3 318.8,749.4 319.3,749.5 319.8,749.6 320.3,749.7 320.8,749.8 321.3,749.8 321.8,749.9 322.3,750.0 322.8,750.1 323.3,750.1 323.8,750.2 324.3,750.3 324.8,750.3 325.3,750.4 325.8,750.5 326.3,750.5 326.8,750.6 327.3,750.6 327.8,750.7 328.3,750.7 328.8,750.7 329.3,750.8 329.8,750.8 330.3,750.8 330.8,750.9 331.3,750.9 331.8,750.9 332.3,750.9 332.8,750.9 333.3,750.9 333.8,750.9 334.3,750.9 334.8,750.9 335.3,750.9 335.8,750.8 336.3,750.8 336.8,750.8 337.3,750.7 337.8,750.7 338.3,750.6 338.8,750.6 339.3,750.5 339.8,750.4 340.3,750.4 340.8,750.3 341.3,750.2 341.8,750.1 342.3,750.0 342.8,749.9 343.3,749.8 343.8,749.7 344.3,749.6 344.8,749.4 345.3,749.3 345.8,749.2 346.3,749.0 346.8,748.9 347.3,748.7 347.8,748.6 348.3,748.4 348.8,748.2 349.3,748.0 349.8,747.8 350.3,747.6 350.8,747.4 351.3,747.2 351.8,747.0 352.3,746.8 352.8,746.6 353.3,746.3 353.8,746.1 354.3,745.9 354.8,745.6 355.3,745.4 355.8,745.1 356.3,744.8 356.8,744.6 357.3,744.3 357.8,744.0 358.3,743.7 358.8,743.4 359.3,743.1 359.8,742.8 360.3,742.5 360.8,742.2 361.3,741.9 361.8,741.6 362.3,741.2 362.8,740.9 363.3,740.6 363.8,740.2 364.3,739.9 364.8,739.5 365.3,739.2 365.8,738.8 366.3,738.4 366.8,738.1 367.3,737.7 367.8,737.3 368.3,736.9 368.8,736.5 369.3,736.2 369.8,735.8 370.3,735.4 370.8,735.0 371.3,734.6 371.8,734.2 372.3,733.8 372.8,733.4 373.3,732.9 373.8,732.5 374.3,732.1 374.8,731.7 375.3,731.3 375.8,730.8 376.3,730.4 376.8,730.0 377.3,729.5 377.8,729.1 378.3,728.7 378.8,728.2 379.3,727.8 379.8,727.3 380.3,726.9 380.8,726.4 381.3,726.0 381.8,725.5 382.3,725.0 382.8,724.6 383.3,724.1 383.8,723.7 384.3,723.2 384.8,722.7 385.3,722.2 385.8,721.8 386.3,721.3 386.8,720.8 387.3,720.3 387.8,719.8 388.3,719.3 388.8,718.8 389.3,718.3 389.8,717.8 390.3,717.3 390.8,716.8 391.3,716.3 391.8,715.8 392.3,715.3 392.8,714.8 393.3,714.2 393.8,713.7 394.3,713.2 394.8,712.6 395.3,712.1 395.8,711.5 396.3,711.0 396.8,710.4 397.3,709.8 397.8,709.3 398.3,708.7 398.8,708.1 399.3,707.5 399.8,706.9 400.3,706.3 400.8,705.7 401.3,705.0 401.8,704.4 402.3,703.8 402.8,703.1 403.3,702.5 403.8,701.8 404.3,701.1 404.8,700.4 405.3,699.7 405.8,699.0 406.3,698.3 406.8,697.6 407.3,696.9 407.8,696.2 408.3,695.4 408.8,694.6 409.3,693.9 409.8,693.1 410.3,692.3 410.8,691.5 411.3,690.7 411.8,689.9 412.3,689.0 412.8,688.2 413.3,687.3 413.8,686.5 414.3,685.6 414.8,684.7 415.3,683.8 415.8,682.9 416.3,682.0 416.8,681.0 417.3,680.1 417.8,679.1 418.3,678.2 418.8,677.2 419.3,676.2 419.8,675.2 420.3,674.2 420.8,673.2 421.3,672.1 421.8,671.1 422.3,670.1 422.8,669.0 423.3,667.9 423.8,666.9 424.3,665.8 424.8,664.7 425.3,663.6 425.8,662.5 426.3,661.4 426.8,660.3 427.3,659.2 427.8,658.1 428.3,657.0 428.8,655.8 429.3,654.7 429.8,653.6 430.3,652.5 430.8,651.3 431.3,650.2 431.8,649.1 432.3,647.9 432.8,646.8 433.3,645.7 433.8,644.6 434.3,643.5 434.8,642.3 435.3,641.2 435.8,640.1 436.3,639.1 436.8,638.0 437.3,636.9 437.8,635.8 438.3,634.8 438.8,633.7 439.3,632.7 439.8,631.7 440.3,630.7 440.8,629.7 441.3,628.7 441.8,627.8 442.3,626.9 442.8,625.9 443.3,625.0 443.8,624.2 444.3,623.3 444.8,622.5 445.3,621.7 445.8,620.9 446.3,620.1 446.8,619.4 447.3,618.7 447.8,618.0 448.3,617.4 448.8,616.7 449.3,616.1 449.8,615.6 450.3,615.1 450.8,614.6 451.3,614.1 451.8,613.6 452.3,613.2 452.8,612.9 453.3,612.5 453.8,612.3 454.3,612.0 454.8,611.8 455.3,611.6 455.8,611.4 456.3,611.3 456.8,611.2 457.3,611.2 457.8,611.2 458.3,611.2 458.8,611.3 459.3,611.4 459.8,611.6 460.3,611.8 460.8,612.0 461.3,612.3 461.8,612.6 462.3,612.9 462.8,613.3 463.3,613.7 463.8,614.2 464.3,614.7 464.8,615.2 465.3,615.7 465.8,616.3 466.3,616.9 466.8,617.6 467.3,618.3 467.8,619.0 468.3,619.8 468.8,620.5 469.3,621.4 469.8,622.2 470.3,623.1 470.8,624.0 471.3,624.9 471.8,625.9 472.3,626.9 472.8,627.9 473.3,629.0 473.8,630.0 474.3,631.1 474.8,632.3 475.3,633.4 475.8,634.6 476.3,635.8 476.8,637.0 477.3,638.2 477.8,639.5 478.3,640.7 478.8,642.0 479.3,643.3 479.8,644.7 480.3,646.0 480.8,647.4 481.3,648.7 481.8,650.1 482.3,651.5 482.8,652.9 483.3,654.3 483.8,655.7 484.3,657.2 484.8,658.6 485.3,660.0 485.8,661.5 486.3,663.0 486.8,664.4 487.3,665.9 487.8,667.4 488.3,668.8 488.8,670.3 489.3,671.8 489.8,673.2 490.3,674.7 490.8,676.2 491.3,677.6 491.8,679.1 492.3,680.6 492.8,682.0 493.3,683.5 493.8,684.9 494.3,686.4 494.8,687.8 495.3,689.2 495.8,690.6 496.3,692.0 496.8,693.4 497.3,694.8 497.8,696.2 498.3,697.6 498.8,698.9 499.3,700.3 499.8,701.6 500.3,702.9 500.8,704.2 501.3,705.5 501.8,706.8 502.3,708.1 502.8,709.3 503.3,710.6 503.8,711.8 504.3,713.0 504.8,714.2 505.3,715.3 505.8,716.5 506.3,717.6 506.8,718.8 507.3,719.9 507.8,721.0 508.3,722.1 508.8,723.1 509.3,724.2 509.8,725.2 510.3,726.2 510.8,727.2 511.3,728.1 511.8,729.1 512.3,730.0 512.8,731.0 513.3,731.9 513.8,732.7 514.3,733.6 514.8,734.5 515.3,735.3 515.8,736.1 516.3,736.9 516.8,737.7 517.3,738.5 517.8,739.2 518.3,739.9 518.8,740.7 519.3,741.4 519.8,742.0 520.3,742.7 520.8,743.4 521.3,744.0 521.8,744.6 522.3,745.2 522.8,745.8 523.3,746.4 523.8,747.0 524.3,747.5 524.8,748.0 525.3,748.5 525.8,749.1 526.3,749.5 526.8,750.0 527.3,750.5 527.8,750.9 528.3,751.4 528.8,751.8 529.3,752.2 529.8,752.6 530.3,753.0 530.8,753.4 531.3,753.7 531.8,754.1 532.3,754.4 532.8,754.8 533.3,755.1 533.8,755.4 534.3,755.7 534.8,756.0 535.3,756.3 535.8,756.6 536.3,756.8 536.8,757.1 537.3,757.3 537.8,757.6 538.3,757.8 538.8,758.0 539.3,758.3 539.8,758.5 540.3,758.7 540.8,758.9 541.3,759.1 541.8,759.2 542.3,759.4 542.8,759.6 543.3,759.7 543.8,759.9 544.3,760.1 544.8,760.2 545.3,760.3 545.8,760.5 546.3,760.6 546.8,760.7 547.3,760.8 547.8,761.0 548.3,761.1 548.8,761.2 549.3,761.3 549.8,761.4 550.3,761.5 550.8,761.6 551.3,761.7 551.8,761.7 552.3,761.8 552.8,761.9 553.3,762.0 553.8,762.0 554.3,762.1 554.8,762.2 555.3,762.2 555.8,762.3 556.3,762.4 556.8,762.4 557.3,762.5 557.8,762.5 558.3,762.6 558.8,762.6 559.3,762.7 559.8,762.7 560.3,762.7 560.8,762.8 561.3,762.8 561.8,762.9 562.3,762.9 562.8,762.9 563.3,763.0 563.8,763.0 564.3,763.0 564.8,763.1 565.3,763.1 565.8,763.1 566.3,763.1 566.8,763.2 567.3,763.2 567.8,763.2 568.3,763.2 568.8,763.2 569.3,763.3 569.8,763.3 570.3,763.3 570.8,763.3 571.3,763.3 571.8,763.3 572.3,763.4 572.8,763.4 573.3,763.4 573.8,763.4 574.3,763.4 574.8,763.4 575.3,763.4 575.8,763.5 576.3,763.5 576.8,763.5 577.3,763.5 577.8,763.5 578.3,763.5 578.8,763.5 579.3,763.5 579.8,763.5 580.3,763.5 580.8,763.5 581.3,763.6 581.8,763.6 582.3,763.6 582.8,763.6 583.3,763.6 583.8,763.6 584.3,763.6 584.8,763.6 585.3,763.6 585.8,763.6 586.3,763.6 586.8,763.6 587.3,763.6 587.8,763.6 588.3,763.6 588.8,763.7 589.3,763.7 589.8,763.7 590.3,763.7 590.8,763.7 591.3,763.7 591.8,763.7 592.3,763.7 592.8,763.7 593.3,763.7 593.8,763.7 594.3,763.7 594.8,763.7 595.3,763.7 595.8,763.7 596.3,763.7 596.8,763.7 597.3,763.7 597.8,763.7 598.3,763.7 598.8,763.7 599.3,763.7 599.8,763.7 600.3,763.7 600.8,763.7 601.3,763.8 601.8,763.8 602.3,763.8 602.8,763.8 603.3,763.8 603.8,763.8 604.3,763.8 604.8,763.8 605.3,763.8 605.8,763.8 606.3,763.8 606.8,763.8 607.3,763.8 607.8,763.8 608.3,763.8 608.8,763.8 609.3,763.8 609.8,763.8 610.3,763.8 610.8,763.8 611.3,763.8 611.8,763.8 612.3,763.8 612.8,763.8" fill="none" stroke="#b8220e" stroke-width="3.80" stroke-linejoin="round" stroke-linecap="round" />
</g>
<line x1="281.9" x2="281.9" y1="531.1" y2="546.3" stroke="#000" stroke-width="3.7"/>
<line x1="281.9" x2="281.9" y1="556.1" y2="571.3" stroke="#000" stroke-width="3.7"/>
<line x1="281.9" x2="281.9" y1="581.1" y2="596.3" stroke="#000" stroke-width="3.7"/>
<line x1="281.9" x2="281.9" y1="606.1" y2="621.3" stroke="#000" stroke-width="3.7"/>
<line x1="281.9" x2="281.9" y1="631.1" y2="646.3" stroke="#000" stroke-width="3.7"/>
<line x1="281.9" x2="281.9" y1="656.1" y2="671.3" stroke="#000" stroke-width="3.7"/>
<line x1="281.9" x2="281.9" y1="681.1" y2="696.3" stroke="#000" stroke-width="3.7"/>
<line x1="281.9" x2="281.9" y1="706.1" y2="721.3" stroke="#000" stroke-width="3.7"/>
<line x1="281.9" x2="281.9" y1="731.1" y2="746.0" stroke="#000" stroke-width="3.7"/>
<line x1="389.9" x2="389.9" y1="517.2" y2="532.4" stroke="#000" stroke-width="3.7"/>
<line x1="389.9" x2="389.9" y1="542.2" y2="557.4" stroke="#000" stroke-width="3.7"/>
<line x1="389.9" x2="389.9" y1="567.2" y2="582.4" stroke="#000" stroke-width="3.7"/>
<line x1="389.9" x2="389.9" y1="592.2" y2="607.4" stroke="#000" stroke-width="3.7"/>
<line x1="389.9" x2="389.9" y1="617.2" y2="632.4" stroke="#000" stroke-width="3.7"/>
<line x1="389.9" x2="389.9" y1="642.2" y2="657.4" stroke="#000" stroke-width="3.7"/>
<line x1="389.9" x2="389.9" y1="667.2" y2="682.4" stroke="#000" stroke-width="3.7"/>
<line x1="389.9" x2="389.9" y1="692.2" y2="707.4" stroke="#000" stroke-width="3.7"/>
<line x1="458.6" x2="458.6" y1="412.2" y2="427.4" stroke="#000" stroke-width="3.7"/>
<line x1="458.6" x2="458.6" y1="437.2" y2="452.4" stroke="#000" stroke-width="3.7"/>
<line x1="458.6" x2="458.6" y1="462.2" y2="477.4" stroke="#000" stroke-width="3.7"/>
<line x1="458.6" x2="458.6" y1="487.2" y2="502.4" stroke="#000" stroke-width="3.7"/>
<line x1="458.6" x2="458.6" y1="512.2" y2="527.4" stroke="#000" stroke-width="3.7"/>
<line x1="458.6" x2="458.6" y1="537.2" y2="552.4" stroke="#000" stroke-width="3.7"/>
<line x1="458.6" x2="458.6" y1="562.2" y2="577.4" stroke="#000" stroke-width="3.7"/>
<line x1="458.6" x2="458.6" y1="578" y2="607" stroke="#000" stroke-width="3.7"/>
<rect x="28.3" y="361.0" width="631.1" height="469.7" fill="none" stroke="#1c1c1c" stroke-width="1.5"/>
<line x1="70.5" x2="70.5" y1="830.7" y2="835.3" stroke="#1c1c1c" stroke-width="1.3"/>
<line x1="154.6" x2="154.6" y1="830.7" y2="835.3" stroke="#1c1c1c" stroke-width="1.3"/>
<line x1="238.8" x2="238.8" y1="830.7" y2="835.3" stroke="#1c1c1c" stroke-width="1.3"/>
<line x1="322.9" x2="322.9" y1="830.7" y2="835.3" stroke="#1c1c1c" stroke-width="1.3"/>
<line x1="407.0" x2="407.0" y1="830.7" y2="835.3" stroke="#1c1c1c" stroke-width="1.3"/>
<line x1="491.1" x2="491.1" y1="830.7" y2="835.3" stroke="#1c1c1c" stroke-width="1.3"/>
<line x1="575.3" x2="575.3" y1="830.7" y2="835.3" stroke="#1c1c1c" stroke-width="1.3"/>
<line x1="659.4" x2="659.4" y1="830.7" y2="835.3" stroke="#1c1c1c" stroke-width="1.3"/>
<text transform="translate(57.16 855.23) scale(0.9263 1)" font-size="17.04" fill="#000" stroke="#000" stroke-width="0.45" xml:space="preserve"><tspan font-weight="normal" font-style="normal">294</tspan></text>
<text transform="translate(141.28 855.23) scale(0.9381 1)" font-size="17.04" fill="#000" stroke="#000" stroke-width="0.45" xml:space="preserve"><tspan font-weight="normal" font-style="normal">292</tspan></text>
<text transform="translate(225.42 855.23) scale(0.9322 1)" font-size="17.04" fill="#000" stroke="#000" stroke-width="0.45" xml:space="preserve"><tspan font-weight="normal" font-style="normal">290</tspan></text>
<text transform="translate(309.54 855.23) scale(0.9381 1)" font-size="17.04" fill="#000" stroke="#000" stroke-width="0.45" xml:space="preserve"><tspan font-weight="normal" font-style="normal">288</tspan></text>
<text transform="translate(393.67 855.23) scale(0.9381 1)" font-size="17.04" fill="#000" stroke="#000" stroke-width="0.45" xml:space="preserve"><tspan font-weight="normal" font-style="normal">286</tspan></text>
<text transform="translate(477.81 855.23) scale(0.9263 1)" font-size="17.04" fill="#000" stroke="#000" stroke-width="0.45" xml:space="preserve"><tspan font-weight="normal" font-style="normal">284</tspan></text>
<text transform="translate(561.93 855.23) scale(0.9381 1)" font-size="17.04" fill="#000" stroke="#000" stroke-width="0.45" xml:space="preserve"><tspan font-weight="normal" font-style="normal">282</tspan></text>
<text transform="translate(646.07 855.23) scale(0.9322 1)" font-size="17.04" fill="#000" stroke="#000" stroke-width="0.45" xml:space="preserve"><tspan font-weight="normal" font-style="normal">280</tspan></text>
<text transform="translate(252.15 879.30) scale(1.0102 1)" font-size="19.03" fill="#000" stroke="#000" stroke-width="0.15" xml:space="preserve"><tspan font-weight="bold" font-style="normal">Binding Energy (eV)</tspan></text>
<text transform="translate(41.20 380.17) scale(0.9178 1)" font-size="16.34" fill="#000" stroke="#000" stroke-width="0.15" xml:space="preserve"><tspan font-weight="bold" font-style="normal">c)</tspan></text>
<text transform="translate(407.73 403.07) scale(1.0940 1)" font-size="17.53" fill="#000" stroke="#000" stroke-width="0.15" xml:space="preserve"><tspan font-weight="bold" font-style="normal">C-C, C-H</tspan></text>
<text transform="translate(373.93 511.19) scale(0.9151 1)" font-size="20.99" fill="#000" stroke="#000" stroke-width="0.15" xml:space="preserve"><tspan font-weight="bold" font-style="normal">C-O</tspan></text>
<text transform="translate(244.05 523.61) scale(0.9622 1)" font-size="19.44" fill="#000" stroke="#000" stroke-width="0.15" xml:space="preserve"><tspan font-weight="bold" font-style="normal">O- C=O</tspan></text>
<text transform="translate(37.44 564.43) scale(0.9059 1)" font-size="16.90" fill="#000" stroke="#000" stroke-width="0.15" xml:space="preserve"><tspan font-weight="bold" font-style="normal">AC550</tspan></text>
<text transform="translate(32.54 738.94) scale(0.9369 1)" font-size="16.20" fill="#000" stroke="#000" stroke-width="0.15" xml:space="preserve"><tspan font-weight="bold" font-style="normal">ACFL550</tspan></text>
<text transform="translate(19.00 623.47) rotate(-90) scale(0.9672 1)" font-size="20.00" fill="#000"><tspan font-weight="bold">CPS</tspan></text>
</svg>
</body></html>
